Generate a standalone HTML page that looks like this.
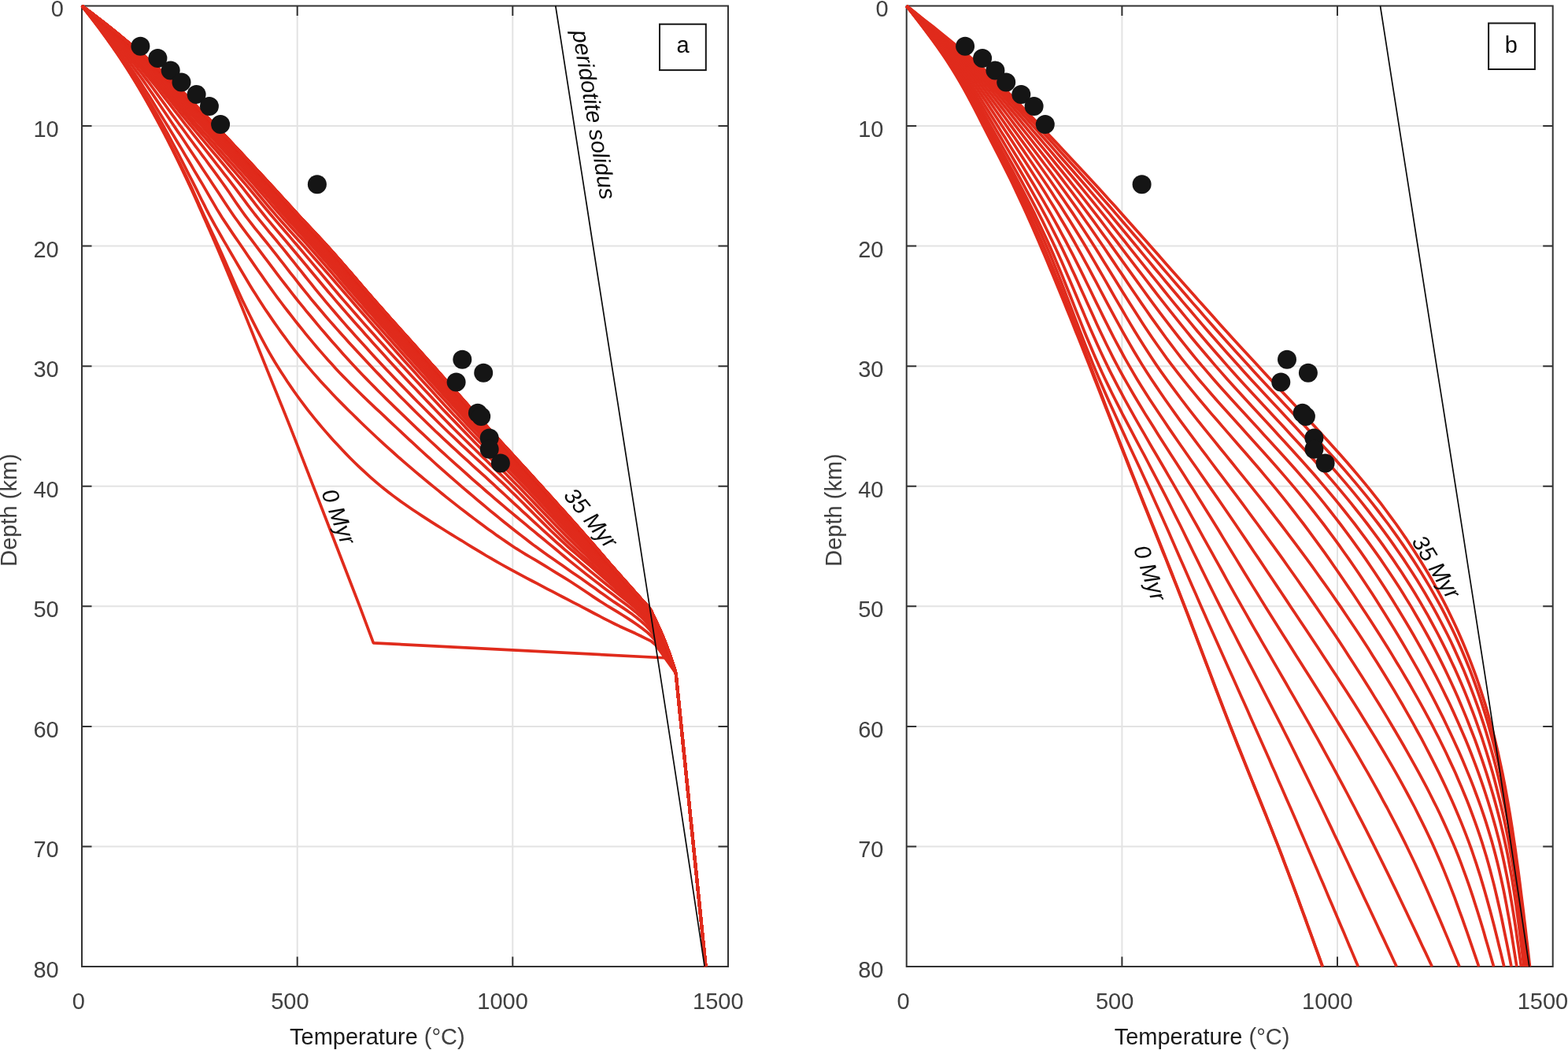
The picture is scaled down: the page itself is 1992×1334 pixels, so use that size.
<!DOCTYPE html>
<html lang="en">
<head>
<meta charset="utf-8">
<title>Geotherm evolution: delamination (a) versus progressive thinning (b)</title>
<style>
html,body{margin:0;padding:0;background:#fff;}
body{width:1992px;height:1334px;overflow:hidden;}
svg{display:block;}
svg text{font-family:'Liberation Sans', Arial, Helvetica, sans-serif;}
</style>
</head>
<body>
<svg xmlns="http://www.w3.org/2000/svg" width="1992" height="1334" viewBox="0 0 1992 1334">
<rect width="1992" height="1334" fill="#ffffff"/>
<g id="panel-a">
<path d="M377.7,7.5 V1228 M651.3,7.5 V1228 M104,160.1 H925 M104,312.6 H925 M104,465.2 H925 M104,617.8 H925 M104,770.3 H925 M104,922.9 H925 M104,1075.4 H925" stroke="#e3e3e3" stroke-width="2" fill="none"/>
<rect x="104" y="7.5" width="821" height="1220.5" fill="none" stroke="#333333" stroke-width="2"/>
<path d="M377.7,7.5 v12.5 M377.7,1228 v-12.5 M651.3,7.5 v12.5 M651.3,1228 v-12.5 M104,160.1 h12.5 M925,160.1 h-12.5 M104,312.6 h12.5 M925,312.6 h-12.5 M104,465.2 h12.5 M925,465.2 h-12.5 M104,617.8 h12.5 M925,617.8 h-12.5 M104,770.3 h12.5 M925,770.3 h-12.5 M104,922.9 h12.5 M925,922.9 h-12.5 M104,1075.4 h12.5 M925,1075.4 h-12.5" stroke="#333333" stroke-width="2" fill="none"/>
<clipPath id="clip-a"><rect x="102.5" y="6" width="824" height="1223"/></clipPath>
<g clip-path="url(#clip-a)" fill="none" stroke="#e02b1c" stroke-width="3.7" stroke-linejoin="round" stroke-linecap="butt">
<path d="M104,7.5 L104.5,8.2 L105.1,8.8 L105.6,9.5 L106.1,10.2 L106.6,10.8 L107.2,11.5 L107.7,12.2 L108.2,12.8 L108.7,13.5 L109.3,14.2 L109.8,14.8 L110.3,15.5 L110.8,16.2 L111.3,16.8 L111.9,17.5 L112.4,18.2 L112.9,18.8 L113.4,19.5 L113.9,20.2 L114.4,20.8 L115,21.5 L115.5,22.2 L116,22.8 L116.5,23.5 L117,24.2 L117.5,24.8 L118,25.5 L118.5,26.2 L119,26.8 L119.6,27.5 L120.1,28.2 L120.6,28.8 L121.1,29.5 L121.6,30.2 L122.1,30.8 L122.6,31.5 L123.1,32.2 L123.6,32.8 L124.1,33.5 L124.6,34.2 L125.1,34.8 L125.6,35.5 L126.1,36.2 L126.6,36.8 L127.1,37.5 L127.6,38.2 L128,38.8 L128.5,39.5 L129,40.2 L129.5,40.8 L130,41.5 L130.5,42.2 L131,42.8 L131.5,43.5 L132,44.2 L132.4,44.8 L132.9,45.5 L133.4,46.2 L133.9,46.8 L134.4,47.5 L134.9,48.2 L135.3,48.8 L135.8,49.5 L136.3,50.2 L136.8,50.8 L137.2,51.5 L137.7,52.2 L138.2,52.8 L138.7,53.5 L139.1,54.2 L139.6,54.8 L140.1,55.5 L140.6,56.2 L141,56.8 L141.5,57.5 L142,58.2 L142.4,58.8 L142.9,59.5 L143.4,60.2 L143.8,60.8 L144.3,61.5 L144.7,62.2 L145.2,62.8 L145.7,63.5 L146.1,64.2 L146.6,64.8 L147,65.5 L147.5,66.2 L147.9,66.8 L148.4,67.5 L148.9,68.2 L149.3,68.8 L149.8,69.5 L150.2,70.2 L150.7,70.8 L151.1,71.5 L151.6,72.2 L152,72.8 L152.4,73.5 L152.9,74.2 L153.3,74.8 L153.8,75.5 L154.2,76.2 L154.7,76.8 L155.1,77.5 L155.5,78.2 L156,78.8 L156.4,79.5 L156.8,80.2 L157.3,80.8 L157.7,81.5 L158.1,82.2 L158.6,82.8 L159,83.5 L159.4,84.2 L159.9,84.8 L160.3,85.5 L160.7,86.2 L161.1,86.8 L161.6,87.5 L162,88.2 L162.4,88.8 L162.8,89.5 L163.3,90.2 L163.7,90.8 L164.1,91.5 L164.5,92.1 L164.9,92.8 L165.4,93.5 L165.8,94.1 L166.2,94.8 L166.6,95.5 L167,96.1 L167.4,96.8 L167.8,97.5 L168.2,98.1 L168.7,98.8 L169.1,99.5 L169.5,100.1 L169.9,100.8 L170.3,101.5 L170.7,102.1 L171.1,102.8 L171.5,103.5 L171.9,104.1 L172.3,104.8 L172.7,105.5 L173.1,106.1 L173.5,106.8 L173.9,107.5 L174.3,108.1 L174.7,108.8 L175.1,109.5 L175.5,110.1 L175.9,110.8 L176.3,111.5 L176.7,112.1 L177.1,112.8 L177.5,113.5 L177.9,114.1 L178.3,114.8 L178.7,115.5 L179,116.1 L179.4,116.8 L179.8,117.5 L180.2,118.1 L180.6,118.8 L181,119.5 L181.4,120.1 L181.8,120.8 L182.1,121.5 L182.5,122.1 L182.9,122.8 L183.3,123.5 L183.7,124.1 L184.1,124.8 L184.4,125.5 L184.8,126.1 L185.2,126.8 L185.6,127.5 L186,128.1 L186.3,128.8 L186.7,129.5 L187.1,130.1 L187.5,130.8 L187.8,131.5 L188.2,132.1 L188.6,132.8 L189,133.5 L189.3,134.1 L189.7,134.8 L190.1,135.5 L190.5,136.1 L190.8,136.8 L191.2,137.5 L191.6,138.1 L191.9,138.8 L192.3,139.5 L192.7,140.1 L193.1,140.8 L193.4,141.5 L193.8,142.1 L194.2,142.8 L194.5,143.5 L194.9,144.1 L195.3,144.8 L195.6,145.5 L196,146.1 L196.3,146.8 L196.7,147.5 L197.1,148.1 L197.4,148.8 L197.8,149.5 L198.2,150.1 L198.5,150.8 L198.9,151.5 L199.2,152.1 L199.6,152.8 L200,153.5 L200.3,154.1 L200.7,154.8 L201,155.5 L201.4,156.1 L201.8,156.8 L202.1,157.5 L202.5,158.1 L202.8,158.8 L203.2,159.5 L203.5,160.1 L203.9,160.8 L204.3,161.5 L204.6,162.1 L205,162.8 L205.3,163.5 L205.7,164.1 L206,164.8 L206.4,165.5 L206.7,166.1 L207.1,166.8 L207.4,167.5 L207.8,168.1 L208.1,168.8 L208.5,169.5 L208.8,170.1 L209.2,170.8 L209.5,171.5 L209.8,172.1 L210.2,172.8 L210.5,173.5 L210.9,174.1 L211.2,174.8 L211.6,175.5 L211.9,176.1 L212.3,176.8 L212.6,177.5 L212.9,178.1 L213.3,178.8 L213.6,179.5 L214,180.1 L214.3,180.8 L214.6,181.5 L215,182.1 L215.3,182.8 L215.6,183.5 L216,184.1 L216.3,184.8 L216.7,185.5 L217,186.1 L217.3,186.8 L217.7,187.5 L218,188.1 L218.3,188.8 L218.7,189.5 L219,190.1 L219.3,190.8 L219.7,191.5 L220,192.1 L220.3,192.8 L220.6,193.5 L221,194.1 L221.3,194.8 L221.6,195.5 L222,196.1 L222.3,196.8 L222.6,197.5 L222.9,198.1 L223.3,198.8 L223.6,199.5 L223.9,200.1 L224.3,200.8 L224.6,201.5 L224.9,202.1 L225.2,202.8 L225.6,203.5 L225.9,204.1 L226.2,204.8 L226.5,205.5 L226.8,206.1 L227.2,206.8 L227.5,207.5 L227.8,208.1 L228.1,208.8 L228.5,209.5 L228.8,210.1 L229.1,210.8 L229.4,211.5 L229.7,212.1 L230.1,212.8 L230.4,213.5 L230.7,214.1 L231,214.8 L231.3,215.5 L231.7,216.1 L232,216.8 L232.3,217.5 L232.6,218.1 L232.9,218.8 L233.2,219.5 L233.6,220.1 L233.9,220.8 L234.2,221.5 L234.5,222.1 L234.8,222.8 L235.1,223.5 L235.5,224.1 L235.8,224.8 L236.1,225.5 L236.4,226.1 L236.7,226.8 L237,227.5 L237.3,228.1 L237.7,228.8 L238,229.5 L238.3,230.1 L238.6,230.8 L238.9,231.5 L239.2,232.1 L239.5,232.8 L239.8,233.5 L240.2,234.1 L240.5,234.8 L240.8,235.5 L241.1,236.1 L241.4,236.8 L241.7,237.5 L242,238.1 L242.3,238.8 L242.6,239.5 L243,240.1 L243.3,240.8 L243.6,241.5 L243.9,242.1 L244.2,242.8 L244.5,243.5 L244.8,244.1 L245.1,244.8 L245.4,245.5 L245.7,246.1 L246,246.8 L246.3,247.5 L246.6,248.1 L246.9,248.8 L247.2,249.5 L247.5,250.1 L247.8,250.8 L248.1,251.5 L248.4,252.1 L248.7,252.8 L249,253.5 L249.3,254.1 L249.6,254.8 L249.9,255.5 L250.2,256.1 L250.5,256.8 L250.8,257.5 L251.1,258.1 L251.4,258.8 L251.7,259.5 L252,260.1 L252.2,260.8 L252.5,261.4 L252.8,262.1 L253.1,262.8 L253.4,263.4 L253.7,264.1 L254,264.8 L254.3,265.4 L254.6,266.1 L254.9,266.8 L255.2,267.4 L255.5,268.1 L255.8,268.8 L256.1,269.4 L256.4,270.1 L256.7,270.8 L257,271.4 L257.3,272.1 L257.5,272.8 L257.8,273.4 L258.1,274.1 L258.4,274.8 L258.7,275.4 L259,276.1 L259.3,276.8 L259.6,277.4 L259.9,278.1 L260.2,278.8 L260.5,279.4 L260.8,280.1 L261.1,280.8 L261.4,281.4 L261.7,282.1 L262,282.8 L262.3,283.4 L262.6,284.1 L262.9,284.8 L263.2,285.4 L263.4,286.1 L263.7,286.8 L264,287.4 L264.3,288.1 L264.6,288.8 L264.9,289.4 L265.2,290.1 L265.5,290.8 L265.8,291.4 L266.1,292.1 L266.4,292.8 L266.7,293.4 L267,294.1 L267.3,294.8 L267.6,295.4 L267.8,296.1 L268.1,296.8 L268.4,297.4 L268.7,298.1 L269,298.8 L269.3,299.4 L269.6,300.1 L269.9,300.8 L270.2,301.4 L270.5,302.1 L270.7,302.8 L271,303.4 L271.3,304.1 L271.6,304.8 L271.9,305.4 L272.2,306.1 L272.5,306.8 L272.8,307.4 L273.1,308.1 L273.3,308.8 L273.6,309.4 L273.9,310.1 L274.2,310.8 L274.5,311.4 L274.8,312.1 L275.1,312.8 L275.3,313.4 L275.6,314.1 L275.9,314.8 L276.2,315.4 L276.5,316.1 L276.8,316.8 L277.1,317.4 L277.3,318.1 L277.6,318.8 L277.9,319.4 L278.2,320.1 L278.5,320.8 L278.8,321.4 L279,322.1 L279.3,322.8 L279.6,323.4 L279.9,324.1 L280.2,324.8 L280.5,325.4 L280.7,326.1 L281,326.8 L281.3,327.4 L281.6,328.1 L281.9,328.8 L282.1,329.4 L282.4,330.1 L282.7,330.8 L283,331.4 L283.3,332.1 L283.6,332.8 L283.8,333.4 L284.1,334.1 L284.4,334.8 L284.7,335.4 L285,336.1 L285.2,336.8 L285.5,337.4 L285.8,338.1 L286.1,338.8 L286.3,339.4 L286.6,340.1 L286.9,340.8 L287.2,341.4 L287.5,342.1 L287.7,342.8 L288,343.4 L288.3,344.1 L288.6,344.8 L288.9,345.4 L289.1,346.1 L289.4,346.8 L289.7,347.4 L290,348.1 L290.2,348.8 L290.5,349.4 L290.8,350.1 L291.1,350.8 L291.4,351.4 L291.6,352.1 L291.9,352.8 L292.2,353.4 L292.5,354.1 L292.7,354.8 L293,355.4 L293.3,356.1 L293.6,356.8 L293.8,357.4 L294.1,358.1 L294.4,358.8 L294.7,359.4 L294.9,360.1 L295.2,360.8 L295.5,361.4 L295.8,362.1 L296.1,362.8 L296.3,363.4 L296.6,364.1 L296.9,364.8 L297.2,365.4 L297.4,366.1 L297.7,366.8 L298,367.4 L298.3,368.1 L298.5,368.8 L298.8,369.4 L299.1,370.1 L299.4,370.8 L299.6,371.4 L299.9,372.1 L300.2,372.8 L300.4,373.4 L300.7,374.1 L301,374.8 L301.3,375.4 L301.5,376.1 L301.8,376.8 L302.1,377.4 L302.4,378.1 L302.6,378.8 L302.9,379.4 L303.2,380.1 L303.5,380.8 L303.7,381.4 L304,382.1 L304.3,382.8 L304.6,383.4 L304.8,384.1 L305.1,384.8 L305.4,385.4 L305.6,386.1 L305.9,386.8 L306.2,387.4 L306.5,388.1 L306.7,388.8 L307,389.4 L307.3,390.1 L307.6,390.8 L307.8,391.4 L308.1,392.1 L308.4,392.8 L308.6,393.4 L308.9,394.1 L309.2,394.8 L309.5,395.4 L309.7,396.1 L310,396.8 L310.3,397.4 L310.5,398.1 L310.8,398.8 L311.1,399.4 L311.4,400.1 L311.6,400.8 L311.9,401.4 L312.2,402.1 L312.4,402.8 L312.7,403.4 L313,404.1 L313.2,404.8 L313.5,405.4 L313.8,406.1 L314.1,406.8 L314.3,407.4 L314.6,408.1 L314.9,408.8 L315.1,409.4 L315.4,410.1 L315.7,410.8 L315.9,411.4 L316.2,412.1 L316.5,412.8 L316.7,413.4 L317,414.1 L317.3,414.8 L317.5,415.4 L317.8,416.1 L318.1,416.8 L318.4,417.4 L318.6,418.1 L318.9,418.8 L319.2,419.4 L319.4,420.1 L319.7,420.8 L320,421.4 L320.2,422.1 L320.5,422.8 L320.8,423.4 L321,424.1 L321.3,424.8 L321.6,425.4 L321.8,426.1 L322.1,426.8 L322.4,427.4 L322.6,428.1 L322.9,428.8 L323.2,429.4 L323.4,430.1 L323.7,430.7 L324,431.4 L324.2,432.1 L324.5,432.7 L324.8,433.4 L325,434.1 L325.3,434.7 L325.6,435.4 L325.8,436.1 L326.1,436.7 L326.4,437.4 L326.6,438.1 L326.9,438.7 L327.2,439.4 L327.4,440.1 L327.7,440.7 L328,441.4 L328.2,442.1 L328.5,442.7 L328.8,443.4 L329,444.1 L329.3,444.7 L329.6,445.4 L329.8,446.1 L330.1,446.7 L330.4,447.4 L330.6,448.1 L330.9,448.7 L331.2,449.4 L331.4,450.1 L331.7,450.7 L332,451.4 L332.2,452.1 L332.5,452.7 L332.8,453.4 L333,454.1 L333.3,454.7 L333.6,455.4 L333.8,456.1 L334.1,456.7 L334.4,457.4 L334.6,458.1 L334.9,458.7 L335.2,459.4 L335.4,460.1 L335.7,460.7 L336,461.4 L336.2,462.1 L336.5,462.7 L336.8,463.4 L337.1,464.1 L337.3,464.7 L337.6,465.4 L337.9,466.1 L338.1,466.7 L338.4,467.4 L338.7,468.1 L338.9,468.7 L339.2,469.4 L339.5,470.1 L339.7,470.7 L340,471.4 L340.3,472.1 L340.6,472.7 L340.8,473.4 L341.1,474.1 L341.4,474.7 L341.6,475.4 L341.9,476.1 L342.2,476.7 L342.4,477.4 L342.7,478.1 L343,478.7 L343.3,479.4 L343.5,480.1 L343.8,480.7 L344.1,481.4 L344.3,482.1 L344.6,482.7 L344.9,483.4 L345.1,484.1 L345.4,484.7 L345.7,485.4 L346,486.1 L346.2,486.7 L346.5,487.4 L346.8,488.1 L347,488.7 L347.3,489.4 L347.6,490.1 L347.9,490.7 L348.1,491.4 L348.4,492.1 L348.7,492.7 L348.9,493.4 L349.2,494.1 L349.5,494.7 L349.7,495.4 L350,496.1 L350.3,496.7 L350.6,497.4 L350.8,498.1 L351.1,498.7 L351.4,499.4 L351.6,500.1 L351.9,500.7 L352.2,501.4 L352.5,502.1 L352.7,502.7 L353,503.4 L353.3,504.1 L353.5,504.7 L353.8,505.4 L354.1,506.1 L354.3,506.7 L354.6,507.4 L354.9,508.1 L355.2,508.7 L355.4,509.4 L355.7,510.1 L356,510.7 L356.2,511.4 L356.5,512.1 L356.8,512.7 L357,513.4 L357.3,514.1 L357.6,514.7 L357.9,515.4 L358.1,516.1 L358.4,516.7 L358.7,517.4 L358.9,518.1 L359.2,518.7 L359.5,519.4 L359.7,520.1 L360,520.7 L360.3,521.4 L360.5,522.1 L360.8,522.7 L361.1,523.4 L361.3,524.1 L361.6,524.7 L361.9,525.4 L362.2,526.1 L362.4,526.7 L362.7,527.4 L363,528.1 L363.2,528.7 L363.5,529.4 L363.8,530.1 L364,530.7 L364.3,531.4 L364.6,532.1 L364.8,532.7 L365.1,533.4 L365.4,534.1 L365.6,534.7 L365.9,535.4 L366.2,536.1 L366.4,536.7 L366.7,537.4 L366.9,538.1 L367.2,538.7 L367.5,539.4 L367.7,540.1 L368,540.7 L368.3,541.4 L368.5,542.1 L368.8,542.7 L369.1,543.4 L369.3,544.1 L369.6,544.7 L369.9,545.4 L370.1,546.1 L370.4,546.7 L370.6,547.4 L370.9,548.1 L371.2,548.7 L371.4,549.4 L371.7,550.1 L372,550.7 L372.2,551.4 L372.5,552.1 L372.7,552.7 L373,553.4 L373.3,554.1 L373.5,554.7 L373.8,555.4 L374.1,556.1 L374.3,556.7 L374.6,557.4 L374.8,558.1 L375.1,558.7 L375.4,559.4 L375.6,560.1 L375.9,560.7 L376.1,561.4 L376.4,562.1 L376.7,562.7 L376.9,563.4 L377.2,564.1 L377.4,564.7 L377.7,565.4 L378,566.1 L378.2,566.7 L378.5,567.4 L378.7,568.1 L379,568.7 L379.3,569.4 L379.5,570.1 L379.8,570.7 L380,571.4 L380.3,572.1 L380.6,572.7 L380.8,573.4 L381.1,574.1 L381.3,574.7 L381.6,575.4 L381.9,576.1 L382.1,576.7 L382.4,577.4 L382.6,578.1 L382.9,578.7 L383.1,579.4 L383.4,580.1 L383.7,580.7 L383.9,581.4 L384.2,582.1 L384.4,582.7 L384.7,583.4 L385,584.1 L385.2,584.7 L385.5,585.4 L385.7,586.1 L386,586.7 L386.2,587.4 L386.5,588.1 L386.8,588.7 L387,589.4 L387.3,590.1 L387.5,590.7 L387.8,591.4 L388,592.1 L388.3,592.7 L388.6,593.4 L388.8,594.1 L389.1,594.7 L389.3,595.4 L389.6,596.1 L389.9,596.7 L390.1,597.4 L390.4,598.1 L390.6,598.7 L390.9,599.4 L391.1,600 L391.4,600.7 L391.7,601.4 L391.9,602 L392.2,602.7 L392.4,603.4 L392.7,604 L392.9,604.7 L393.2,605.4 L393.5,606 L393.7,606.7 L394,607.4 L394.2,608 L394.5,608.7 L394.8,609.4 L395,610 L395.3,610.7 L395.5,611.4 L395.8,612 L396,612.7 L396.3,613.4 L396.6,614 L396.8,614.7 L397.1,615.4 L397.3,616 L397.6,616.7 L397.9,617.4 L398.1,618 L398.4,618.7 L398.6,619.4 L398.9,620 L399.1,620.7 L399.4,621.4 L399.7,622 L399.9,622.7 L400.2,623.4 L400.4,624 L400.7,624.7 L401,625.4 L401.2,626 L401.5,626.7 L401.7,627.4 L402,628 L402.3,628.7 L402.5,629.4 L402.8,630 L403,630.7 L403.3,631.4 L403.5,632 L403.8,632.7 L404.1,633.4 L404.3,634 L404.6,634.7 L404.8,635.4 L405.1,636 L405.4,636.7 L405.6,637.4 L405.9,638 L406.1,638.7 L406.4,639.4 L406.6,640 L406.9,640.7 L407.2,641.4 L407.4,642 L407.7,642.7 L407.9,643.4 L408.2,644 L408.4,644.7 L408.7,645.4 L409,646 L409.2,646.7 L409.5,647.4 L409.7,648 L410,648.7 L410.3,649.4 L410.5,650 L410.8,650.7 L411,651.4 L411.3,652 L411.5,652.7 L411.8,653.4 L412.1,654 L412.3,654.7 L412.6,655.4 L412.8,656 L413.1,656.7 L413.3,657.4 L413.6,658 L413.9,658.7 L414.1,659.4 L414.4,660 L414.6,660.7 L414.9,661.4 L415.2,662 L415.4,662.7 L415.7,663.4 L415.9,664 L416.2,664.7 L416.4,665.4 L416.7,666 L417,666.7 L417.2,667.4 L417.5,668 L417.7,668.7 L418,669.4 L418.2,670 L418.5,670.7 L418.8,671.4 L419,672 L419.3,672.7 L419.5,673.4 L419.8,674 L420,674.7 L420.3,675.4 L420.6,676 L420.8,676.7 L421.1,677.4 L421.3,678 L421.6,678.7 L421.8,679.4 L422.1,680 L422.4,680.7 L422.6,681.4 L422.9,682 L423.1,682.7 L423.4,683.4 L423.6,684 L423.9,684.7 L424.2,685.4 L424.4,686 L424.7,686.7 L424.9,687.4 L425.2,688 L425.4,688.7 L425.7,689.4 L426,690 L426.2,690.7 L426.5,691.4 L426.7,692 L427,692.7 L427.2,693.4 L427.5,694 L457,770.3 L474.4,816.8 L848.2,836 L858.6,855.2 L896.6,1228"/>
<path d="M104,7.5 L108.6,13.3 L113.2,19.1 L117.7,24.9 L122.2,30.8 L126.7,36.7 L131,42.6 L135.4,48.6 L139.7,54.6 L143.9,60.6 L148.1,66.7 L152.2,72.8 L156.3,78.9 L160.3,85 L164.2,91.2 L168.1,97.5 L172,103.8 L175.8,110.1 L179.5,116.4 L183.3,122.8 L186.9,129.2 L190.6,135.7 L194.2,142.1 L197.7,148.6 L201.3,155 L204.8,161.5 L208.3,168 L211.7,174.5 L215.1,181 L218.5,187.6 L221.8,194.2 L225.1,200.8 L228.4,207.4 L231.7,214 L234.9,220.6 L238.1,227.3 L241.2,233.9 L244.4,240.6 L247.4,247.3 L250.5,254 L253.4,260.8 L256.4,267.5 L259.5,274.2 L262.6,280.9 L265.7,287.6 L268.8,294.3 L271.9,300.9 L275,307.6 L278.1,314.3 L281.1,321.1 L284.1,327.8 L287.1,334.5 L290,341.3 L293,348.1 L295.9,354.8 L298.9,361.6 L301.9,368.3 L305,375 L308.1,381.7 L311.3,388.3 L314.5,394.9 L317.8,401.5 L321.1,408.1 L324.4,414.7 L327.8,421.3 L331.2,427.9 L334.7,434.4 L338.2,440.9 L341.8,447.3 L345.5,453.7 L349.2,460 L353.1,466.3 L357,472.5 L361,478.6 L365,484.8 L369.2,490.9 L373.4,497 L377.7,503 L382.1,509 L386.5,514.9 L391,520.8 L395.6,526.6 L400.2,532.3 L404.9,538 L409.6,543.6 L414.4,549.1 L419.3,554.7 L424.2,560.2 L429.2,565.6 L434.3,571.1 L439.4,576.4 L444.6,581.7 L449.9,587 L455.2,592.1 L460.6,597.2 L466,602.2 L471.5,607.1 L477,611.9 L482.6,616.6 L488.3,621.2 L494,625.7 L499.8,630.1 L505.7,634.5 L511.6,638.8 L517.7,643 L523.8,647.2 L529.9,651.3 L536.1,655.4 L542.3,659.4 L548.5,663.4 L554.8,667.4 L561.1,671.3 L567.4,675.2 L573.7,679.1 L580,683 L586.4,686.8 L592.6,690.7 L598.9,694.6 L605.2,698.4 L611.5,702.2 L617.8,706 L624.2,709.7 L630.6,713.4 L637,717 L643.5,720.6 L649.9,724.2 L656.4,727.7 L662.9,731.1 L669.4,734.6 L675.9,738 L682.5,741.4 L689,744.9 L695.5,748.3 L702.1,751.7 L708.6,755.1 L715.1,758.5 L721.7,761.9 L728.2,765.3 L734.8,768.7 L741.3,772.1 L747.8,775.5 L754.3,779 L760.9,782.4 L767.4,785.8 L774,789.2 L780.6,792.5 L787.2,795.7 L793.9,798.7 L800.6,801.8 L807.4,804.8 L814,808 L820.7,811.3 L827.4,814.7 L832.9,819.2 L837.2,825.2 L841.5,831.2 L845.7,837.2 L850,843.2 L854.3,849.2 L858.6,855.2 L896.6,1228"/>
<path d="M104,7.5 L108.7,13.1 L113.3,18.8 L117.8,24.5 L122.3,30.2 L126.8,35.9 L131.2,41.7 L135.6,47.5 L139.9,53.3 L144.2,59.2 L148.4,65.1 L152.6,71 L156.7,77 L160.8,83 L164.8,89 L168.8,95.1 L172.7,101.2 L176.6,107.3 L180.4,113.5 L184.2,119.7 L187.9,126 L191.6,132.3 L195.3,138.5 L199,144.8 L202.6,151.1 L206.1,157.5 L209.7,163.8 L213.2,170.2 L216.6,176.6 L220,183 L223.4,189.4 L226.8,195.9 L230.1,202.3 L233.4,208.8 L236.7,215.3 L240,221.8 L243.3,228.2 L246.6,234.7 L249.9,241.2 L253.1,247.7 L256.3,254.2 L259.6,260.7 L262.8,267.2 L266.2,273.7 L269.7,280 L273.2,286.4 L276.8,292.7 L280.4,299 L284,305.3 L287.7,311.6 L291.3,317.9 L295,324.2 L298.6,330.4 L302.3,336.7 L306,343 L309.7,349.3 L313.4,355.5 L317.1,361.8 L320.9,368 L324.8,374.1 L328.7,380.3 L332.6,386.3 L336.6,392.4 L340.7,398.4 L344.8,404.4 L348.9,410.4 L353.1,416.3 L357.4,422.3 L361.7,428.2 L366,434 L370.4,439.8 L374.8,445.6 L379.3,451.3 L383.8,457 L388.4,462.6 L393.1,468.1 L397.8,473.6 L402.6,479 L407.4,484.4 L412.3,489.8 L417.3,495.1 L422.3,500.4 L427.3,505.7 L432.4,510.9 L437.6,516.1 L442.7,521.2 L447.9,526.3 L453.1,531.4 L458.3,536.5 L463.5,541.5 L468.8,546.5 L474.1,551.5 L479.4,556.5 L484.7,561.4 L490.1,566.3 L495.5,571.2 L500.9,576 L506.3,580.8 L511.8,585.6 L517.3,590.4 L522.9,595.1 L528.4,599.8 L534,604.5 L539.5,609.2 L545.1,613.8 L550.8,618.4 L556.4,622.9 L562,627.5 L567.7,632.1 L573.4,636.6 L579.1,641.1 L584.8,645.6 L590.6,650 L596.4,654.5 L602.2,658.9 L608,663.3 L613.8,667.6 L619.7,671.9 L625.6,676.1 L631.5,680.4 L637.5,684.5 L643.5,688.6 L649.5,692.7 L655.5,696.7 L661.7,700.5 L667.9,704.3 L674.1,708 L680.4,711.7 L686.6,715.4 L692.8,719.2 L699,723 L705.2,726.8 L711.4,730.6 L717.6,734.4 L723.8,738.3 L729.9,742.2 L736,746.2 L742,750.2 L748,754.3 L754,758.4 L760.1,762.4 L766.2,766.3 L772.4,770.2 L778.6,773.9 L784.8,777.7 L791,781.5 L797.1,785.4 L803.2,789.4 L809.2,793.5 L815.1,797.8 L820.9,802.2 L826.4,807 L831.2,812.3 L835.2,818.4 L839.2,824.5 L843.2,830.6 L847.1,836.7 L851,842.8 L854.8,849 L858.6,855.2 L896.6,1228"/>
<path d="M104,7.5 L108.7,13 L113.4,18.5 L118.1,24 L122.7,29.6 L127.3,35.2 L131.8,40.8 L136.3,46.5 L140.7,52.2 L145.1,57.9 L149.5,63.7 L153.7,69.5 L158,75.3 L162.2,81.1 L166.4,87 L170.4,92.9 L174.5,98.9 L178.5,104.9 L182.4,111 L186.3,117 L190.2,123.1 L194,129.3 L197.8,135.4 L201.6,141.6 L205.4,147.7 L209.2,153.9 L213,160 L216.8,166.2 L220.5,172.3 L224.2,178.5 L228,184.7 L231.7,190.9 L235.3,197.1 L239,203.3 L242.7,209.5 L246.3,215.8 L250,222 L253.7,228.2 L257.4,234.4 L261,240.6 L264.6,246.9 L268.2,253.1 L271.9,259.4 L275.5,265.6 L279.3,271.8 L283.1,277.9 L287.1,283.9 L291.1,289.9 L295.1,295.9 L299.2,301.9 L303.3,307.8 L307.4,313.7 L311.5,319.7 L315.5,325.7 L319.6,331.6 L323.7,337.6 L327.8,343.5 L332,349.4 L336.1,355.4 L340.3,361.3 L344.5,367.1 L348.7,373 L353,378.8 L357.3,384.5 L361.7,390.3 L366.1,396 L370.5,401.7 L374.9,407.4 L379.4,413 L384,418.7 L388.5,424.3 L393.1,429.9 L397.7,435.4 L402.4,441 L407.1,446.4 L411.9,451.9 L416.6,457.3 L421.5,462.6 L426.3,467.9 L431.2,473.2 L436.2,478.4 L441.3,483.5 L446.3,488.6 L451.5,493.7 L456.6,498.8 L461.8,503.8 L467,508.8 L472.3,513.8 L477.5,518.8 L482.8,523.7 L488.1,528.7 L493.3,533.6 L498.6,538.6 L503.9,543.5 L509.1,548.4 L514.4,553.4 L519.7,558.3 L525,563.2 L530.3,568.1 L535.6,573 L540.9,577.9 L546.3,582.7 L551.6,587.5 L557,592.4 L562.4,597.2 L567.8,601.9 L573.2,606.7 L578.7,611.4 L584.1,616.2 L589.6,620.9 L595.1,625.5 L600.6,630.2 L606.1,634.9 L611.7,639.5 L617.2,644.1 L622.8,648.8 L628.3,653.3 L633.9,657.9 L639.5,662.5 L645.2,667 L650.8,671.5 L656.5,676 L662.2,680.4 L667.9,684.8 L673.6,689.2 L679.4,693.6 L685.2,697.8 L691,702.1 L696.9,706.2 L702.8,710.3 L708.8,714.5 L714.7,718.6 L720.6,722.7 L726.5,726.9 L732.5,731 L738.4,735.1 L744.3,739.2 L750.2,743.4 L756,747.6 L761.9,751.9 L767.8,756.1 L773.6,760.2 L779.6,764.4 L785.6,768.4 L791.6,772.4 L797.6,776.4 L803.5,780.6 L809.2,785 L814.8,789.6 L820.2,794.4 L825.2,799.6 L829.6,805.3 L833.5,811.4 L837.2,817.5 L840.9,823.7 L844.6,830 L848.2,836.2 L851.7,842.5 L855.2,848.8 L858.6,855.2 L896.6,1228"/>
<path d="M104,7.5 L108.9,12.8 L113.7,18.1 L118.6,23.5 L123.3,28.9 L128.1,34.3 L132.8,39.8 L137.4,45.3 L142,50.8 L146.6,56.3 L151.1,61.9 L155.6,67.5 L160.1,73.2 L164.5,78.8 L168.8,84.5 L173.1,90.3 L177.4,96 L181.6,101.9 L185.7,107.8 L189.8,113.7 L193.9,119.6 L197.9,125.6 L201.9,131.5 L205.9,137.5 L210,143.5 L214,149.5 L218,155.5 L222,161.4 L226,167.4 L230.1,173.3 L234.1,179.3 L238,185.3 L242,191.3 L246,197.3 L250,203.3 L254,209.3 L257.9,215.2 L261.9,221.2 L265.9,227.2 L269.8,233.2 L273.8,239.2 L277.8,245.2 L281.7,251.3 L285.6,257.3 L289.6,263.3 L293.6,269.3 L297.7,275.2 L301.9,281 L306.1,286.8 L310.4,292.6 L314.7,298.3 L319.1,304.1 L323.4,309.8 L327.7,315.6 L332,321.3 L336.3,327.1 L340.7,332.8 L345,338.6 L349.3,344.3 L353.6,350.1 L358,355.8 L362.4,361.5 L366.8,367.2 L371.2,372.9 L375.6,378.5 L380.1,384.1 L384.7,389.7 L389.2,395.3 L393.8,400.8 L398.4,406.3 L403,411.9 L407.6,417.4 L412.3,422.8 L417,428.3 L421.7,433.7 L426.5,439.1 L431.3,444.5 L436.1,449.9 L440.9,455.2 L445.7,460.5 L450.6,465.8 L455.5,471 L460.5,476.2 L465.5,481.4 L470.5,486.5 L475.6,491.6 L480.6,496.7 L485.7,501.8 L490.8,506.9 L496,511.9 L501.1,516.9 L506.3,521.9 L511.5,526.9 L516.7,531.9 L521.9,536.9 L527.1,541.8 L532.3,546.8 L537.5,551.7 L542.8,556.6 L548,561.5 L553.3,566.4 L558.6,571.3 L563.9,576.2 L569.2,581 L574.6,585.8 L579.9,590.6 L585.3,595.4 L590.6,600.2 L596,605 L601.4,609.8 L606.8,614.5 L612.2,619.2 L617.6,624 L623.1,628.7 L628.5,633.3 L634,638 L639.5,642.6 L645,647.3 L650.5,651.9 L656,656.5 L661.6,661.1 L667.1,665.7 L672.6,670.3 L678.2,674.9 L683.7,679.5 L689.3,684 L694.8,688.6 L700.3,693.2 L705.9,697.8 L711.4,702.4 L716.9,707 L722.5,711.6 L728.1,716.1 L733.7,720.6 L739.3,725.1 L744.9,729.6 L750.6,734 L756.2,738.4 L762,742.8 L767.7,747.2 L773.4,751.5 L779.2,755.8 L784.9,760.2 L790.7,764.5 L796.5,768.8 L802.2,773.2 L807.7,777.7 L813.1,782.5 L818.3,787.5 L823.2,792.7 L827.5,798.5 L831.3,804.6 L835,810.8 L838.6,817 L842.1,823.3 L845.5,829.6 L848.9,835.9 L852.2,842.3 L855.4,848.7 L858.6,855.2 L896.6,1228"/>
<path d="M104,7.5 L109,12.6 L114,17.8 L119,23 L123.9,28.2 L128.8,33.5 L133.7,38.8 L138.5,44.1 L143.3,49.5 L148.1,54.9 L152.8,60.3 L157.4,65.7 L162.1,71.2 L166.7,76.7 L171.2,82.2 L175.7,87.8 L180.2,93.4 L184.5,99 L188.9,104.7 L193.2,110.5 L197.5,116.3 L201.7,122.1 L205.9,127.9 L210.1,133.7 L214.3,139.5 L218.5,145.4 L222.8,151.2 L227,157 L231.3,162.7 L235.6,168.5 L239.8,174.3 L244.1,180 L248.4,185.8 L252.7,191.5 L257,197.3 L261.3,203 L265.5,208.8 L269.8,214.6 L274,220.4 L278.2,226.2 L282.4,232 L286.6,237.9 L290.7,243.8 L294.7,249.7 L298.7,255.7 L302.8,261.6 L306.9,267.5 L311.1,273.3 L315.4,279 L319.8,284.7 L324.2,290.3 L328.8,295.9 L333.3,301.5 L337.8,307 L342.3,312.6 L346.8,318.3 L351.2,323.9 L355.6,329.6 L360,335.2 L364.4,340.9 L368.8,346.6 L373.3,352.2 L377.7,357.9 L382.1,363.5 L386.6,369.1 L391.1,374.7 L395.6,380.3 L400.2,385.8 L404.8,391.3 L409.5,396.8 L414.1,402.2 L418.8,407.6 L423.6,413 L428.3,418.4 L433.1,423.8 L437.9,429.1 L442.7,434.4 L447.6,439.7 L452.4,445 L457.3,450.3 L462.2,455.6 L467.1,460.8 L472,466 L476.9,471.2 L481.9,476.4 L486.8,481.6 L491.8,486.8 L496.8,491.9 L501.9,497 L506.9,502.2 L512,507.3 L517,512.3 L522.1,517.4 L527.2,522.5 L532.3,527.5 L537.5,532.5 L542.6,537.5 L547.8,542.5 L552.9,547.5 L558.2,552.4 L563.4,557.3 L568.6,562.2 L573.9,567.1 L579.2,571.9 L584.5,576.8 L589.8,581.6 L595.1,586.4 L600.4,591.3 L605.7,596.1 L611,600.9 L616.4,605.7 L621.7,610.6 L627,615.4 L632.2,620.3 L637.5,625.1 L642.8,630 L648,634.9 L653.3,639.8 L658.6,644.7 L663.8,649.6 L669.1,654.4 L674.4,659.3 L679.6,664.2 L684.9,669 L690.2,673.9 L695.5,678.7 L700.9,683.5 L706.2,688.3 L711.6,693 L717,697.8 L722.4,702.4 L727.9,707.1 L733.4,711.7 L738.8,716.4 L744.3,721 L749.8,725.6 L755.3,730.2 L760.9,734.8 L766.4,739.3 L772,743.8 L777.6,748.3 L783.2,752.8 L788.7,757.4 L794.3,761.9 L799.9,766.4 L805.4,771.1 L810.7,775.8 L815.9,780.9 L820.8,786.1 L825.3,791.7 L829.1,797.7 L832.7,804 L836.2,810.2 L839.6,816.5 L843,822.9 L846.3,829.3 L849.5,835.7 L852.6,842.2 L855.6,848.7 L858.6,855.2 L896.6,1228"/>
<path d="M104,7.5 L109.2,12.5 L114.3,17.5 L119.4,22.6 L124.5,27.7 L129.5,32.8 L134.5,37.9 L139.5,43.1 L144.4,48.3 L149.3,53.5 L154.2,58.8 L159,64.1 L163.8,69.4 L168.6,74.7 L173.3,80.1 L178,85.5 L182.6,91 L187.2,96.5 L191.8,102 L196.3,107.6 L200.7,113.2 L205.1,118.9 L209.5,124.5 L213.9,130.2 L218.3,135.9 L222.7,141.6 L227.1,147.2 L231.5,152.9 L235.9,158.6 L240.4,164.2 L244.8,169.8 L249.2,175.4 L253.7,181.1 L258.1,186.7 L262.6,192.3 L267,198 L271.4,203.6 L275.8,209.3 L280.2,214.9 L284.6,220.6 L289,226.2 L293.4,231.9 L297.8,237.6 L302.1,243.3 L306.4,249.1 L310.7,254.8 L314.9,260.6 L319.3,266.3 L323.6,272 L328.1,277.6 L332.6,283.2 L337.1,288.7 L341.7,294.3 L346.3,299.8 L350.9,305.3 L355.4,310.8 L360,316.4 L364.5,322 L368.9,327.6 L373.4,333.2 L377.9,338.8 L382.4,344.4 L386.8,350 L391.3,355.6 L395.8,361.2 L400.3,366.8 L404.8,372.3 L409.4,377.9 L413.9,383.4 L418.6,388.9 L423.2,394.3 L427.9,399.7 L432.6,405.2 L437.3,410.6 L442,415.9 L446.8,421.3 L451.6,426.7 L456.4,432 L461.2,437.3 L466,442.6 L470.9,447.9 L475.7,453.2 L480.6,458.4 L485.5,463.7 L490.4,468.9 L495.3,474.1 L500.2,479.3 L505.2,484.5 L510.2,489.6 L515.2,494.8 L520.2,499.9 L525.2,505.1 L530.2,510.2 L535.3,515.2 L540.3,520.3 L545.4,525.4 L550.5,530.4 L555.6,535.5 L560.7,540.5 L565.8,545.5 L571,550.5 L576.2,555.4 L581.4,560.4 L586.6,565.3 L591.8,570.2 L597.1,575.1 L602.3,580 L607.6,584.8 L612.9,589.7 L618.1,594.6 L623.4,599.5 L628.6,604.4 L633.8,609.3 L639,614.2 L644.2,619.2 L649.3,624.2 L654.5,629.2 L659.6,634.2 L664.7,639.3 L669.7,644.4 L674.8,649.4 L679.9,654.5 L685,659.6 L690.1,664.6 L695.2,669.7 L700.3,674.7 L705.5,679.6 L710.7,684.6 L715.9,689.4 L721.2,694.3 L726.5,699 L732,703.7 L737.4,708.4 L742.9,713 L748.3,717.7 L753.7,722.4 L759.1,727.2 L764.5,731.9 L769.9,736.6 L775.2,741.4 L780.6,746.1 L786,750.9 L791.3,755.7 L796.8,760.3 L802.2,765 L807.6,769.8 L812.7,774.7 L817.7,779.9 L822.5,785.3 L826.7,791 L830.4,797.2 L833.8,803.5 L837.2,809.8 L840.5,816.2 L843.8,822.6 L846.9,829 L850,835.5 L852.9,842 L855.8,848.6 L858.6,855.2 L896.6,1228"/>
<path d="M104,7.5 L109.3,12.4 L114.5,17.3 L119.7,22.3 L124.9,27.3 L130,32.3 L135.1,37.3 L140.2,42.4 L145.2,47.5 L150.2,52.6 L155.2,57.8 L160.1,62.9 L165.1,68.1 L169.9,73.4 L174.8,78.6 L179.6,83.9 L184.4,89.3 L189.1,94.6 L193.7,100.1 L198.3,105.6 L202.9,111.1 L207.5,116.6 L212,122.2 L216.5,127.7 L221,133.3 L225.5,138.9 L230,144.5 L234.6,150.1 L239.1,155.6 L243.7,161.1 L248.3,166.6 L252.9,172.1 L257.5,177.6 L262.1,183.1 L266.7,188.6 L271.3,194 L276,199.5 L280.6,205 L285.2,210.5 L289.7,216 L294.3,221.5 L298.9,227.1 L303.4,232.6 L307.9,238.2 L312.4,243.8 L316.8,249.5 L321.2,255.1 L325.6,260.8 L330,266.4 L334.5,272 L339,277.6 L343.6,283.1 L348.2,288.6 L352.8,294.1 L357.4,299.5 L362.1,305 L366.7,310.5 L371.3,316 L375.9,321.5 L380.5,327 L385.1,332.5 L389.7,338 L394.2,343.5 L398.8,349 L403.4,354.5 L408,360 L412.6,365.5 L417.2,371 L421.9,376.4 L426.5,381.9 L431.2,387.3 L435.9,392.7 L440.6,398.1 L445.3,403.5 L450.1,408.9 L454.8,414.3 L459.6,419.6 L464.3,425 L469.1,430.3 L473.9,435.7 L478.7,441 L483.5,446.3 L488.3,451.6 L493.2,456.9 L498,462.2 L502.9,467.4 L507.7,472.7 L512.6,477.9 L517.5,483.2 L522.4,488.4 L527.3,493.6 L532.2,498.8 L537.2,504 L542.1,509.2 L547.1,514.4 L552,519.6 L557,524.7 L562,529.9 L567,535 L572,540.1 L577.1,545.2 L582.1,550.3 L587.2,555.3 L592.3,560.3 L597.5,565.3 L602.6,570.3 L607.7,575.3 L612.9,580.3 L618,585.3 L623.2,590.3 L628.3,595.3 L633.5,600.3 L638.6,605.3 L643.7,610.3 L648.8,615.3 L653.9,620.4 L659,625.5 L664,630.6 L669,635.7 L674,640.9 L679,646 L683.9,651.2 L688.9,656.3 L693.9,661.5 L698.9,666.6 L703.9,671.7 L709,676.8 L714.1,681.9 L719.2,686.9 L724.4,691.8 L729.6,696.7 L734.9,701.5 L740.3,706.3 L745.6,711 L751,715.8 L756.3,720.6 L761.6,725.4 L766.9,730.2 L772.2,735 L777.5,739.9 L782.8,744.7 L788.1,749.5 L793.4,754.4 L798.8,759.1 L804.1,763.9 L809.4,768.8 L814.4,773.8 L819.4,779.1 L823.9,784.5 L828.1,790.4 L831.4,796.7 L834.8,803.1 L838.1,809.4 L841.3,815.8 L844.4,822.3 L847.4,828.8 L850.4,835.3 L853.2,841.9 L855.9,848.5 L858.6,855.2 L896.6,1228"/>
<path d="M104,7.5 L109.3,12.3 L114.6,17.2 L119.9,22 L125.2,26.9 L130.4,31.9 L135.6,36.8 L140.7,41.8 L145.8,46.8 L150.9,51.9 L156,56.9 L161,62 L166,67.2 L171,72.3 L175.9,77.5 L180.8,82.7 L185.7,87.9 L190.5,93.2 L195.3,98.5 L200,103.9 L204.7,109.4 L209.3,114.8 L214,120.3 L218.6,125.8 L223.2,131.3 L227.8,136.8 L232.4,142.3 L237,147.8 L241.7,153.2 L246.3,158.7 L251,164.1 L255.7,169.5 L260.4,174.9 L265.1,180.3 L269.8,185.7 L274.6,191.1 L279.3,196.5 L284,201.9 L288.7,207.3 L293.4,212.7 L298.1,218.1 L302.8,223.6 L307.4,229 L312.1,234.4 L316.7,239.9 L321.3,245.4 L325.9,250.9 L330.5,256.5 L335,262 L339.6,267.5 L344.2,273 L348.8,278.4 L353.5,283.9 L358.2,289.3 L362.9,294.7 L367.6,300.1 L372.2,305.6 L376.9,311 L381.6,316.5 L386.2,321.9 L390.8,327.4 L395.5,332.9 L400.1,338.4 L404.7,343.8 L409.3,349.3 L413.9,354.8 L418.5,360.3 L423.1,365.8 L427.8,371.2 L432.4,376.7 L437.1,382.1 L441.8,387.5 L446.5,392.9 L451.2,398.3 L456,403.7 L460.7,409.1 L465.5,414.4 L470.2,419.8 L475,425.1 L479.8,430.4 L484.6,435.8 L489.4,441.1 L494.2,446.4 L499.1,451.7 L503.9,457 L508.7,462.3 L513.6,467.5 L518.4,472.8 L523.3,478.1 L528.2,483.3 L533.1,488.6 L537.9,493.8 L542.9,499 L547.8,504.3 L552.7,509.5 L557.6,514.7 L562.5,519.9 L567.5,525.1 L572.4,530.2 L577.4,535.4 L582.4,540.6 L587.3,545.7 L592.3,550.9 L597.3,556 L602.3,561.2 L607.3,566.3 L612.4,571.4 L617.4,576.5 L622.4,581.6 L627.5,586.7 L632.5,591.8 L637.5,596.9 L642.6,602 L647.6,607.1 L652.6,612.2 L657.7,617.3 L662.7,622.4 L667.6,627.6 L672.6,632.7 L677.6,637.9 L682.6,643.1 L687.5,648.3 L692.5,653.4 L697.4,658.6 L702.4,663.7 L707.4,668.9 L712.4,674 L717.5,679.1 L722.5,684.2 L727.6,689.2 L732.7,694.2 L737.9,699.1 L743.2,704 L748.5,708.9 L753.7,713.8 L758.9,718.7 L764.2,723.6 L769.4,728.5 L774.6,733.4 L779.8,738.3 L785,743.2 L790.2,748.1 L795.5,753 L800.8,757.9 L806,762.8 L811.1,767.8 L816.1,772.9 L820.9,778.3 L825.4,783.8 L829.2,789.9 L832.5,796.3 L835.8,802.6 L839,809.1 L842,815.5 L845,822 L848,828.6 L850.8,835.2 L853.5,841.8 L856.1,848.5 L858.6,855.2 L896.6,1228"/>
<path d="M104,7.5 L109.4,12.2 L114.8,17 L120.1,21.8 L125.4,26.6 L130.7,31.5 L136,36.4 L141.2,41.3 L146.4,46.2 L151.5,51.2 L156.7,56.2 L161.8,61.2 L166.9,66.3 L171.9,71.4 L176.9,76.5 L181.9,81.6 L186.9,86.7 L191.8,91.9 L196.6,97.2 L201.4,102.5 L206.2,107.8 L211,113.2 L215.7,118.6 L220.4,124 L225.1,129.5 L229.8,134.9 L234.5,140.3 L239.2,145.7 L243.9,151.2 L248.6,156.6 L253.3,161.9 L258.1,167.3 L262.9,172.6 L267.7,178 L272.4,183.3 L277.2,188.7 L282,194 L286.8,199.4 L291.5,204.7 L296.3,210.1 L301,215.4 L305.8,220.8 L310.5,226.2 L315.2,231.6 L319.9,237 L324.5,242.5 L329.1,248 L333.7,253.5 L338.3,259 L342.9,264.5 L347.6,269.9 L352.3,275.4 L357,280.7 L361.8,286.1 L366.6,291.4 L371.4,296.7 L376.2,302 L381,307.3 L385.8,312.6 L390.6,318 L395.3,323.4 L400,328.8 L404.8,334.2 L409.5,339.6 L414.2,345 L418.9,350.4 L423.6,355.8 L428.3,361.2 L433,366.6 L437.7,372 L442.4,377.4 L447.1,382.8 L451.8,388.2 L456.5,393.6 L461.3,399 L466,404.4 L470.7,409.8 L475.4,415.2 L480.2,420.6 L484.9,426 L489.6,431.4 L494.4,436.7 L499.1,442.1 L503.9,447.5 L508.6,452.8 L513.4,458.2 L518.2,463.5 L523,468.8 L527.8,474.1 L532.6,479.4 L537.4,484.7 L542.3,490 L547.1,495.3 L551.9,500.6 L556.8,505.9 L561.7,511.2 L566.5,516.4 L571.4,521.7 L576.3,526.9 L581.2,532.1 L586.1,537.3 L591,542.6 L596,547.7 L600.9,552.9 L605.9,558.1 L610.9,563.2 L615.9,568.4 L620.9,573.5 L625.9,578.6 L630.9,583.8 L635.9,588.9 L640.9,594 L646,599.1 L651,604.2 L656,609.4 L661,614.5 L665.9,619.7 L670.9,624.8 L675.8,630 L680.8,635.2 L685.7,640.4 L690.6,645.7 L695.6,650.9 L700.5,656.1 L705.4,661.3 L710.4,666.5 L715.3,671.6 L720.3,676.8 L725.3,681.9 L730.3,687.1 L735.4,692.1 L740.4,697.2 L745.6,702.2 L750.8,707.1 L755.9,712.1 L761.1,717.1 L766.2,722.1 L771.4,727.1 L776.5,732.1 L781.6,737.1 L786.8,742 L791.9,747 L797.1,752 L802.3,757 L807.5,761.9 L812.5,767 L817.4,772.2 L822.1,777.6 L826.6,783.3 L830,789.5 L833.3,795.9 L836.5,802.3 L839.6,808.8 L842.6,815.3 L845.5,821.8 L848.3,828.4 L851,835.1 L853.7,841.7 L856.2,848.4 L858.6,855.2 L896.6,1228"/>
<path d="M104,7.5 L109.5,12.2 L114.9,16.9 L120.3,21.6 L125.7,26.4 L131,31.1 L136.4,35.9 L141.7,40.8 L146.9,45.7 L152.2,50.5 L157.4,55.5 L162.6,60.4 L167.7,65.4 L172.9,70.4 L178,75.4 L183,80.4 L188.1,85.5 L193.1,90.6 L198,95.8 L202.9,101 L207.8,106.3 L212.7,111.5 L217.5,116.9 L222.3,122.2 L227.1,127.5 L231.9,132.9 L236.6,138.2 L241.4,143.6 L246.2,149 L251,154.3 L255.8,159.6 L260.6,164.9 L265.4,170.2 L270.2,175.6 L275,180.9 L279.8,186.2 L284.6,191.5 L289.4,196.8 L294.2,202.2 L299,207.5 L303.8,212.9 L308.6,218.2 L313.3,223.6 L318.1,229 L322.8,234.3 L327.5,239.7 L332.2,245.2 L336.8,250.6 L341.5,256.1 L346.1,261.6 L350.8,267 L355.5,272.4 L360.2,277.8 L365,283.1 L369.8,288.4 L374.7,293.7 L379.5,299 L384.4,304.3 L389.2,309.6 L393.9,315 L398.7,320.4 L403.4,325.7 L408.1,331.2 L412.8,336.6 L417.5,342 L422.2,347.4 L426.8,352.9 L431.5,358.3 L436.2,363.7 L440.9,369.2 L445.5,374.6 L450.2,380 L454.9,385.4 L459.7,390.8 L464.4,396.2 L469.1,401.6 L473.9,407 L478.6,412.3 L483.4,417.7 L488.1,423.1 L492.9,428.5 L497.6,433.8 L502.4,439.2 L507.2,444.5 L511.9,449.9 L516.7,455.2 L521.5,460.5 L526.3,465.9 L531.1,471.2 L535.9,476.5 L540.7,481.8 L545.5,487.1 L550.4,492.4 L555.2,497.7 L560,503 L564.9,508.3 L569.7,513.6 L574.6,518.9 L579.4,524.1 L584.3,529.4 L589.2,534.6 L594.1,539.9 L599,545.1 L603.9,550.3 L608.9,555.5 L613.8,560.7 L618.8,565.8 L623.8,571 L628.8,576.2 L633.7,581.3 L638.7,586.5 L643.7,591.6 L648.7,596.8 L653.7,601.9 L658.7,607.1 L663.6,612.3 L668.6,617.4 L673.5,622.6 L678.4,627.9 L683.4,633.1 L688.3,638.3 L693.2,643.5 L698,648.8 L702.9,654 L707.8,659.3 L712.8,664.5 L717.7,669.7 L722.6,674.9 L727.5,680.1 L732.5,685.3 L737.5,690.4 L742.5,695.6 L747.6,700.6 L752.6,705.7 L757.7,710.7 L762.8,715.8 L767.9,720.9 L772.9,725.9 L778,731 L783.1,736.1 L788.2,741.1 L793.3,746.2 L798.4,751.2 L803.5,756.2 L808.6,761.3 L813.5,766.4 L818.4,771.7 L823.1,777.1 L827.4,782.8 L830.6,789.2 L833.9,795.7 L837,802.1 L840.1,808.6 L843,815.1 L845.9,821.7 L848.6,828.3 L851.3,835 L853.8,841.7 L856.2,848.4 L858.6,855.2 L896.6,1228"/>
<path d="M104,7.5 L109.5,12.1 L115,16.8 L120.5,21.4 L125.9,26.1 L131.3,30.8 L136.7,35.6 L142,40.4 L147.4,45.2 L152.7,50 L157.9,54.9 L163.2,59.8 L168.4,64.7 L173.6,69.6 L178.7,74.6 L183.9,79.6 L189,84.6 L194.1,89.6 L199.1,94.7 L204.1,99.9 L209,105 L214,110.2 L218.9,115.5 L223.8,120.7 L228.6,126 L233.5,131.3 L238.3,136.6 L243.2,141.9 L248,147.2 L252.8,152.5 L257.7,157.8 L262.5,163.1 L267.4,168.4 L272.2,173.6 L277.1,178.9 L281.9,184.2 L286.7,189.5 L291.5,194.8 L296.4,200.2 L301.2,205.5 L306,210.8 L310.8,216.1 L315.5,221.5 L320.3,226.8 L325.1,232.2 L329.8,237.6 L334.5,243 L339.2,248.4 L343.9,253.8 L348.6,259.3 L353.3,264.7 L358,270.1 L362.8,275.4 L367.6,280.8 L372.4,286.1 L377.3,291.3 L382.1,296.6 L387,301.9 L391.8,307.2 L396.6,312.5 L401.4,317.9 L406.1,323.3 L410.8,328.7 L415.5,334.1 L420.2,339.5 L424.9,344.9 L429.6,350.4 L434.2,355.8 L438.9,361.3 L443.6,366.7 L448.3,372.1 L453,377.5 L457.7,382.9 L462.4,388.3 L467.1,393.7 L471.9,399.1 L476.6,404.5 L481.4,409.9 L486.1,415.2 L490.9,420.6 L495.6,426 L500.4,431.3 L505.2,436.7 L509.9,442 L514.7,447.4 L519.5,452.7 L524.3,458.1 L529.1,463.4 L533.9,468.7 L538.7,474.1 L543.5,479.4 L548.3,484.7 L553.1,490 L557.9,495.3 L562.7,500.7 L567.5,506 L572.4,511.3 L577.2,516.6 L582.1,521.8 L586.9,527.1 L591.8,532.4 L596.6,537.7 L601.5,542.9 L606.4,548.1 L611.3,553.4 L616.3,558.6 L621.2,563.8 L626.1,569 L631.1,574.2 L636.1,579.3 L641,584.5 L646,589.7 L650.9,594.9 L655.9,600.1 L660.8,605.2 L665.8,610.4 L670.7,615.7 L675.6,620.9 L680.5,626.1 L685.4,631.3 L690.3,636.6 L695.2,641.9 L700.1,647.1 L704.9,652.4 L709.8,657.6 L714.7,662.9 L719.6,668.1 L724.5,673.4 L729.4,678.6 L734.3,683.8 L739.2,689 L744.2,694.2 L749.2,699.4 L754.2,704.5 L759.2,709.6 L764.2,714.8 L769.2,719.9 L774.2,725 L779.2,730.1 L784.3,735.3 L789.3,740.4 L794.3,745.5 L799.4,750.6 L804.5,755.6 L809.5,760.8 L814.4,766 L819.2,771.3 L823.9,776.7 L828,782.6 L831.1,789 L834.3,795.4 L837.4,801.9 L840.4,808.4 L843.3,815 L846.1,821.6 L848.8,828.2 L851.4,834.9 L853.9,841.6 L856.3,848.4 L858.6,855.2 L896.6,1228"/>
<path d="M104,7.5 L109.6,12.1 L115.1,16.7 L120.6,21.3 L126.1,25.9 L131.5,30.6 L136.9,35.3 L142.3,40.1 L147.7,44.8 L153,49.6 L158.4,54.4 L163.6,59.3 L168.9,64.1 L174.2,69 L179.4,73.9 L184.6,78.9 L189.7,83.8 L194.8,88.8 L199.9,93.9 L205,98.9 L210,104.1 L215,109.2 L219.9,114.4 L224.9,119.6 L229.8,124.8 L234.7,130.1 L239.6,135.3 L244.5,140.6 L249.4,145.8 L254.3,151.1 L259.2,156.3 L264.1,161.6 L268.9,166.8 L273.8,172.1 L278.7,177.4 L283.5,182.7 L288.4,187.9 L293.2,193.2 L298,198.5 L302.9,203.9 L307.7,209.2 L312.5,214.5 L317.3,219.8 L322.1,225.2 L326.9,230.5 L331.6,235.9 L336.4,241.2 L341.1,246.6 L345.9,252 L350.6,257.4 L355.3,262.8 L360,268.2 L364.8,273.6 L369.6,278.9 L374.4,284.2 L379.3,289.5 L384.2,294.7 L389,300 L393.9,305.3 L398.7,310.6 L403.5,315.9 L408.2,321.3 L413,326.7 L417.7,332.1 L422.4,337.5 L427.1,342.9 L431.8,348.4 L436.4,353.8 L441.1,359.3 L445.8,364.7 L450.5,370.1 L455.2,375.6 L459.9,381 L464.6,386.4 L469.3,391.8 L474.1,397.1 L478.8,402.5 L483.6,407.9 L488.3,413.3 L493.1,418.6 L497.9,424 L502.6,429.3 L507.4,434.7 L512.2,440 L517,445.4 L521.7,450.7 L526.5,456.1 L531.3,461.4 L536.1,466.8 L540.9,472.1 L545.7,477.4 L550.5,482.8 L555.3,488.1 L560.1,493.4 L564.9,498.7 L569.7,504.1 L574.5,509.4 L579.3,514.7 L584.2,520 L589,525.3 L593.8,530.6 L598.7,535.9 L603.5,541.1 L608.4,546.4 L613.3,551.7 L618.2,556.9 L623.1,562.1 L628.1,567.3 L633,572.5 L637.9,577.7 L642.9,582.9 L647.8,588.1 L652.7,593.3 L657.7,598.6 L662.6,603.8 L667.5,609 L672.4,614.2 L677.3,619.4 L682.2,624.7 L687.1,630 L692,635.2 L696.8,640.5 L701.7,645.8 L706.6,651.1 L711.4,656.3 L716.3,661.6 L721.1,666.9 L726,672.1 L730.9,677.4 L735.8,682.7 L740.6,687.9 L745.6,693.1 L750.5,698.3 L755.4,703.5 L760.4,708.7 L765.3,713.9 L770.3,719.1 L775.3,724.3 L780.2,729.5 L785.2,734.6 L790.2,739.8 L795.2,744.9 L800.2,750.1 L805.2,755.2 L810.2,760.4 L815.1,765.6 L819.8,771 L824.6,776.4 L828.4,782.4 L831.5,788.8 L834.7,795.3 L837.8,801.8 L840.7,808.3 L843.6,814.9 L846.3,821.5 L849,828.2 L851.5,834.9 L854,841.6 L856.3,848.4 L858.6,855.2 L896.6,1228"/>
<path d="M104,7.5 L109.6,12 L115.1,16.6 L120.7,21.2 L126.2,25.8 L131.7,30.4 L137.1,35.1 L142.5,39.8 L148,44.5 L153.3,49.3 L158.7,54.1 L164,58.9 L169.3,63.7 L174.6,68.5 L179.8,73.4 L185.1,78.3 L190.3,83.2 L195.4,88.2 L200.6,93.2 L205.7,98.2 L210.7,103.3 L215.8,108.4 L220.8,113.5 L225.8,118.7 L230.7,123.9 L235.7,129.1 L240.6,134.3 L245.6,139.5 L250.5,144.7 L255.4,150 L260.3,155.2 L265.3,160.4 L270.2,165.6 L275.1,170.9 L279.9,176.1 L284.8,181.4 L289.7,186.7 L294.5,192 L299.4,197.2 L304.2,202.5 L309,207.9 L313.9,213.2 L318.7,218.5 L323.5,223.8 L328.3,229.1 L333.1,234.5 L337.9,239.8 L342.6,245.2 L347.4,250.6 L352.1,256 L356.9,261.3 L361.6,266.7 L366.4,272.1 L371.2,277.4 L376.1,282.7 L380.9,287.9 L385.8,293.2 L390.7,298.5 L395.6,303.7 L400.4,309 L405.2,314.4 L410,319.7 L414.7,325.1 L419.4,330.5 L424.1,335.9 L428.8,341.3 L433.5,346.8 L438.2,352.2 L442.9,357.7 L447.5,363.1 L452.2,368.5 L456.9,374 L461.6,379.4 L466.3,384.8 L471.1,390.2 L475.8,395.6 L480.6,400.9 L485.3,406.3 L490.1,411.7 L494.8,417 L499.6,422.4 L504.4,427.7 L509.2,433.1 L514,438.5 L518.7,443.8 L523.5,449.1 L528.3,454.5 L533.1,459.8 L537.9,465.2 L542.7,470.5 L547.5,475.9 L552.3,481.2 L557,486.5 L561.8,491.9 L566.6,497.2 L571.4,502.6 L576.2,507.9 L581,513.2 L585.8,518.5 L590.7,523.8 L595.5,529.1 L600.3,534.4 L605.2,539.7 L610,545 L614.9,550.3 L619.8,555.5 L624.7,560.8 L629.6,566 L634.5,571.2 L639.4,576.5 L644.4,581.7 L649.3,586.9 L654.2,592.1 L659.1,597.3 L664,602.6 L668.9,607.8 L673.8,613 L678.7,618.3 L683.6,623.6 L688.5,628.8 L693.3,634.1 L698.2,639.4 L703,644.7 L707.9,650 L712.7,655.3 L717.5,660.6 L722.4,665.9 L727.2,671.2 L732.1,676.4 L736.9,681.7 L741.8,687 L746.7,692.3 L751.6,697.5 L756.5,702.8 L761.4,708 L766.3,713.2 L771.2,718.5 L776.1,723.7 L781,728.9 L786,734.1 L790.9,739.3 L795.8,744.5 L800.8,749.7 L805.8,754.8 L810.7,760.1 L815.6,765.3 L820.4,770.7 L825.1,776.1 L828.7,782.2 L831.8,788.7 L835,795.2 L838,801.7 L840.9,808.2 L843.8,814.8 L846.5,821.4 L849.1,828.1 L851.6,834.8 L854.1,841.6 L856.4,848.4 L858.6,855.2 L896.6,1228"/>
<path d="M104,7.5 L109.6,12 L115.2,16.5 L120.7,21.1 L126.3,25.7 L131.8,30.3 L137.3,34.9 L142.7,39.6 L148.2,44.3 L153.6,49 L158.9,53.8 L164.3,58.5 L169.6,63.3 L174.9,68.2 L180.2,73 L185.5,77.9 L190.7,82.8 L195.9,87.7 L201.1,92.6 L206.2,97.6 L211.3,102.7 L216.4,107.7 L221.4,112.8 L226.5,118 L231.5,123.1 L236.5,128.3 L241.4,133.5 L246.4,138.7 L251.4,143.9 L256.3,149.1 L261.3,154.3 L266.2,159.5 L271.1,164.7 L276.1,169.9 L281,175.1 L285.8,180.4 L290.7,185.7 L295.6,190.9 L300.4,196.2 L305.3,201.5 L310.1,206.8 L315,212.1 L319.8,217.4 L324.6,222.7 L329.4,228.1 L334.2,233.4 L339,238.7 L343.8,244.1 L348.6,249.4 L353.4,254.8 L358.1,260.2 L362.9,265.5 L367.7,270.9 L372.5,276.2 L377.3,281.5 L382.2,286.7 L387.1,292 L392,297.2 L396.9,302.5 L401.7,307.8 L406.5,313.1 L411.3,318.5 L416.1,323.8 L420.8,329.2 L425.5,334.6 L430.2,340.1 L434.9,345.5 L439.6,350.9 L444.3,356.4 L448.9,361.8 L453.6,367.3 L458.3,372.7 L463,378.1 L467.7,383.5 L472.5,388.9 L477.2,394.3 L482,399.7 L486.7,405 L491.5,410.4 L496.3,415.8 L501,421.1 L505.8,426.5 L510.6,431.8 L515.4,437.2 L520.2,442.5 L524.9,447.9 L529.7,453.2 L534.5,458.6 L539.3,463.9 L544.1,469.3 L548.9,474.6 L553.7,479.9 L558.5,485.3 L563.2,490.6 L568,496 L572.8,501.3 L577.6,506.7 L582.4,512 L587.2,517.3 L592,522.7 L596.8,528 L601.7,533.3 L606.5,538.6 L611.3,543.9 L616.2,549.2 L621.1,554.4 L626,559.7 L630.8,564.9 L635.7,570.2 L640.6,575.4 L645.6,580.7 L650.5,585.9 L655.4,591.1 L660.3,596.4 L665.2,601.6 L670.1,606.9 L675,612.1 L679.8,617.4 L684.7,622.7 L689.5,627.9 L694.4,633.2 L699.2,638.5 L704.1,643.8 L708.9,649.1 L713.7,654.4 L718.6,659.7 L723.4,665 L728.2,670.4 L733.1,675.7 L737.9,681 L742.7,686.3 L747.6,691.6 L752.4,696.8 L757.3,702.1 L762.1,707.4 L767,712.7 L771.9,718 L776.8,723.2 L781.6,728.5 L786.6,733.7 L791.5,738.9 L796.4,744.2 L801.3,749.4 L806.3,754.6 L811.2,759.8 L816,765.1 L820.8,770.5 L825.6,775.9 L828.9,782.1 L832.1,788.6 L835.2,795.1 L838.2,801.6 L841.1,808.1 L843.9,814.7 L846.6,821.4 L849.2,828.1 L851.7,834.8 L854.1,841.6 L856.4,848.4 L858.6,855.2 L896.6,1228"/>
<path d="M104,7.5 L109.6,12 L115.3,16.5 L120.9,21 L126.4,25.5 L132,30.1 L137.5,34.7 L143,39.3 L148.4,44 L153.9,48.7 L159.3,53.4 L164.7,58.1 L170,62.9 L175.4,67.7 L180.7,72.5 L185.9,77.4 L191.2,82.2 L196.4,87.1 L201.6,92.1 L206.8,97 L211.9,102 L217,107.1 L222.1,112.2 L227.1,117.3 L232.1,122.4 L237.1,127.6 L242.1,132.8 L247.1,137.9 L252.1,143.1 L257,148.3 L262,153.5 L266.9,158.7 L271.9,163.9 L276.8,169.1 L281.7,174.3 L286.6,179.6 L291.5,184.8 L296.4,190.1 L301.3,195.4 L306.1,200.7 L311,206 L315.8,211.3 L320.7,216.6 L325.5,221.9 L330.3,227.2 L335.1,232.5 L340,237.8 L344.8,243.1 L349.6,248.5 L354.3,253.9 L359.1,259.2 L363.9,264.6 L368.7,269.9 L373.5,275.2 L378.4,280.5 L383.2,285.8 L388.1,291 L393,296.3 L397.9,301.5 L402.8,306.8 L407.6,312.1 L412.4,317.4 L417.2,322.8 L421.9,328.2 L426.6,333.6 L431.3,339 L436,344.5 L440.7,349.9 L445.4,355.3 L450.1,360.8 L454.7,366.2 L459.4,371.7 L464.1,377.1 L468.8,382.5 L473.6,387.9 L478.3,393.3 L483.1,398.7 L487.8,404 L492.6,409.4 L497.4,414.7 L502.2,420.1 L506.9,425.5 L511.7,430.8 L516.5,436.2 L521.3,441.5 L526.1,446.8 L530.9,452.2 L535.7,457.5 L540.4,462.9 L545.2,468.2 L550,473.6 L554.8,478.9 L559.6,484.3 L564.4,489.6 L569.1,495 L573.9,500.3 L578.7,505.7 L583.5,511 L588.3,516.4 L593.1,521.7 L597.9,527 L602.7,532.4 L607.5,537.7 L612.4,543 L617.2,548.3 L622.1,553.6 L627,558.8 L631.8,564.1 L636.7,569.3 L641.6,574.6 L646.5,579.8 L651.4,585.1 L656.3,590.3 L661.2,595.6 L666.1,600.8 L671,606.1 L675.8,611.4 L680.7,616.6 L685.6,621.9 L690.4,627.2 L695.2,632.5 L700.1,637.8 L704.9,643.1 L709.7,648.4 L714.6,653.8 L719.4,659.1 L724.2,664.4 L729,669.7 L733.9,675 L738.7,680.3 L743.5,685.7 L748.3,691 L753.1,696.3 L758,701.6 L762.8,706.9 L767.6,712.2 L772.4,717.5 L777.3,722.8 L782.2,728.1 L787,733.4 L791.9,738.6 L796.8,743.9 L801.7,749.1 L806.6,754.4 L811.5,759.6 L816.3,764.9 L821.1,770.3 L825.9,775.7 L829.1,782 L832.3,788.5 L835.4,795 L838.4,801.5 L841.3,808.1 L844,814.7 L846.7,821.3 L849.3,828 L851.8,834.8 L854.2,841.5 L856.4,848.4 L858.6,855.2 L896.6,1228"/>
<path d="M104,7.5 L109.7,11.9 L115.3,16.4 L120.9,20.9 L126.5,25.4 L132.1,29.9 L137.7,34.5 L143.2,39.1 L148.7,43.7 L154.1,48.4 L159.6,53.1 L165,57.8 L170.4,62.5 L175.7,67.3 L181,72.1 L186.3,76.9 L191.6,81.8 L196.9,86.6 L202.1,91.6 L207.2,96.5 L212.4,101.5 L217.5,106.6 L222.6,111.6 L227.6,116.7 L232.7,121.9 L237.7,127 L242.7,132.2 L247.7,137.4 L252.6,142.5 L257.6,147.7 L262.6,152.9 L267.5,158.1 L272.5,163.3 L277.4,168.5 L282.4,173.7 L287.3,178.9 L292.2,184.2 L297.1,189.5 L301.9,194.7 L306.8,200 L311.7,205.3 L316.5,210.6 L321.3,215.9 L326.2,221.2 L331,226.5 L335.9,231.8 L340.7,237.1 L345.5,242.4 L350.3,247.8 L355.1,253.1 L359.9,258.5 L364.7,263.8 L369.5,269.1 L374.3,274.4 L379.2,279.7 L384.1,285 L389,290.2 L393.9,295.5 L398.8,300.7 L403.6,306 L408.5,311.3 L413.3,316.6 L418,322 L422.8,327.4 L427.5,332.8 L432.2,338.2 L436.9,343.6 L441.6,349.1 L446.3,354.5 L451,360 L455.6,365.4 L460.3,370.8 L465,376.3 L469.7,381.7 L474.5,387.1 L479.2,392.5 L484,397.8 L488.7,403.2 L493.5,408.6 L498.3,413.9 L503.1,419.3 L507.8,424.6 L512.6,430 L517.4,435.3 L522.2,440.7 L527,446 L531.8,451.4 L536.6,456.7 L541.4,462.1 L546.1,467.4 L550.9,472.8 L555.7,478.1 L560.5,483.5 L565.3,488.8 L570,494.2 L574.8,499.6 L579.6,504.9 L584.4,510.3 L589.2,515.6 L594,521 L598.8,526.3 L603.6,531.6 L608.4,536.9 L613.2,542.3 L618.1,547.6 L622.9,552.8 L627.8,558.1 L632.6,563.4 L637.5,568.7 L642.4,573.9 L647.3,579.2 L652.2,584.4 L657.1,589.7 L662,594.9 L666.8,600.2 L671.7,605.5 L676.6,610.8 L681.4,616 L686.3,621.3 L691.1,626.6 L695.9,632 L700.8,637.3 L705.6,642.6 L710.4,647.9 L715.2,653.2 L720.1,658.5 L724.9,663.9 L729.7,669.2 L734.5,674.5 L739.3,679.8 L744.1,685.2 L748.9,690.5 L753.7,695.9 L758.5,701.2 L763.3,706.5 L768.1,711.9 L772.9,717.2 L777.7,722.5 L782.6,727.8 L787.4,733.1 L792.3,738.4 L797.1,743.7 L802,748.9 L806.9,754.2 L811.8,759.5 L816.6,764.8 L821.4,770.2 L826.1,775.6 L829.3,782 L832.4,788.4 L835.5,794.9 L838.5,801.4 L841.4,808 L844.1,814.6 L846.8,821.3 L849.4,828 L851.8,834.7 L854.2,841.5 L856.4,848.3 L858.6,855.2 L896.6,1228"/>
<path d="M104,7.5 L109.7,11.9 L115.4,16.3 L121,20.8 L126.6,25.3 L132.2,29.8 L137.8,34.3 L143.3,38.9 L148.9,43.5 L154.3,48.2 L159.8,52.8 L165.2,57.5 L170.6,62.2 L176,67 L181.3,71.8 L186.7,76.6 L192,81.4 L197.2,86.3 L202.4,91.2 L207.6,96.1 L212.8,101.1 L217.9,106.1 L223,111.2 L228,116.3 L233.1,121.4 L238.1,126.5 L243.1,131.7 L248.1,136.9 L253.1,142.1 L258.1,147.2 L263,152.4 L268,157.6 L273,162.8 L277.9,168 L282.9,173.2 L287.8,178.4 L292.7,183.7 L297.6,188.9 L302.4,194.2 L307.3,199.5 L312.2,204.8 L317,210 L321.9,215.3 L326.7,220.6 L331.6,225.9 L336.4,231.2 L341.3,236.5 L346.1,241.8 L350.9,247.2 L355.7,252.5 L360.5,257.8 L365.3,263.2 L370.1,268.5 L375,273.8 L379.8,279.1 L384.7,284.4 L389.6,289.6 L394.5,294.8 L399.4,300.1 L404.3,305.4 L409.1,310.6 L413.9,316 L418.7,321.3 L423.5,326.7 L428.2,332.1 L432.9,337.5 L437.6,343 L442.3,348.4 L447,353.8 L451.7,359.3 L456.3,364.7 L461,370.2 L465.7,375.6 L470.4,381 L475.2,386.4 L479.9,391.8 L484.7,397.2 L489.4,402.6 L494.2,407.9 L499,413.3 L503.8,418.6 L508.6,424 L513.3,429.3 L518.1,434.7 L522.9,440 L527.7,445.4 L532.5,450.7 L537.3,456.1 L542.1,461.4 L546.9,466.8 L551.6,472.1 L556.4,477.5 L561.2,482.8 L566,488.2 L570.7,493.6 L575.5,498.9 L580.3,504.3 L585.1,509.6 L589.9,515 L594.7,520.3 L599.4,525.7 L604.2,531 L609.1,536.4 L613.9,541.7 L618.7,547 L623.6,552.3 L628.4,557.6 L633.3,562.8 L638.2,568.1 L643,573.4 L647.9,578.6 L652.8,583.9 L657.7,589.2 L662.5,594.4 L667.4,599.7 L672.3,605 L677.1,610.3 L682,615.6 L686.8,620.9 L691.7,626.2 L696.5,631.5 L701.3,636.8 L706.1,642.1 L711,647.4 L715.8,652.8 L720.6,658.1 L725.4,663.4 L730.2,668.8 L735,674.1 L739.8,679.5 L744.6,684.8 L749.4,690.1 L754.2,695.5 L758.9,700.9 L763.7,706.2 L768.5,711.6 L773.3,716.9 L778.1,722.3 L782.9,727.6 L787.7,732.9 L792.6,738.2 L797.4,743.5 L802.3,748.8 L807.1,754 L812,759.3 L816.8,764.7 L821.6,770 L826.3,775.5 L829.4,781.9 L832.6,788.4 L835.6,794.9 L838.6,801.4 L841.5,808 L844.2,814.6 L846.9,821.3 L849.4,828 L851.9,834.7 L854.2,841.5 L856.5,848.3 L858.6,855.2 L896.6,1228"/>
<path d="M104,7.5 L109.7,11.9 L115.4,16.3 L121.1,20.7 L126.7,25.2 L132.3,29.7 L137.9,34.2 L143.5,38.8 L149,43.4 L154.5,48 L160,52.6 L165.4,57.3 L170.8,62 L176.2,66.7 L181.6,71.5 L186.9,76.3 L192.2,81.1 L197.5,85.9 L202.7,90.8 L207.9,95.8 L213.1,100.8 L218.2,105.8 L223.3,110.8 L228.4,115.9 L233.4,121 L238.4,126.2 L243.5,131.3 L248.5,136.5 L253.4,141.7 L258.4,146.9 L263.4,152.1 L268.4,157.2 L273.3,162.4 L278.3,167.6 L283.2,172.8 L288.2,178 L293.1,183.3 L298,188.5 L302.9,193.8 L307.7,199 L312.6,204.3 L317.5,209.6 L322.3,214.9 L327.2,220.2 L332,225.5 L336.9,230.8 L341.7,236.1 L346.6,241.4 L351.4,246.7 L356.2,252 L361,257.4 L365.8,262.7 L370.6,268 L375.5,273.3 L380.3,278.6 L385.2,283.9 L390.1,289.1 L395.1,294.3 L400,299.6 L404.8,304.8 L409.7,310.1 L414.5,315.5 L419.3,320.8 L424,326.2 L428.8,331.6 L433.5,337 L438.2,342.4 L442.9,347.9 L447.6,353.3 L452.2,358.8 L456.9,364.2 L461.6,369.6 L466.3,375.1 L471,380.5 L475.7,385.9 L480.5,391.3 L485.2,396.7 L490,402 L494.8,407.4 L499.6,412.8 L504.3,418.1 L509.1,423.5 L513.9,428.8 L518.7,434.2 L523.5,439.5 L528.3,444.8 L533.1,450.2 L537.9,455.5 L542.7,460.9 L547.4,466.2 L552.2,471.6 L557,477 L561.8,482.3 L566.5,487.7 L571.3,493.1 L576.1,498.4 L580.9,503.8 L585.6,509.1 L590.4,514.5 L595.2,519.9 L600,525.2 L604.8,530.5 L609.6,535.9 L614.4,541.2 L619.2,546.5 L624.1,551.8 L628.9,557.1 L633.8,562.4 L638.7,567.7 L643.5,573 L648.4,578.2 L653.3,583.5 L658.2,588.8 L663,594 L667.9,599.3 L672.8,604.6 L677.6,609.9 L682.5,615.2 L687.3,620.5 L692.1,625.8 L696.9,631.1 L701.8,636.4 L706.6,641.8 L711.4,647.1 L716.2,652.4 L721,657.8 L725.8,663.1 L730.6,668.4 L735.4,673.8 L740.2,679.1 L745,684.5 L749.8,689.8 L754.5,695.2 L759.3,700.6 L764,706 L768.8,711.4 L773.6,716.7 L778.3,722.1 L783.1,727.4 L788,732.7 L792.8,738 L797.6,743.3 L802.5,748.6 L807.3,753.9 L812.2,759.2 L817,764.6 L821.7,769.9 L826.4,775.4 L829.5,781.9 L832.6,788.3 L835.7,794.8 L838.7,801.4 L841.5,807.9 L844.3,814.6 L846.9,821.3 L849.5,828 L851.9,834.7 L854.2,841.5 L856.5,848.3 L858.6,855.2 L896.6,1228"/>
<path d="M104,7.5 L109.7,11.9 L115.4,16.2 L121.1,20.7 L126.8,25.1 L132.4,29.6 L138,34.1 L143.6,38.7 L149.1,43.2 L154.6,47.8 L160.1,52.5 L165.6,57.1 L171,61.8 L176.4,66.6 L181.8,71.3 L187.1,76.1 L192.4,80.9 L197.7,85.7 L202.9,90.6 L208.2,95.5 L213.3,100.5 L218.5,105.5 L223.6,110.6 L228.6,115.6 L233.7,120.7 L238.7,125.9 L243.7,131 L248.7,136.2 L253.7,141.4 L258.7,146.6 L263.7,151.7 L268.7,156.9 L273.6,162.1 L278.6,167.3 L283.6,172.5 L288.5,177.7 L293.4,182.9 L298.3,188.2 L303.2,193.4 L308.1,198.7 L313,204 L317.8,209.3 L322.7,214.5 L327.5,219.8 L332.4,225.1 L337.2,230.4 L342.1,235.7 L346.9,241 L351.8,246.3 L356.6,251.6 L361.4,257 L366.2,262.3 L371,267.6 L375.9,272.9 L380.8,278.2 L385.6,283.5 L390.6,288.7 L395.5,293.9 L400.4,299.2 L405.3,304.4 L410.1,309.7 L414.9,315 L419.7,320.4 L424.5,325.8 L429.2,331.2 L433.9,336.6 L438.6,342 L443.3,347.4 L448,352.9 L452.7,358.3 L457.4,363.8 L462.1,369.2 L466.8,374.7 L471.5,380.1 L476.2,385.5 L480.9,390.9 L485.7,396.2 L490.5,401.6 L495.2,407 L500,412.3 L504.8,417.7 L509.6,423 L514.4,428.4 L519.2,433.7 L524,439.1 L528.8,444.4 L533.6,449.8 L538.3,455.1 L543.1,460.5 L547.9,465.8 L552.7,471.2 L557.5,476.5 L562.2,481.9 L567,487.3 L571.8,492.6 L576.5,498 L581.3,503.4 L586.1,508.7 L590.9,514.1 L595.7,519.5 L600.4,524.8 L605.2,530.2 L610,535.5 L614.8,540.8 L619.7,546.1 L624.5,551.5 L629.4,556.8 L634.2,562 L639.1,567.3 L643.9,572.6 L648.8,577.9 L653.7,583.2 L658.5,588.4 L663.4,593.7 L668.3,599 L673.1,604.3 L678,609.6 L682.8,614.9 L687.7,620.2 L692.5,625.5 L697.3,630.8 L702.1,636.2 L706.9,641.5 L711.7,646.8 L716.6,652.1 L721.4,657.5 L726.2,662.8 L731,668.2 L735.7,673.5 L740.5,678.9 L745.3,684.2 L750.1,689.6 L754.8,695 L759.6,700.4 L764.3,705.8 L769,711.2 L773.8,716.6 L778.6,721.9 L783.3,727.3 L788.2,732.6 L793,737.9 L797.8,743.2 L802.6,748.5 L807.5,753.9 L812.3,759.2 L817.1,764.5 L821.9,769.9 L826.5,775.3 L829.6,781.8 L832.7,788.3 L835.8,794.8 L838.7,801.3 L841.6,807.9 L844.3,814.6 L847,821.2 L849.5,828 L851.9,834.7 L854.2,841.5 L856.5,848.3 L858.6,855.2 L896.6,1228"/>
<path d="M104,7.5 L109.8,11.8 L115.5,16.2 L121.2,20.6 L126.8,25.1 L132.5,29.5 L138.1,34 L143.7,38.6 L149.2,43.1 L154.7,47.7 L160.2,52.3 L165.7,57 L171.1,61.7 L176.5,66.4 L181.9,71.1 L187.3,75.9 L192.6,80.7 L197.9,85.5 L203.1,90.4 L208.3,95.3 L213.5,100.3 L218.7,105.3 L223.8,110.3 L228.8,115.4 L233.9,120.5 L238.9,125.6 L244,130.8 L249,136 L254,141.1 L258.9,146.3 L263.9,151.5 L268.9,156.7 L273.9,161.8 L278.9,167 L283.8,172.2 L288.7,177.4 L293.7,182.7 L298.6,187.9 L303.5,193.2 L308.3,198.4 L313.2,203.7 L318.1,209 L323,214.3 L327.8,219.5 L332.7,224.8 L337.5,230.1 L342.4,235.4 L347.2,240.7 L352.1,246 L356.9,251.3 L361.7,256.7 L366.5,262 L371.4,267.3 L376.2,272.6 L381.1,277.9 L386,283.1 L390.9,288.4 L395.8,293.6 L400.7,298.8 L405.6,304.1 L410.5,309.4 L415.3,314.7 L420.1,320.1 L424.8,325.4 L429.6,330.8 L434.3,336.2 L439,341.7 L443.7,347.1 L448.4,352.6 L453.1,358 L457.7,363.4 L462.4,368.9 L467.1,374.3 L471.8,379.7 L476.6,385.1 L481.3,390.5 L486.1,395.9 L490.8,401.3 L495.6,406.6 L500.4,412 L505.2,417.4 L510,422.7 L514.7,428.1 L519.5,433.4 L524.3,438.7 L529.1,444.1 L533.9,449.4 L538.7,454.8 L543.5,460.1 L548.3,465.5 L553.1,470.9 L557.8,476.2 L562.6,481.6 L567.4,487 L572.1,492.3 L576.9,497.7 L581.7,503.1 L586.5,508.4 L591.2,513.8 L596,519.2 L600.8,524.5 L605.6,529.9 L610.4,535.2 L615.2,540.5 L620,545.9 L624.8,551.2 L629.7,556.5 L634.5,561.8 L639.4,567 L644.3,572.3 L649.1,577.6 L654,582.9 L658.9,588.2 L663.7,593.5 L668.6,598.7 L673.4,604 L678.3,609.3 L683.1,614.6 L687.9,620 L692.8,625.3 L697.6,630.6 L702.4,635.9 L707.2,641.3 L712,646.6 L716.8,651.9 L721.6,657.3 L726.4,662.6 L731.2,668 L736,673.3 L740.8,678.7 L745.5,684 L750.3,689.4 L755.1,694.8 L759.8,700.2 L764.5,705.6 L769.2,711 L774,716.4 L778.7,721.8 L783.5,727.2 L788.3,732.5 L793.1,737.8 L797.9,743.2 L802.8,748.5 L807.6,753.8 L812.4,759.1 L817.2,764.5 L822,769.8 L826.6,775.3 L829.7,781.8 L832.8,788.3 L835.9,794.8 L838.8,801.3 L841.6,807.9 L844.4,814.5 L847,821.2 L849.5,827.9 L851.9,834.7 L854.3,841.5 L856.5,848.3 L858.6,855.2 L896.6,1228"/>
<path d="M104,7.5 L109.8,11.8 L115.5,16.2 L121.2,20.6 L126.9,25 L132.5,29.5 L138.1,34 L143.7,38.5 L149.3,43 L154.8,47.6 L160.3,52.2 L165.8,56.9 L171.2,61.6 L176.7,66.3 L182,71 L187.4,75.8 L192.7,80.5 L198,85.4 L203.3,90.2 L208.5,95.1 L213.7,100.1 L218.8,105.1 L223.9,110.1 L229,115.2 L234.1,120.3 L239.1,125.5 L244.1,130.6 L249.1,135.8 L254.1,140.9 L259.1,146.1 L264.1,151.3 L269.1,156.5 L274.1,161.6 L279.1,166.8 L284,172 L288.9,177.2 L293.9,182.5 L298.8,187.7 L303.7,192.9 L308.6,198.2 L313.4,203.5 L318.3,208.8 L323.2,214 L328,219.3 L332.9,224.6 L337.8,229.9 L342.6,235.2 L347.5,240.5 L352.3,245.8 L357.2,251.1 L362,256.4 L366.8,261.7 L371.6,267.1 L376.5,272.4 L381.3,277.6 L386.2,282.9 L391.2,288.1 L396.1,293.4 L401,298.6 L405.9,303.8 L410.7,309.1 L415.6,314.4 L420.4,319.8 L425.1,325.2 L429.9,330.6 L434.6,336 L439.3,341.4 L444,346.8 L448.7,352.3 L453.3,357.7 L458,363.2 L462.7,368.6 L467.4,374 L472.1,379.5 L476.8,384.9 L481.6,390.3 L486.4,395.6 L491.1,401 L495.9,406.4 L500.7,411.7 L505.5,417.1 L510.2,422.4 L515,427.8 L519.8,433.1 L524.6,438.5 L529.4,443.8 L534.2,449.2 L539,454.5 L543.8,459.9 L548.6,465.2 L553.4,470.6 L558.1,476 L562.9,481.3 L567.7,486.7 L572.4,492.1 L577.2,497.4 L582,502.8 L586.7,508.2 L591.5,513.5 L596.3,518.9 L601.1,524.3 L605.9,529.6 L610.7,535 L615.5,540.3 L620.3,545.6 L625.1,550.9 L630,556.2 L634.8,561.5 L639.7,566.8 L644.5,572.1 L649.4,577.4 L654.2,582.7 L659.1,588 L664,593.2 L668.8,598.5 L673.7,603.8 L678.5,609.1 L683.4,614.4 L688.2,619.8 L693,625.1 L697.8,630.4 L702.6,635.7 L707.4,641.1 L712.3,646.4 L717.1,651.7 L721.9,657.1 L726.6,662.4 L731.4,667.8 L736.2,673.1 L741,678.5 L745.8,683.9 L750.5,689.3 L755.3,694.6 L760,700.1 L764.7,705.5 L769.4,710.9 L774.1,716.3 L778.9,721.7 L783.6,727.1 L788.4,732.4 L793.2,737.7 L798,743.1 L802.9,748.4 L807.7,753.7 L812.5,759.1 L817.3,764.4 L822.1,769.8 L826.7,775.2 L829.7,781.8 L832.8,788.2 L835.9,794.7 L838.8,801.3 L841.7,807.9 L844.4,814.5 L847,821.2 L849.5,827.9 L852,834.7 L854.3,841.5 L856.5,848.3 L858.6,855.2 L896.6,1228"/>
<path d="M104,7.5 L109.8,11.8 L115.5,16.2 L121.2,20.6 L126.9,25 L132.6,29.4 L138.2,33.9 L143.8,38.4 L149.3,43 L154.9,47.6 L160.4,52.2 L165.9,56.8 L171.3,61.5 L176.7,66.2 L182.1,70.9 L187.5,75.6 L192.8,80.4 L198.1,85.2 L203.4,90.1 L208.6,95 L213.8,100 L218.9,105 L224.1,110 L229.1,115.1 L234.2,120.2 L239.3,125.3 L244.3,130.5 L249.3,135.6 L254.3,140.8 L259.3,146 L264.3,151.1 L269.2,156.3 L274.2,161.5 L279.2,166.7 L284.2,171.9 L289.1,177.1 L294,182.3 L298.9,187.5 L303.8,192.8 L308.7,198 L313.6,203.3 L318.5,208.6 L323.4,213.9 L328.2,219.1 L333.1,224.4 L338,229.7 L342.8,235 L347.7,240.3 L352.5,245.6 L357.4,250.9 L362.2,256.2 L367,261.5 L371.8,266.9 L376.7,272.1 L381.6,277.4 L386.5,282.7 L391.4,287.9 L396.3,293.1 L401.2,298.4 L406.1,303.6 L411,308.9 L415.8,314.2 L420.6,319.6 L425.3,325 L430.1,330.3 L434.8,335.8 L439.5,341.2 L444.2,346.6 L448.9,352.1 L453.6,357.5 L458.3,363 L462.9,368.4 L467.6,373.8 L472.4,379.3 L477.1,384.7 L481.8,390 L486.6,395.4 L491.4,400.8 L496.1,406.2 L500.9,411.5 L505.7,416.9 L510.5,422.2 L515.3,427.6 L520.1,432.9 L524.9,438.3 L529.7,443.6 L534.5,449 L539.3,454.3 L544,459.7 L548.8,465 L553.6,470.4 L558.4,475.7 L563.1,481.1 L567.9,486.5 L572.7,491.9 L577.4,497.2 L582.2,502.6 L587,508 L591.7,513.3 L596.5,518.7 L601.3,524.1 L606.1,529.4 L610.9,534.8 L615.7,540.1 L620.5,545.4 L625.3,550.7 L630.2,556 L635,561.3 L639.9,566.6 L644.7,571.9 L649.6,577.2 L654.4,582.5 L659.3,587.8 L664.2,593.1 L669,598.4 L673.9,603.7 L678.7,609 L683.5,614.3 L688.4,619.6 L693.2,624.9 L698,630.3 L702.8,635.6 L707.6,640.9 L712.4,646.3 L717.2,651.6 L722,656.9 L726.8,662.3 L731.6,667.6 L736.4,673 L741.2,678.4 L745.9,683.8 L750.7,689.1 L755.4,694.5 L760.1,700 L764.8,705.4 L769.5,710.8 L774.2,716.2 L779,721.6 L783.8,727 L788.5,732.3 L793.3,737.7 L798.1,743 L802.9,748.4 L807.8,753.7 L812.6,759 L817.4,764.4 L822.2,769.7 L826.7,775.2 L829.8,781.7 L832.9,788.2 L835.9,794.7 L838.9,801.3 L841.7,807.9 L844.4,814.5 L847,821.2 L849.6,827.9 L852,834.7 L854.3,841.5 L856.5,848.3 L858.6,855.2 L896.6,1228"/>
<path d="M104,7.5 L109.8,11.8 L115.5,16.2 L121.2,20.5 L126.9,24.9 L132.6,29.4 L138.2,33.9 L143.8,38.4 L149.4,42.9 L154.9,47.5 L160.4,52.1 L165.9,56.7 L171.4,61.4 L176.8,66.1 L182.2,70.8 L187.6,75.6 L192.9,80.3 L198.2,85.1 L203.5,90 L208.7,94.9 L213.9,99.9 L219,104.9 L224.2,109.9 L229.2,115 L234.3,120.1 L239.4,125.2 L244.4,130.3 L249.4,135.5 L254.4,140.7 L259.4,145.8 L264.4,151 L269.4,156.2 L274.4,161.3 L279.3,166.5 L284.3,171.7 L289.2,176.9 L294.2,182.2 L299.1,187.4 L304,192.6 L308.9,197.9 L313.8,203.2 L318.6,208.4 L323.5,213.7 L328.4,219 L333.2,224.3 L338.1,229.6 L343,234.8 L347.8,240.1 L352.7,245.4 L357.5,250.7 L362.3,256.1 L367.2,261.4 L372,266.7 L376.9,272 L381.7,277.3 L386.6,282.5 L391.5,287.7 L396.5,293 L401.4,298.2 L406.3,303.5 L411.1,308.7 L416,314.1 L420.8,319.4 L425.5,324.8 L430.3,330.2 L435,335.6 L439.7,341 L444.4,346.4 L449.1,351.9 L453.8,357.3 L458.4,362.8 L463.1,368.2 L467.8,373.7 L472.5,379.1 L477.3,384.5 L482,389.9 L486.8,395.3 L491.5,400.6 L496.3,406 L501.1,411.3 L505.9,416.7 L510.7,422.1 L515.5,427.4 L520.3,432.7 L525.1,438.1 L529.9,443.4 L534.7,448.8 L539.4,454.1 L544.2,459.5 L549,464.8 L553.8,470.2 L558.6,475.6 L563.3,480.9 L568.1,486.3 L572.9,491.7 L577.6,497.1 L582.4,502.4 L587.2,507.8 L591.9,513.2 L596.7,518.5 L601.5,523.9 L606.3,529.3 L611.1,534.6 L615.9,539.9 L620.7,545.3 L625.5,550.6 L630.3,555.9 L635.2,561.2 L640,566.5 L644.9,571.8 L649.7,577.1 L654.6,582.4 L659.5,587.7 L664.3,592.9 L669.2,598.2 L674,603.5 L678.9,608.8 L683.7,614.2 L688.5,619.5 L693.3,624.8 L698.1,630.1 L703,635.5 L707.8,640.8 L712.6,646.1 L717.4,651.5 L722.2,656.8 L727,662.2 L731.7,667.5 L736.5,672.9 L741.3,678.3 L746,683.7 L750.8,689 L755.5,694.4 L760.2,699.9 L764.9,705.3 L769.6,710.7 L774.3,716.1 L779.1,721.5 L783.8,726.9 L788.6,732.3 L793.4,737.6 L798.2,743 L803,748.3 L807.8,753.6 L812.6,759 L817.4,764.3 L822.2,769.7 L826.8,775.2 L829.8,781.7 L832.9,788.2 L836,794.7 L838.9,801.3 L841.7,807.9 L844.4,814.5 L847.1,821.2 L849.6,827.9 L852,834.7 L854.3,841.5 L856.5,848.3 L858.6,855.2 L896.6,1228"/>
<path d="M104,7.5 L109.8,11.8 L115.5,16.1 L121.3,20.5 L126.9,24.9 L132.6,29.4 L138.2,33.8 L143.9,38.3 L149.4,42.9 L155,47.4 L160.5,52 L166,56.7 L171.4,61.3 L176.9,66 L182.3,70.7 L187.6,75.5 L193,80.3 L198.3,85.1 L203.6,89.9 L208.8,94.8 L214,99.8 L219.1,104.8 L224.2,109.8 L229.3,114.9 L234.4,120 L239.5,125.1 L244.5,130.2 L249.5,135.4 L254.5,140.6 L259.5,145.7 L264.5,150.9 L269.5,156.1 L274.5,161.2 L279.4,166.4 L284.4,171.6 L289.3,176.8 L294.3,182 L299.2,187.3 L304.1,192.5 L309,197.8 L313.9,203.1 L318.7,208.3 L323.6,213.6 L328.5,218.9 L333.4,224.2 L338.2,229.4 L343.1,234.7 L348,240 L352.8,245.3 L357.6,250.6 L362.5,255.9 L367.3,261.3 L372.1,266.6 L377,271.9 L381.9,277.1 L386.8,282.4 L391.7,287.6 L396.6,292.8 L401.5,298.1 L406.4,303.3 L411.3,308.6 L416.1,313.9 L420.9,319.3 L425.7,324.6 L430.4,330 L435.1,335.4 L439.8,340.9 L444.5,346.3 L449.2,351.7 L453.9,357.2 L458.6,362.6 L463.3,368.1 L468,373.5 L472.7,378.9 L477.4,384.3 L482.2,389.7 L486.9,395.1 L491.7,400.5 L496.5,405.9 L501.2,411.2 L506,416.6 L510.8,421.9 L515.6,427.3 L520.4,432.6 L525.2,438 L530,443.3 L534.8,448.6 L539.6,454 L544.4,459.3 L549.2,464.7 L553.9,470.1 L558.7,475.4 L563.5,480.8 L568.3,486.2 L573,491.6 L577.8,496.9 L582.5,502.3 L587.3,507.7 L592.1,513 L596.9,518.4 L601.6,523.8 L606.4,529.1 L611.2,534.5 L616,539.8 L620.8,545.2 L625.6,550.5 L630.5,555.8 L635.3,561.1 L640.2,566.4 L645,571.7 L649.9,577 L654.7,582.3 L659.6,587.5 L664.5,592.8 L669.3,598.1 L674.2,603.4 L679,608.7 L683.8,614.1 L688.6,619.4 L693.4,624.7 L698.3,630 L703.1,635.4 L707.9,640.7 L712.7,646 L717.5,651.4 L722.3,656.7 L727.1,662.1 L731.9,667.4 L736.6,672.8 L741.4,678.2 L746.2,683.6 L750.9,689 L755.6,694.4 L760.3,699.8 L765,705.2 L769.7,710.7 L774.4,716.1 L779.2,721.5 L783.9,726.9 L788.7,732.2 L793.5,737.6 L798.3,742.9 L803.1,748.3 L807.9,753.6 L812.7,759 L817.5,764.3 L822.3,769.7 L826.8,775.2 L829.8,781.7 L832.9,788.2 L836,794.7 L838.9,801.3 L841.7,807.9 L844.5,814.5 L847.1,821.2 L849.6,827.9 L852,834.7 L854.3,841.5 L856.5,848.3 L858.6,855.2 L896.6,1228"/>
<path d="M104,7.5 L109.8,11.8 L115.5,16.1 L121.3,20.5 L127,24.9 L132.6,29.3 L138.3,33.8 L143.9,38.3 L149.5,42.8 L155,47.4 L160.5,52 L166,56.6 L171.5,61.3 L176.9,66 L182.3,70.7 L187.7,75.4 L193,80.2 L198.3,85 L203.6,89.8 L208.8,94.7 L214,99.7 L219.2,104.7 L224.3,109.7 L229.4,114.8 L234.5,119.9 L239.5,125 L244.6,130.2 L249.6,135.3 L254.6,140.5 L259.6,145.7 L264.6,150.8 L269.5,156 L274.5,161.2 L279.5,166.3 L284.5,171.5 L289.4,176.7 L294.3,182 L299.3,187.2 L304.2,192.4 L309.1,197.7 L314,203 L318.8,208.2 L323.7,213.5 L328.6,218.8 L333.4,224.1 L338.3,229.4 L343.2,234.6 L348,239.9 L352.9,245.2 L357.7,250.5 L362.6,255.8 L367.4,261.1 L372.2,266.5 L377.1,271.8 L382,277 L386.9,282.3 L391.8,287.5 L396.7,292.7 L401.6,298 L406.5,303.2 L411.4,308.5 L416.2,313.8 L421,319.2 L425.8,324.5 L430.5,329.9 L435.3,335.3 L440,340.8 L444.7,346.2 L449.3,351.6 L454,357.1 L458.7,362.5 L463.4,368 L468.1,373.4 L472.8,378.8 L477.5,384.2 L482.3,389.6 L487,395 L491.8,400.4 L496.6,405.7 L501.4,411.1 L506.1,416.5 L510.9,421.8 L515.7,427.2 L520.5,432.5 L525.3,437.8 L530.1,443.2 L534.9,448.5 L539.7,453.9 L544.5,459.2 L549.3,464.6 L554.1,470 L558.8,475.3 L563.6,480.7 L568.4,486.1 L573.1,491.4 L577.9,496.8 L582.7,502.2 L587.4,507.6 L592.2,512.9 L597,518.3 L601.7,523.7 L606.5,529 L611.3,534.4 L616.1,539.7 L620.9,545.1 L625.8,550.4 L630.6,555.7 L635.4,561 L640.3,566.3 L645.1,571.6 L650,576.9 L654.8,582.2 L659.7,587.5 L664.6,592.8 L669.4,598 L674.3,603.4 L679.1,608.7 L683.9,614 L688.7,619.3 L693.5,624.6 L698.4,630 L703.2,635.3 L708,640.6 L712.8,646 L717.6,651.3 L722.4,656.7 L727.2,662 L731.9,667.4 L736.7,672.7 L741.5,678.1 L746.2,683.5 L751,688.9 L755.7,694.3 L760.4,699.7 L765.1,705.2 L769.8,710.6 L774.5,716 L779.2,721.4 L784,726.8 L788.7,732.2 L793.5,737.6 L798.3,742.9 L803.1,748.3 L807.9,753.6 L812.7,758.9 L817.5,764.3 L822.3,769.6 L826.8,775.2 L829.8,781.7 L832.9,788.2 L836,794.7 L838.9,801.2 L841.7,807.9 L844.5,814.5 L847.1,821.2 L849.6,827.9 L852,834.7 L854.3,841.5 L856.5,848.3 L858.6,855.2 L896.6,1228"/>
<path d="M104,7.5 L109.8,11.8 L115.5,16.1 L121.3,20.5 L127,24.9 L132.6,29.3 L138.3,33.8 L143.9,38.3 L149.5,42.8 L155,47.4 L160.6,52 L166.1,56.6 L171.5,61.2 L176.9,65.9 L182.4,70.6 L187.7,75.4 L193.1,80.1 L198.4,84.9 L203.7,89.8 L208.9,94.7 L214.1,99.6 L219.2,104.6 L224.4,109.7 L229.5,114.7 L234.5,119.8 L239.6,124.9 L244.6,130.1 L249.6,135.2 L254.6,140.4 L259.6,145.6 L264.6,150.8 L269.6,155.9 L274.6,161.1 L279.6,166.3 L284.5,171.5 L289.5,176.7 L294.4,181.9 L299.3,187.1 L304.2,192.4 L309.1,197.6 L314,202.9 L318.9,208.2 L323.8,213.4 L328.7,218.7 L333.5,224 L338.4,229.3 L343.3,234.6 L348.1,239.8 L353,245.1 L357.8,250.4 L362.6,255.8 L367.5,261.1 L372.3,266.4 L377.2,271.7 L382.1,276.9 L387,282.2 L391.9,287.4 L396.8,292.7 L401.7,297.9 L406.6,303.1 L411.5,308.4 L416.3,313.7 L421.1,319.1 L425.9,324.4 L430.6,329.8 L435.3,335.2 L440.1,340.7 L444.8,346.1 L449.4,351.5 L454.1,357 L458.8,362.4 L463.5,367.9 L468.2,373.3 L472.9,378.7 L477.6,384.2 L482.4,389.5 L487.1,394.9 L491.9,400.3 L496.7,405.7 L501.5,411 L506.2,416.4 L511,421.7 L515.8,427.1 L520.6,432.4 L525.4,437.8 L530.2,443.1 L535,448.4 L539.8,453.8 L544.6,459.1 L549.4,464.5 L554.2,469.9 L558.9,475.2 L563.7,480.6 L568.5,486 L573.2,491.4 L578,496.7 L582.8,502.1 L587.5,507.5 L592.3,512.9 L597.1,518.2 L601.8,523.6 L606.6,528.9 L611.4,534.3 L616.2,539.6 L621,545 L625.8,550.3 L630.7,555.6 L635.5,560.9 L640.4,566.2 L645.2,571.5 L650.1,576.8 L654.9,582.1 L659.8,587.4 L664.6,592.7 L669.5,598 L674.3,603.3 L679.2,608.6 L684,613.9 L688.8,619.2 L693.6,624.6 L698.4,629.9 L703.2,635.2 L708.1,640.6 L712.9,645.9 L717.7,651.3 L722.4,656.6 L727.2,662 L732,667.3 L736.8,672.7 L741.6,678.1 L746.3,683.5 L751,688.8 L755.8,694.3 L760.5,699.7 L765.1,705.1 L769.8,710.6 L774.5,716 L779.3,721.4 L784,726.8 L788.8,732.2 L793.6,737.5 L798.3,742.9 L803.1,748.2 L807.9,753.6 L812.7,758.9 L817.5,764.3 L822.3,769.6 L826.8,775.2 L829.9,781.7 L833,788.2 L836,794.7 L838.9,801.2 L841.7,807.8 L844.5,814.5 L847.1,821.2 L849.6,827.9 L852,834.7 L854.3,841.5 L856.5,848.3 L858.6,855.2 L896.6,1228"/>
<path d="M104,7.5 L109.8,11.8 L115.6,16.1 L121.3,20.5 L127,24.9 L132.7,29.3 L138.3,33.8 L143.9,38.3 L149.5,42.8 L155.1,47.4 L160.6,51.9 L166.1,56.6 L171.5,61.2 L177,65.9 L182.4,70.6 L187.8,75.3 L193.1,80.1 L198.4,84.9 L203.7,89.7 L208.9,94.6 L214.1,99.6 L219.3,104.6 L224.4,109.6 L229.5,114.7 L234.6,119.8 L239.6,124.9 L244.7,130 L249.7,135.2 L254.7,140.4 L259.7,145.5 L264.7,150.7 L269.7,155.9 L274.6,161 L279.6,166.2 L284.6,171.4 L289.5,176.6 L294.5,181.8 L299.4,187.1 L304.3,192.3 L309.2,197.6 L314.1,202.8 L319,208.1 L323.8,213.4 L328.7,218.7 L333.6,223.9 L338.5,229.2 L343.3,234.5 L348.2,239.8 L353,245.1 L357.9,250.4 L362.7,255.7 L367.6,261 L372.4,266.3 L377.2,271.6 L382.1,276.9 L387,282.1 L391.9,287.4 L396.9,292.6 L401.8,297.8 L406.7,303.1 L411.6,308.3 L416.4,313.7 L421.2,319 L426,324.4 L430.7,329.8 L435.4,335.2 L440.1,340.6 L444.8,346 L449.5,351.5 L454.2,356.9 L458.9,362.4 L463.6,367.8 L468.3,373.2 L473,378.7 L477.7,384.1 L482.4,389.5 L487.2,394.9 L492,400.2 L496.8,405.6 L501.5,410.9 L506.3,416.3 L511.1,421.6 L515.9,427 L520.7,432.3 L525.5,437.7 L530.3,443 L535.1,448.4 L539.9,453.7 L544.7,459.1 L549.5,464.4 L554.2,469.8 L559,475.2 L563.8,480.5 L568.5,485.9 L573.3,491.3 L578.1,496.7 L582.8,502 L587.6,507.4 L592.4,512.8 L597.1,518.2 L601.9,523.5 L606.7,528.9 L611.5,534.2 L616.3,539.6 L621.1,544.9 L625.9,550.2 L630.7,555.6 L635.6,560.9 L640.4,566.2 L645.3,571.5 L650.1,576.7 L655,582 L659.8,587.3 L664.7,592.6 L669.6,597.9 L674.4,603.2 L679.2,608.5 L684.1,613.9 L688.9,619.2 L693.7,624.5 L698.5,629.9 L703.3,635.2 L708.1,640.5 L712.9,645.9 L717.7,651.2 L722.5,656.6 L727.3,661.9 L732.1,667.3 L736.8,672.6 L741.6,678 L746.4,683.4 L751.1,688.8 L755.8,694.2 L760.5,699.7 L765.2,705.1 L769.9,710.6 L774.6,716 L779.3,721.4 L784,726.8 L788.8,732.2 L793.6,737.5 L798.4,742.9 L803.2,748.2 L808,753.6 L812.8,758.9 L817.5,764.3 L822.4,769.6 L826.8,775.1 L829.9,781.7 L833,788.2 L836,794.7 L838.9,801.2 L841.8,807.8 L844.5,814.5 L847.1,821.2 L849.6,827.9 L852,834.7 L854.3,841.5 L856.5,848.3 L858.6,855.2 L896.6,1228"/>
<path d="M104,7.5 L109.8,11.8 L115.6,16.1 L121.3,20.5 L127,24.9 L132.7,29.3 L138.3,33.8 L143.9,38.3 L149.5,42.8 L155.1,47.3 L160.6,51.9 L166.1,56.5 L171.6,61.2 L177,65.9 L182.4,70.6 L187.8,75.3 L193.1,80.1 L198.4,84.9 L203.7,89.7 L209,94.6 L214.2,99.6 L219.3,104.5 L224.4,109.6 L229.5,114.6 L234.6,119.7 L239.7,124.9 L244.7,130 L249.7,135.2 L254.7,140.3 L259.7,145.5 L264.7,150.7 L269.7,155.8 L274.7,161 L279.7,166.2 L284.6,171.4 L289.6,176.6 L294.5,181.8 L299.4,187 L304.3,192.3 L309.2,197.5 L314.1,202.8 L319,208.1 L323.9,213.3 L328.8,218.6 L333.6,223.9 L338.5,229.2 L343.4,234.4 L348.2,239.7 L353.1,245 L357.9,250.3 L362.8,255.6 L367.6,261 L372.4,266.3 L377.3,271.5 L382.2,276.8 L387.1,282.1 L392,287.3 L396.9,292.5 L401.8,297.8 L406.7,303 L411.6,308.3 L416.5,313.6 L421.2,318.9 L426,324.3 L430.8,329.7 L435.5,335.1 L440.2,340.5 L444.9,346 L449.6,351.4 L454.3,356.9 L458.9,362.3 L463.6,367.8 L468.3,373.2 L473,378.6 L477.8,384 L482.5,389.4 L487.3,394.8 L492,400.2 L496.8,405.5 L501.6,410.9 L506.4,416.2 L511.2,421.6 L516,426.9 L520.8,432.3 L525.6,437.6 L530.4,443 L535.2,448.3 L540,453.7 L544.7,459 L549.5,464.4 L554.3,469.7 L559.1,475.1 L563.8,480.5 L568.6,485.9 L573.4,491.2 L578.1,496.6 L582.9,502 L587.7,507.4 L592.4,512.7 L597.2,518.1 L602,523.5 L606.8,528.8 L611.5,534.2 L616.3,539.5 L621.1,544.9 L626,550.2 L630.8,555.5 L635.6,560.8 L640.5,566.1 L645.3,571.4 L650.2,576.7 L655,582 L659.9,587.3 L664.8,592.6 L669.6,597.9 L674.4,603.2 L679.3,608.5 L684.1,613.8 L688.9,619.2 L693.7,624.5 L698.5,629.8 L703.4,635.2 L708.2,640.5 L713,645.8 L717.8,651.2 L722.6,656.5 L727.3,661.9 L732.1,667.2 L736.9,672.6 L741.7,678 L746.4,683.4 L751.1,688.8 L755.9,694.2 L760.6,699.6 L765.2,705.1 L769.9,710.5 L774.6,716 L779.3,721.4 L784.1,726.8 L788.8,732.1 L793.6,737.5 L798.4,742.9 L803.2,748.2 L808,753.6 L812.8,758.9 L817.6,764.3 L822.4,769.6 L826.9,775.1 L829.9,781.7 L833,788.2 L836,794.7 L839,801.2 L841.8,807.8 L844.5,814.5 L847.1,821.2 L849.6,827.9 L852,834.7 L854.3,841.5 L856.5,848.3 L858.6,855.2 L896.6,1228"/>
<path d="M104,7.5 L109.8,11.8 L115.6,16.1 L121.3,20.5 L127,24.9 L132.7,29.3 L138.3,33.7 L143.9,38.2 L149.5,42.8 L155.1,47.3 L160.6,51.9 L166.1,56.5 L171.6,61.2 L177,65.8 L182.4,70.6 L187.8,75.3 L193.2,80.1 L198.5,84.8 L203.7,89.7 L209,94.6 L214.2,99.5 L219.3,104.5 L224.5,109.5 L229.6,114.6 L234.6,119.7 L239.7,124.8 L244.7,130 L249.7,135.1 L254.7,140.3 L259.7,145.5 L264.7,150.6 L269.7,155.8 L274.7,161 L279.7,166.1 L284.7,171.3 L289.6,176.5 L294.5,181.8 L299.5,187 L304.4,192.2 L309.3,197.5 L314.2,202.7 L319,208 L323.9,213.3 L328.8,218.6 L333.7,223.9 L338.5,229.1 L343.4,234.4 L348.3,239.7 L353.1,245 L358,250.3 L362.8,255.6 L367.6,260.9 L372.5,266.2 L377.3,271.5 L382.2,276.8 L387.1,282 L392,287.3 L397,292.5 L401.9,297.7 L406.8,303 L411.7,308.3 L416.5,313.6 L421.3,318.9 L426.1,324.3 L430.8,329.7 L435.5,335.1 L440.2,340.5 L444.9,345.9 L449.6,351.4 L454.3,356.8 L459,362.3 L463.7,367.7 L468.4,373.1 L473.1,378.6 L477.8,384 L482.6,389.4 L487.3,394.8 L492.1,400.1 L496.9,405.5 L501.6,410.8 L506.4,416.2 L511.2,421.5 L516,426.9 L520.8,432.2 L525.6,437.6 L530.4,442.9 L535.2,448.3 L540,453.6 L544.8,459 L549.6,464.3 L554.4,469.7 L559.1,475.1 L563.9,480.4 L568.7,485.8 L573.4,491.2 L578.2,496.6 L582.9,501.9 L587.7,507.3 L592.5,512.7 L597.2,518.1 L602,523.4 L606.8,528.8 L611.6,534.1 L616.4,539.5 L621.2,544.8 L626,550.1 L630.8,555.5 L635.7,560.8 L640.5,566.1 L645.4,571.4 L650.2,576.7 L655.1,582 L659.9,587.3 L664.8,592.6 L669.6,597.9 L674.5,603.2 L679.3,608.5 L684.1,613.8 L689,619.1 L693.8,624.5 L698.6,629.8 L703.4,635.1 L708.2,640.5 L713,645.8 L717.8,651.1 L722.6,656.5 L727.4,661.8 L732.2,667.2 L736.9,672.6 L741.7,678 L746.4,683.3 L751.2,688.7 L755.9,694.2 L760.6,699.6 L765.2,705.1 L769.9,710.5 L774.6,715.9 L779.4,721.4 L784.1,726.7 L788.9,732.1 L793.6,737.5 L798.4,742.8 L803.2,748.2 L808,753.5 L812.8,758.9 L817.6,764.3 L822.4,769.6 L826.9,775.1 L829.9,781.7 L833,788.2 L836,794.7 L839,801.2 L841.8,807.8 L844.5,814.5 L847.1,821.2 L849.6,827.9 L852,834.7 L854.3,841.5 L856.5,848.3 L858.6,855.2 L896.6,1228"/>
<path d="M104,7.5 L109.8,11.8 L115.6,16.1 L121.3,20.5 L127,24.9 L132.7,29.3 L138.3,33.7 L144,38.2 L149.5,42.8 L155.1,47.3 L160.6,51.9 L166.1,56.5 L171.6,61.2 L177,65.8 L182.4,70.5 L187.8,75.3 L193.2,80 L198.5,84.8 L203.8,89.7 L209,94.6 L214.2,99.5 L219.4,104.5 L224.5,109.5 L229.6,114.6 L234.7,119.7 L239.7,124.8 L244.7,129.9 L249.8,135.1 L254.8,140.3 L259.8,145.4 L264.8,150.6 L269.8,155.8 L274.7,160.9 L279.7,166.1 L284.7,171.3 L289.6,176.5 L294.6,181.7 L299.5,187 L304.4,192.2 L309.3,197.5 L314.2,202.7 L319.1,208 L324,213.3 L328.8,218.5 L333.7,223.8 L338.6,229.1 L343.4,234.4 L348.3,239.7 L353.2,245 L358,250.3 L362.8,255.6 L367.7,260.9 L372.5,266.2 L377.4,271.5 L382.3,276.7 L387.2,282 L392.1,287.2 L397,292.5 L401.9,297.7 L406.8,302.9 L411.7,308.2 L416.5,313.5 L421.3,318.9 L426.1,324.2 L430.8,329.6 L435.6,335 L440.3,340.5 L445,345.9 L449.7,351.3 L454.3,356.8 L459,362.2 L463.7,367.7 L468.4,373.1 L473.1,378.5 L477.9,383.9 L482.6,389.3 L487.4,394.7 L492.1,400.1 L496.9,405.5 L501.7,410.8 L506.5,416.2 L511.3,421.5 L516.1,426.9 L520.9,432.2 L525.7,437.5 L530.5,442.9 L535.3,448.2 L540,453.6 L544.8,458.9 L549.6,464.3 L554.4,469.7 L559.2,475 L563.9,480.4 L568.7,485.8 L573.5,491.2 L578.2,496.5 L583,501.9 L587.7,507.3 L592.5,512.7 L597.3,518 L602.1,523.4 L606.8,528.8 L611.6,534.1 L616.4,539.5 L621.2,544.8 L626.1,550.1 L630.9,555.4 L635.7,560.7 L640.6,566 L645.4,571.3 L650.3,576.6 L655.1,581.9 L660,587.2 L664.8,592.5 L669.7,597.8 L674.5,603.1 L679.4,608.4 L684.2,613.8 L689,619.1 L693.8,624.4 L698.6,629.8 L703.4,635.1 L708.2,640.4 L713,645.8 L717.8,651.1 L722.6,656.5 L727.4,661.8 L732.2,667.2 L737,672.6 L741.7,677.9 L746.5,683.3 L751.2,688.7 L755.9,694.1 L760.6,699.6 L765.3,705 L769.9,710.5 L774.6,715.9 L779.4,721.3 L784.1,726.7 L788.9,732.1 L793.6,737.5 L798.4,742.8 L803.2,748.2 L808,753.5 L812.8,758.9 L817.6,764.2 L822.4,769.6 L826.9,775.1 L829.9,781.7 L833,788.2 L836,794.7 L839,801.2 L841.8,807.8 L844.5,814.5 L847.1,821.2 L849.6,827.9 L852,834.7 L854.3,841.5 L856.5,848.3 L858.6,855.2 L896.6,1228"/>
<path d="M104,7.5 L109.8,11.8 L115.6,16.1 L121.3,20.5 L127,24.9 L132.7,29.3 L138.3,33.7 L144,38.2 L149.5,42.7 L155.1,47.3 L160.6,51.9 L166.1,56.5 L171.6,61.1 L177,65.8 L182.5,70.5 L187.8,75.3 L193.2,80 L198.5,84.8 L203.8,89.6 L209,94.5 L214.2,99.5 L219.4,104.5 L224.5,109.5 L229.6,114.6 L234.7,119.7 L239.7,124.8 L244.8,129.9 L249.8,135.1 L254.8,140.2 L259.8,145.4 L264.8,150.6 L269.8,155.8 L274.8,160.9 L279.7,166.1 L284.7,171.3 L289.7,176.5 L294.6,181.7 L299.5,186.9 L304.4,192.2 L309.3,197.4 L314.2,202.7 L319.1,208 L324,213.2 L328.9,218.5 L333.7,223.8 L338.6,229.1 L343.5,234.4 L348.3,239.6 L353.2,244.9 L358,250.2 L362.9,255.5 L367.7,260.8 L372.6,266.2 L377.4,271.4 L382.3,276.7 L387.2,282 L392.1,287.2 L397,292.4 L402,297.7 L406.9,302.9 L411.7,308.2 L416.6,313.5 L421.4,318.8 L426.1,324.2 L430.9,329.6 L435.6,335 L440.3,340.4 L445,345.9 L449.7,351.3 L454.4,356.8 L459.1,362.2 L463.8,367.6 L468.5,373.1 L473.2,378.5 L477.9,383.9 L482.6,389.3 L487.4,394.7 L492.2,400.1 L496.9,405.4 L501.7,410.8 L506.5,416.1 L511.3,421.5 L516.1,426.8 L520.9,432.2 L525.7,437.5 L530.5,442.9 L535.3,448.2 L540.1,453.6 L544.9,458.9 L549.7,464.3 L554.4,469.6 L559.2,475 L564,480.4 L568.7,485.8 L573.5,491.1 L578.3,496.5 L583,501.9 L587.8,507.3 L592.5,512.6 L597.3,518 L602.1,523.4 L606.9,528.7 L611.7,534.1 L616.5,539.4 L621.3,544.8 L626.1,550.1 L630.9,555.4 L635.7,560.7 L640.6,566 L645.4,571.3 L650.3,576.6 L655.2,581.9 L660,587.2 L664.9,592.5 L669.7,597.8 L674.5,603.1 L679.4,608.4 L684.2,613.7 L689,619.1 L693.8,624.4 L698.6,629.7 L703.4,635.1 L708.3,640.4 L713.1,645.8 L717.9,651.1 L722.6,656.5 L727.4,661.8 L732.2,667.2 L737,672.5 L741.7,677.9 L746.5,683.3 L751.2,688.7 L755.9,694.1 L760.6,699.6 L765.3,705 L770,710.5 L774.7,715.9 L779.4,721.3 L784.1,726.7 L788.9,732.1 L793.7,737.5 L798.4,742.8 L803.2,748.2 L808,753.5 L812.8,758.9 L817.6,764.2 L822.4,769.6 L826.9,775.1 L829.9,781.7 L833,788.2 L836.1,794.7 L839,801.2 L841.8,807.8 L844.5,814.5 L847.1,821.2 L849.6,827.9 L852,834.7 L854.3,841.5 L856.5,848.3 L858.6,855.2 L896.6,1228"/>
<path d="M104,7.5 L109.8,11.8 L115.6,16.1 L121.3,20.5 L127,24.8 L132.7,29.3 L138.3,33.7 L144,38.2 L149.6,42.7 L155.1,47.3 L160.6,51.9 L166.1,56.5 L171.6,61.1 L177.1,65.8 L182.5,70.5 L187.8,75.2 L193.2,80 L198.5,84.8 L203.8,89.6 L209,94.5 L214.2,99.5 L219.4,104.5 L224.5,109.5 L229.6,114.6 L234.7,119.6 L239.7,124.8 L244.8,129.9 L249.8,135.1 L254.8,140.2 L259.8,145.4 L264.8,150.6 L269.8,155.7 L274.8,160.9 L279.8,166.1 L284.7,171.3 L289.7,176.5 L294.6,181.7 L299.5,186.9 L304.4,192.2 L309.3,197.4 L314.2,202.7 L319.1,207.9 L324,213.2 L328.9,218.5 L333.7,223.8 L338.6,229.1 L343.5,234.3 L348.4,239.6 L353.2,244.9 L358.1,250.2 L362.9,255.5 L367.7,260.8 L372.6,266.1 L377.4,271.4 L382.3,276.7 L387.2,281.9 L392.1,287.2 L397.1,292.4 L402,297.6 L406.9,302.9 L411.8,308.2 L416.6,313.5 L421.4,318.8 L426.2,324.2 L430.9,329.6 L435.6,335 L440.3,340.4 L445,345.8 L449.7,351.3 L454.4,356.7 L459.1,362.2 L463.8,367.6 L468.5,373.1 L473.2,378.5 L477.9,383.9 L482.7,389.3 L487.4,394.7 L492.2,400 L497,405.4 L501.7,410.8 L506.5,416.1 L511.3,421.5 L516.1,426.8 L520.9,432.2 L525.7,437.5 L530.5,442.8 L535.3,448.2 L540.1,453.5 L544.9,458.9 L549.7,464.2 L554.5,469.6 L559.2,475 L564,480.4 L568.8,485.7 L573.5,491.1 L578.3,496.5 L583,501.9 L587.8,507.2 L592.6,512.6 L597.3,518 L602.1,523.3 L606.9,528.7 L611.7,534.1 L616.5,539.4 L621.3,544.7 L626.1,550.1 L630.9,555.4 L635.8,560.7 L640.6,566 L645.5,571.3 L650.3,576.6 L655.2,581.9 L660,587.2 L664.9,592.5 L669.7,597.8 L674.6,603.1 L679.4,608.4 L684.2,613.7 L689,619.1 L693.8,624.4 L698.7,629.7 L703.5,635.1 L708.3,640.4 L713.1,645.7 L717.9,651.1 L722.7,656.4 L727.4,661.8 L732.2,667.2 L737,672.5 L741.8,677.9 L746.5,683.3 L751.2,688.7 L756,694.1 L760.6,699.6 L765.3,705 L770,710.5 L774.7,715.9 L779.4,721.3 L784.1,726.7 L788.9,732.1 L793.7,737.5 L798.5,742.8 L803.2,748.2 L808,753.5 L812.8,758.9 L817.6,764.2 L822.4,769.6 L826.9,775.1 L829.9,781.7 L833,788.2 L836.1,794.7 L839,801.2 L841.8,807.8 L844.5,814.5 L847.1,821.2 L849.6,827.9 L852,834.7 L854.3,841.5 L856.5,848.3 L858.6,855.2 L896.6,1228"/>
<path d="M104,7.5 L109.8,11.8 L115.6,16.1 L121.3,20.5 L127,24.8 L132.7,29.3 L138.3,33.7 L144,38.2 L149.6,42.7 L155.1,47.3 L160.7,51.9 L166.2,56.5 L171.6,61.1 L177.1,65.8 L182.5,70.5 L187.9,75.2 L193.2,80 L198.5,84.8 L203.8,89.6 L209,94.5 L214.2,99.5 L219.4,104.4 L224.5,109.5 L229.6,114.5 L234.7,119.6 L239.8,124.8 L244.8,129.9 L249.8,135 L254.8,140.2 L259.8,145.4 L264.8,150.6 L269.8,155.7 L274.8,160.9 L279.8,166.1 L284.7,171.2 L289.7,176.4 L294.6,181.7 L299.5,186.9 L304.5,192.1 L309.4,197.4 L314.2,202.7 L319.1,207.9 L324,213.2 L328.9,218.5 L333.8,223.8 L338.6,229 L343.5,234.3 L348.4,239.6 L353.2,244.9 L358.1,250.2 L362.9,255.5 L367.7,260.8 L372.6,266.1 L377.4,271.4 L382.3,276.7 L387.2,281.9 L392.1,287.2 L397.1,292.4 L402,297.6 L406.9,302.9 L411.8,308.1 L416.6,313.5 L421.4,318.8 L426.2,324.2 L430.9,329.6 L435.6,335 L440.4,340.4 L445.1,345.8 L449.7,351.3 L454.4,356.7 L459.1,362.2 L463.8,367.6 L468.5,373 L473.2,378.5 L477.9,383.9 L482.7,389.3 L487.4,394.6 L492.2,400 L497,405.4 L501.8,410.7 L506.5,416.1 L511.3,421.4 L516.1,426.8 L520.9,432.1 L525.7,437.5 L530.5,442.8 L535.3,448.2 L540.1,453.5 L544.9,458.9 L549.7,464.2 L554.5,469.6 L559.2,475 L564,480.3 L568.8,485.7 L573.5,491.1 L578.3,496.5 L583.1,501.8 L587.8,507.2 L592.6,512.6 L597.4,518 L602.1,523.3 L606.9,528.7 L611.7,534 L616.5,539.4 L621.3,544.7 L626.1,550.1 L631,555.4 L635.8,560.7 L640.6,566 L645.5,571.3 L650.3,576.6 L655.2,581.9 L660,587.2 L664.9,592.5 L669.7,597.8 L674.6,603.1 L679.4,608.4 L684.2,613.7 L689.1,619 L693.9,624.4 L698.7,629.7 L703.5,635 L708.3,640.4 L713.1,645.7 L717.9,651.1 L722.7,656.4 L727.5,661.8 L732.2,667.1 L737,672.5 L741.8,677.9 L746.5,683.3 L751.2,688.7 L756,694.1 L760.7,699.5 L765.3,705 L770,710.5 L774.7,715.9 L779.4,721.3 L784.1,726.7 L788.9,732.1 L793.7,737.5 L798.5,742.8 L803.2,748.2 L808,753.5 L812.8,758.9 L817.6,764.2 L822.4,769.6 L826.9,775.1 L829.9,781.7 L833,788.2 L836.1,794.7 L839,801.2 L841.8,807.8 L844.5,814.5 L847.1,821.2 L849.6,827.9 L852,834.7 L854.3,841.5 L856.5,848.3 L858.6,855.2 L896.6,1228"/>
<path d="M104,7.5 L109.8,11.8 L115.6,16.1 L121.3,20.5 L127,24.8 L132.7,29.3 L138.4,33.7 L144,38.2 L149.6,42.7 L155.1,47.3 L160.7,51.9 L166.2,56.5 L171.6,61.1 L177.1,65.8 L182.5,70.5 L187.9,75.2 L193.2,80 L198.5,84.8 L203.8,89.6 L209,94.5 L214.2,99.4 L219.4,104.4 L224.5,109.5 L229.6,114.5 L234.7,119.6 L239.8,124.7 L244.8,129.9 L249.8,135 L254.8,140.2 L259.8,145.4 L264.8,150.6 L269.8,155.7 L274.8,160.9 L279.8,166 L284.8,171.2 L289.7,176.4 L294.6,181.7 L299.6,186.9 L304.5,192.1 L309.4,197.4 L314.3,202.6 L319.1,207.9 L324,213.2 L328.9,218.5 L333.8,223.7 L338.6,229 L343.5,234.3 L348.4,239.6 L353.2,244.9 L358.1,250.2 L362.9,255.5 L367.8,260.8 L372.6,266.1 L377.5,271.4 L382.3,276.7 L387.2,281.9 L392.2,287.1 L397.1,292.4 L402,297.6 L406.9,302.9 L411.8,308.1 L416.6,313.4 L421.4,318.8 L426.2,324.2 L430.9,329.5 L435.7,335 L440.4,340.4 L445.1,345.8 L449.8,351.3 L454.4,356.7 L459.1,362.1 L463.8,367.6 L468.5,373 L473.2,378.4 L477.9,383.9 L482.7,389.3 L487.4,394.6 L492.2,400 L497,405.4 L501.8,410.7 L506.6,416.1 L511.4,421.4 L516.2,426.8 L521,432.1 L525.8,437.5 L530.6,442.8 L535.3,448.2 L540.1,453.5 L544.9,458.9 L549.7,464.2 L554.5,469.6 L559.3,474.9 L564,480.3 L568.8,485.7 L573.6,491.1 L578.3,496.5 L583.1,501.8 L587.8,507.2 L592.6,512.6 L597.4,518 L602.1,523.3 L606.9,528.7 L611.7,534 L616.5,539.4 L621.3,544.7 L626.1,550 L631,555.4 L635.8,560.7 L640.6,566 L645.5,571.3 L650.3,576.6 L655.2,581.9 L660.1,587.2 L664.9,592.5 L669.8,597.8 L674.6,603.1 L679.4,608.4 L684.3,613.7 L689.1,619 L693.9,624.4 L698.7,629.7 L703.5,635 L708.3,640.4 L713.1,645.7 L717.9,651.1 L722.7,656.4 L727.5,661.8 L732.3,667.1 L737,672.5 L741.8,677.9 L746.5,683.3 L751.3,688.7 L756,694.1 L760.7,699.5 L765.3,705 L770,710.5 L774.7,715.9 L779.4,721.3 L784.2,726.7 L788.9,732.1 L793.7,737.5 L798.5,742.8 L803.2,748.2 L808,753.5 L812.8,758.9 L817.6,764.2 L822.4,769.6 L826.9,775.1 L829.9,781.7 L833,788.2 L836.1,794.7 L839,801.2 L841.8,807.8 L844.5,814.5 L847.1,821.2 L849.6,827.9 L852,834.7 L854.3,841.5 L856.5,848.3 L858.6,855.2 L896.6,1228"/>
<path d="M104,7.5 L109.8,11.8 L115.6,16.1 L121.3,20.5 L127,24.8 L132.7,29.3 L138.4,33.7 L144,38.2 L149.6,42.7 L155.1,47.3 L160.7,51.9 L166.2,56.5 L171.6,61.1 L177.1,65.8 L182.5,70.5 L187.9,75.2 L193.2,80 L198.5,84.8 L203.8,89.6 L209.1,94.5 L214.3,99.4 L219.4,104.4 L224.5,109.5 L229.6,114.5 L234.7,119.6 L239.8,124.7 L244.8,129.9 L249.8,135 L254.8,140.2 L259.8,145.4 L264.8,150.5 L269.8,155.7 L274.8,160.9 L279.8,166 L284.8,171.2 L289.7,176.4 L294.6,181.6 L299.6,186.9 L304.5,192.1 L309.4,197.4 L314.3,202.6 L319.2,207.9 L324,213.2 L328.9,218.5 L333.8,223.7 L338.7,229 L343.5,234.3 L348.4,239.6 L353.3,244.9 L358.1,250.2 L362.9,255.5 L367.8,260.8 L372.6,266.1 L377.5,271.4 L382.3,276.7 L387.3,281.9 L392.2,287.1 L397.1,292.4 L402,297.6 L406.9,302.8 L411.8,308.1 L416.6,313.4 L421.4,318.8 L426.2,324.1 L430.9,329.5 L435.7,334.9 L440.4,340.4 L445.1,345.8 L449.8,351.2 L454.5,356.7 L459.1,362.1 L463.8,367.6 L468.5,373 L473.2,378.4 L478,383.8 L482.7,389.2 L487.5,394.6 L492.2,400 L497,405.4 L501.8,410.7 L506.6,416.1 L511.4,421.4 L516.2,426.8 L521,432.1 L525.8,437.5 L530.6,442.8 L535.4,448.1 L540.2,453.5 L544.9,458.8 L549.7,464.2 L554.5,469.6 L559.3,474.9 L564,480.3 L568.8,485.7 L573.6,491.1 L578.3,496.4 L583.1,501.8 L587.9,507.2 L592.6,512.6 L597.4,517.9 L602.2,523.3 L606.9,528.7 L611.7,534 L616.5,539.4 L621.3,544.7 L626.2,550 L631,555.4 L635.8,560.7 L640.7,566 L645.5,571.3 L650.4,576.6 L655.2,581.9 L660.1,587.1 L664.9,592.4 L669.8,597.7 L674.6,603.1 L679.4,608.4 L684.3,613.7 L689.1,619 L693.9,624.4 L698.7,629.7 L703.5,635 L708.3,640.4 L713.1,645.7 L717.9,651.1 L722.7,656.4 L727.5,661.8 L732.3,667.1 L737,672.5 L741.8,677.9 L746.5,683.3 L751.3,688.7 L756,694.1 L760.7,699.5 L765.3,705 L770,710.5 L774.7,715.9 L779.4,721.3 L784.2,726.7 L788.9,732.1 L793.7,737.4 L798.5,742.8 L803.3,748.2 L808,753.5 L812.8,758.9 L817.6,764.2 L822.5,769.6 L826.9,775.1 L829.9,781.7 L833,788.2 L836.1,794.7 L839,801.2 L841.8,807.8 L844.5,814.5 L847.1,821.2 L849.6,827.9 L852,834.7 L854.3,841.5 L856.5,848.3 L858.6,855.2 L896.6,1228"/>
</g>
<path d="M705.8,7.5 L712.4,49.6 L718.9,91.7 L725.5,133.7 L732.1,175.8 L738.7,217.9 L745.3,260 L751.8,302 L758.4,344.1 L765,386.2 L771.6,428.3 L778.2,470.4 L784.9,512.4 L791.5,554.5 L798.1,596.6 L804.7,638.6 L811.3,680.7 L817.8,722.8 L824.4,764.9 L830.9,807 L837.5,849.1 L844,891.1 L850.5,933.2 L857,975.3 L863.4,1017.4 L869.8,1059.5 L876.2,1101.6 L882.5,1143.8 L888.8,1185.9 L895.1,1228" stroke="#0a0a0a" stroke-width="1.7" fill="none"/>
<g fill="#151515">
<circle cx="178.4" cy="58.7" r="12"/>
<circle cx="200.4" cy="74" r="12"/>
<circle cx="216.7" cy="89.4" r="12"/>
<circle cx="230.5" cy="104.4" r="12"/>
<circle cx="249.6" cy="119.9" r="12"/>
<circle cx="265.9" cy="134.9" r="12"/>
<circle cx="280.1" cy="157.9" r="12"/>
<circle cx="402.9" cy="234.2" r="12"/>
<circle cx="587.3" cy="456.7" r="12"/>
<circle cx="614.2" cy="473.8" r="12"/>
<circle cx="579.6" cy="485.6" r="12"/>
<circle cx="606.9" cy="524.8" r="12"/>
<circle cx="611.2" cy="529" r="12"/>
<circle cx="621.7" cy="556.5" r="12"/>
<circle cx="621.7" cy="570.7" r="12"/>
<circle cx="635.9" cy="588.6" r="12"/>
</g>
<g font-family="'Liberation Sans', Arial, Helvetica, sans-serif">
<text x="81" y="21.4" font-size="29" text-anchor="end" fill="#404040">0</text>
<text x="74.7" y="174" font-size="29" text-anchor="end" fill="#404040">10</text>
<text x="74.7" y="326.5" font-size="29" text-anchor="end" fill="#404040">20</text>
<text x="74.7" y="479.1" font-size="29" text-anchor="end" fill="#404040">30</text>
<text x="74.7" y="631.6" font-size="29" text-anchor="end" fill="#404040">40</text>
<text x="74.7" y="784.2" font-size="29" text-anchor="end" fill="#404040">50</text>
<text x="74.7" y="936.8" font-size="29" text-anchor="end" fill="#404040">60</text>
<text x="74.7" y="1089.3" font-size="29" text-anchor="end" fill="#404040">70</text>
<text x="74.7" y="1241.9" font-size="29" text-anchor="end" fill="#404040">80</text>
<text x="91.8" y="1282" font-size="29" text-anchor="start" fill="#404040">0</text>
<text x="344.2" y="1282" font-size="29" text-anchor="start" fill="#404040">500</text>
<text x="606.3" y="1282" font-size="29" text-anchor="start" fill="#404040">1000</text>
<text x="880" y="1282" font-size="29" text-anchor="start" fill="#404040">1500</text>
<text x="21.3" y="648" font-size="29" text-anchor="middle" fill="#404040" transform="rotate(-90 21.3 648)">Depth (km)</text>
<text x="368" y="1327.3" font-size="29"><tspan fill="#1a1a1a">Temperature </tspan><tspan fill="#404040">(°C)</tspan></text>
<text x="727" y="40" font-size="29" text-anchor="start" fill="#0a0a0a" font-style="italic" transform="rotate(80.5 727 40)">peridotite solidus</text>
<text x="408" y="626" font-size="29" text-anchor="start" fill="#0a0a0a" font-style="italic" transform="rotate(69 408 626)">0 Myr</text>
<text x="715" y="630" font-size="29" text-anchor="start" fill="#0a0a0a" font-style="italic" transform="rotate(51 715 630)">35 Myr</text>
<rect x="838" y="30.7" width="58.8" height="58.4" fill="#fff" stroke="#141414" stroke-width="2"/>
<text x="867.6" y="66.8" font-size="29" text-anchor="middle" fill="#0a0a0a">a</text>
</g>
</g>
<g id="panel-b">
<path d="M1425.4,7.5 V1228 M1699,7.5 V1228 M1151.7,160.1 H1972.7 M1151.7,312.6 H1972.7 M1151.7,465.2 H1972.7 M1151.7,617.8 H1972.7 M1151.7,770.3 H1972.7 M1151.7,922.9 H1972.7 M1151.7,1075.4 H1972.7" stroke="#e3e3e3" stroke-width="2" fill="none"/>
<rect x="1151.7" y="7.5" width="821" height="1220.5" fill="none" stroke="#333333" stroke-width="2"/>
<path d="M1425.4,7.5 v12.5 M1425.4,1228 v-12.5 M1699,7.5 v12.5 M1699,1228 v-12.5 M1151.7,160.1 h12.5 M1972.7,160.1 h-12.5 M1151.7,312.6 h12.5 M1972.7,312.6 h-12.5 M1151.7,465.2 h12.5 M1972.7,465.2 h-12.5 M1151.7,617.8 h12.5 M1972.7,617.8 h-12.5 M1151.7,770.3 h12.5 M1972.7,770.3 h-12.5 M1151.7,922.9 h12.5 M1972.7,922.9 h-12.5 M1151.7,1075.4 h12.5 M1972.7,1075.4 h-12.5" stroke="#333333" stroke-width="2" fill="none"/>
<clipPath id="clip-b"><rect x="1150.2" y="6" width="824" height="1223"/></clipPath>
<g clip-path="url(#clip-b)" fill="none" stroke="#e02b1c" stroke-width="3.7" stroke-linejoin="round" stroke-linecap="butt">
<path d="M1151.7,7.5 L1158.5,16.3 L1165.2,25.1 L1171.9,33.8 L1178.4,42.6 L1184.9,51.4 L1191.2,60.2 L1197.3,69 L1203.2,77.7 L1208.8,86.5 L1214.2,95.3 L1219.4,104.1 L1224.4,112.9 L1229.2,121.6 L1233.9,130.4 L1238.5,139.2 L1243,148 L1247.5,156.8 L1252,165.6 L1256.5,174.3 L1261,183.1 L1265.5,191.9 L1270,200.7 L1274.4,209.5 L1278.8,218.2 L1283.2,227 L1287.4,235.8 L1291.6,244.6 L1295.7,253.4 L1299.8,262.1 L1303.8,270.9 L1307.7,279.7 L1311.6,288.5 L1315.4,297.3 L1319.2,306 L1322.9,314.8 L1326.7,323.6 L1330.4,332.4 L1334.1,341.2 L1337.7,349.9 L1341.4,358.7 L1345,367.5 L1348.6,376.3 L1352.2,385.1 L1355.7,393.8 L1359.3,402.6 L1362.8,411.4 L1366.3,420.2 L1369.9,429 L1373.3,437.7 L1376.8,446.5 L1380.3,455.3 L1383.8,464.1 L1387.2,472.9 L1390.7,481.7 L1394.1,490.4 L1397.6,499.2 L1401,508 L1404.4,516.8 L1407.9,525.6 L1411.3,534.3 L1414.7,543.1 L1418.2,551.9 L1421.6,560.7 L1425.1,569.5 L1428.5,578.2 L1432,587 L1435.4,595.8 L1438.9,604.6 L1442.4,613.4 L1445.8,622.1 L1449.3,630.9 L1452.8,639.7 L1456.4,648.5 L1459.9,657.3 L1463.4,666 L1466.9,674.8 L1470.4,683.6 L1473.9,692.4 L1477.4,701.2 L1481,709.9 L1484.4,718.7 L1487.9,727.5 L1491.4,736.3 L1494.9,745.1 L1498.3,753.8 L1501.7,762.6 L1505.1,771.4 L1508.5,780.2 L1511.9,789 L1515.2,797.8 L1518.6,806.5 L1521.9,815.3 L1525.2,824.1 L1528.5,832.9 L1531.8,841.7 L1535.2,850.4 L1538.5,859.2 L1541.8,868 L1545.1,876.8 L1548.5,885.6 L1551.8,894.3 L1555.2,903.1 L1558.6,911.9 L1562,920.7 L1565.5,929.5 L1569,938.2 L1572.4,947 L1576,955.8 L1579.5,964.6 L1583,973.4 L1586.5,982.1 L1590.1,990.9 L1593.6,999.7 L1597.2,1008.5 L1600.7,1017.3 L1604.2,1026 L1607.8,1034.8 L1611.3,1043.6 L1614.8,1052.4 L1618.2,1061.2 L1621.7,1069.9 L1625.1,1078.7 L1628.5,1087.5 L1631.8,1096.3 L1635.2,1105.1 L1638.5,1113.9 L1641.8,1122.6 L1645,1131.4 L1648.3,1140.2 L1651.5,1149 L1654.7,1157.8 L1657.9,1166.5 L1661.1,1175.3 L1664.3,1184.1 L1667.5,1192.9 L1670.6,1201.7 L1673.8,1210.4 L1676.9,1219.2 L1680.1,1228"/>
<path d="M1151.7,7.5 L1158.6,16.3 L1165.4,25.1 L1172.2,33.8 L1178.9,42.6 L1185.5,51.4 L1191.9,60.2 L1198.1,69 L1204.1,77.7 L1209.9,86.5 L1215.4,95.3 L1220.6,104.1 L1225.7,112.9 L1230.6,121.6 L1235.4,130.4 L1240.1,139.2 L1244.8,148 L1249.4,156.8 L1253.9,165.6 L1258.6,174.3 L1263.2,183.1 L1267.7,191.9 L1272.3,200.7 L1276.8,209.5 L1281.3,218.2 L1285.8,227 L1290.2,235.8 L1294.5,244.6 L1298.7,253.4 L1302.9,262.1 L1307,270.9 L1311,279.7 L1315,288.5 L1318.9,297.3 L1322.8,306 L1326.5,314.8 L1330.3,323.6 L1333.9,332.4 L1337.6,341.2 L1341.1,349.9 L1344.7,358.7 L1348.1,367.5 L1351.6,376.3 L1355,385.1 L1358.4,393.8 L1361.8,402.6 L1365.1,411.4 L1368.5,420.2 L1371.8,429 L1375.1,437.7 L1378.4,446.5 L1381.8,455.3 L1385.1,464.1 L1388.4,472.9 L1391.8,481.7 L1395.1,490.4 L1398.5,499.2 L1401.8,508 L1405.2,516.8 L1408.6,525.6 L1412,534.3 L1415.4,543.1 L1418.8,551.9 L1422.2,560.7 L1425.7,569.5 L1429.1,578.2 L1432.6,587 L1436,595.8 L1439.5,604.6 L1443,613.4 L1446.4,622.1 L1449.9,630.9 L1453.4,639.7 L1456.9,648.5 L1460.4,657.3 L1463.9,666 L1467.5,674.8 L1471,683.6 L1474.5,692.4 L1478,701.2 L1481.4,709.9 L1484.9,718.7 L1488.4,727.5 L1491.8,736.3 L1495.3,745.1 L1498.7,753.8 L1502.1,762.6 L1505.5,771.4 L1508.9,780.2 L1512.3,789 L1515.6,797.8 L1518.9,806.5 L1522.2,815.3 L1525.6,824.1 L1528.9,832.9 L1532.2,841.7 L1535.5,850.4 L1538.8,859.2 L1542.1,868 L1545.5,876.8 L1548.8,885.6 L1552.2,894.3 L1555.5,903.1 L1558.9,911.9 L1562.3,920.7 L1565.8,929.5 L1569.2,938.2 L1572.7,947 L1576.2,955.8 L1579.8,964.6 L1583.3,973.4 L1586.8,982.1 L1590.3,990.9 L1593.9,999.7 L1597.4,1008.5 L1601,1017.3 L1604.5,1026 L1608,1034.8 L1611.5,1043.6 L1615,1052.4 L1618.4,1061.2 L1621.9,1069.9 L1625.3,1078.7 L1628.7,1087.5 L1632,1096.3 L1635.3,1105.1 L1638.6,1113.9 L1641.9,1122.6 L1645.2,1131.4 L1648.4,1140.2 L1651.6,1149 L1654.9,1157.8 L1658.1,1166.5 L1661.2,1175.3 L1664.4,1184.1 L1667.6,1192.9 L1670.7,1201.7 L1673.9,1210.4 L1677.1,1219.2 L1680.2,1228"/>
<path d="M1151.7,7.5 L1158.7,16.3 L1165.7,25.1 L1172.6,33.8 L1179.4,42.6 L1186.1,51.4 L1192.6,60.2 L1199,69 L1205.1,77.7 L1211,86.5 L1216.6,95.3 L1222,104.1 L1227.2,112.9 L1232.2,121.6 L1237.1,130.4 L1241.9,139.2 L1246.6,148 L1251.3,156.8 L1256,165.6 L1260.7,174.3 L1265.4,183.1 L1270.1,191.9 L1274.8,200.7 L1279.4,209.5 L1284,218.2 L1288.6,227 L1293.1,235.8 L1297.5,244.6 L1301.9,253.4 L1306.2,262.1 L1310.5,270.9 L1314.6,279.7 L1318.7,288.5 L1322.7,297.3 L1326.6,306 L1330.4,314.8 L1334.2,323.6 L1337.8,332.4 L1341.4,341.2 L1344.9,349.9 L1348.3,358.7 L1351.7,367.5 L1355.1,376.3 L1358.5,385.1 L1361.8,393.8 L1365.1,402.6 L1368.5,411.4 L1371.8,420.2 L1375.2,429 L1378.6,437.7 L1382.1,446.5 L1385.6,455.3 L1389.1,464.1 L1392.8,472.9 L1396.5,481.7 L1400.3,490.4 L1404.1,499.2 L1408,508 L1412,516.8 L1416,525.6 L1420,534.3 L1424,543.1 L1428.1,551.9 L1432.1,560.7 L1436.2,569.5 L1440.3,578.2 L1444.4,587 L1448.5,595.8 L1452.5,604.6 L1456.6,613.4 L1460.6,622.1 L1464.6,630.9 L1468.5,639.7 L1472.5,648.5 L1476.4,657.3 L1480.3,666 L1484.2,674.8 L1488,683.6 L1491.9,692.4 L1495.7,701.2 L1499.5,709.9 L1503.4,718.7 L1507.2,727.5 L1511,736.3 L1514.8,745.1 L1518.7,753.8 L1522.5,762.6 L1526.4,771.4 L1530.3,780.2 L1534.1,789 L1538,797.8 L1541.9,806.5 L1545.8,815.3 L1549.7,824.1 L1553.7,832.9 L1557.6,841.7 L1561.5,850.4 L1565.5,859.2 L1569.4,868 L1573.3,876.8 L1577.2,885.6 L1581.2,894.3 L1585.1,903.1 L1589,911.9 L1592.9,920.7 L1596.8,929.5 L1600.7,938.2 L1604.6,947 L1608.5,955.8 L1612.4,964.6 L1616.2,973.4 L1620.1,982.1 L1623.9,990.9 L1627.8,999.7 L1631.6,1008.5 L1635.4,1017.3 L1639.3,1026 L1643.1,1034.8 L1646.9,1043.6 L1650.7,1052.4 L1654.5,1061.2 L1658.2,1069.9 L1662,1078.7 L1665.8,1087.5 L1669.5,1096.3 L1673.3,1105.1 L1677,1113.9 L1680.8,1122.6 L1684.5,1131.4 L1688.2,1140.2 L1692,1149 L1695.7,1157.8 L1699.4,1166.5 L1703.1,1175.3 L1706.9,1184.1 L1710.6,1192.9 L1714.3,1201.7 L1718,1210.4 L1721.7,1219.2 L1725.4,1228"/>
<path d="M1151.7,7.5 L1158.8,16.3 L1165.9,25.1 L1173,33.8 L1179.9,42.6 L1186.7,51.4 L1193.4,60.2 L1199.8,69 L1206.1,77.7 L1212.1,86.5 L1217.8,95.3 L1223.3,104.1 L1228.7,112.9 L1233.8,121.6 L1238.8,130.4 L1243.7,139.2 L1248.6,148 L1253.4,156.8 L1258.2,165.6 L1263,174.3 L1267.8,183.1 L1272.6,191.9 L1277.4,200.7 L1282.1,209.5 L1286.8,218.2 L1291.5,227 L1296.1,235.8 L1300.7,244.6 L1305.2,253.4 L1309.6,262.1 L1314,270.9 L1318.2,279.7 L1322.4,288.5 L1326.5,297.3 L1330.6,306 L1334.5,314.8 L1338.3,323.6 L1342,332.4 L1345.7,341.2 L1349.3,349.9 L1352.8,358.7 L1356.3,367.5 L1359.8,376.3 L1363.3,385.1 L1366.7,393.8 L1370.2,402.6 L1373.7,411.4 L1377.2,420.2 L1380.8,429 L1384.5,437.7 L1388.2,446.5 L1392,455.3 L1395.9,464.1 L1399.9,472.9 L1404,481.7 L1408.2,490.4 L1412.5,499.2 L1416.9,508 L1421.4,516.8 L1425.8,525.6 L1430.4,534.3 L1435,543.1 L1439.6,551.9 L1444.2,560.7 L1448.9,569.5 L1453.6,578.2 L1458.2,587 L1462.8,595.8 L1467.4,604.6 L1472,613.4 L1476.6,622.1 L1481.1,630.9 L1485.5,639.7 L1489.9,648.5 L1494.3,657.3 L1498.7,666 L1503,674.8 L1507.3,683.6 L1511.6,692.4 L1515.9,701.2 L1520.2,709.9 L1524.5,718.7 L1528.8,727.5 L1533.1,736.3 L1537.5,745.1 L1541.8,753.8 L1546.2,762.6 L1550.6,771.4 L1555,780.2 L1559.4,789 L1563.9,797.8 L1568.4,806.5 L1572.9,815.3 L1577.4,824.1 L1582,832.9 L1586.5,841.7 L1591.1,850.4 L1595.6,859.2 L1600.2,868 L1604.7,876.8 L1609.2,885.6 L1613.7,894.3 L1618.2,903.1 L1622.7,911.9 L1627.2,920.7 L1631.6,929.5 L1636,938.2 L1640.4,947 L1644.8,955.8 L1649.1,964.6 L1653.4,973.4 L1657.7,982.1 L1662,990.9 L1666.3,999.7 L1670.5,1008.5 L1674.8,1017.3 L1679,1026 L1683.2,1034.8 L1687.4,1043.6 L1691.6,1052.4 L1695.7,1061.2 L1699.9,1069.9 L1704.1,1078.7 L1708.2,1087.5 L1712.4,1096.3 L1716.5,1105.1 L1720.6,1113.9 L1724.8,1122.6 L1728.9,1131.4 L1733,1140.2 L1737.2,1149 L1741.3,1157.8 L1745.4,1166.5 L1749.5,1175.3 L1753.6,1184.1 L1757.8,1192.9 L1761.9,1201.7 L1766,1210.4 L1770.1,1219.2 L1774.2,1228"/>
<path d="M1151.7,7.5 L1159,16.3 L1166.3,25.1 L1173.6,33.8 L1180.7,42.6 L1187.7,51.4 L1194.6,60.2 L1201.2,69 L1207.7,77.7 L1213.9,86.5 L1219.8,95.3 L1225.5,104.1 L1231,112.9 L1236.3,121.6 L1241.5,130.4 L1246.6,139.2 L1251.6,148 L1256.6,156.8 L1261.6,165.6 L1266.6,174.3 L1271.5,183.1 L1276.5,191.9 L1281.4,200.7 L1286.4,209.5 L1291.2,218.2 L1296.1,227 L1300.9,235.8 L1305.6,244.6 L1310.3,253.4 L1314.9,262.1 L1319.4,270.9 L1323.9,279.7 L1328.2,288.5 L1332.5,297.3 L1336.7,306 L1340.8,314.8 L1344.8,323.6 L1348.8,332.4 L1352.6,341.2 L1356.4,349.9 L1360.2,358.7 L1363.9,367.5 L1367.6,376.3 L1371.3,385.1 L1375,393.8 L1378.7,402.6 L1382.5,411.4 L1386.3,420.2 L1390.2,429 L1394.1,437.7 L1398.1,446.5 L1402.2,455.3 L1406.5,464.1 L1410.8,472.9 L1415.3,481.7 L1419.8,490.4 L1424.5,499.2 L1429.2,508 L1434.1,516.8 L1439,525.6 L1443.9,534.3 L1448.9,543.1 L1454,551.9 L1459,560.7 L1464.1,569.5 L1469.3,578.2 L1474.4,587 L1479.5,595.8 L1484.6,604.6 L1489.7,613.4 L1494.7,622.1 L1499.7,630.9 L1504.7,639.7 L1509.7,648.5 L1514.6,657.3 L1519.5,666 L1524.4,674.8 L1529.2,683.6 L1534.1,692.4 L1539,701.2 L1543.8,709.9 L1548.7,718.7 L1553.6,727.5 L1558.4,736.3 L1563.3,745.1 L1568.2,753.8 L1573.2,762.6 L1578.1,771.4 L1583.1,780.2 L1588.1,789 L1593.1,797.8 L1598.2,806.5 L1603.2,815.3 L1608.3,824.1 L1613.4,832.9 L1618.4,841.7 L1623.5,850.4 L1628.6,859.2 L1633.7,868 L1638.7,876.8 L1643.8,885.6 L1648.8,894.3 L1653.8,903.1 L1658.8,911.9 L1663.8,920.7 L1668.7,929.5 L1673.6,938.2 L1678.5,947 L1683.3,955.8 L1688.1,964.6 L1692.9,973.4 L1697.6,982.1 L1702.3,990.9 L1707,999.7 L1711.7,1008.5 L1716.3,1017.3 L1720.9,1026 L1725.4,1034.8 L1730,1043.6 L1734.5,1052.4 L1738.9,1061.2 L1743.3,1069.9 L1747.7,1078.7 L1752.1,1087.5 L1756.5,1096.3 L1760.8,1105.1 L1765.1,1113.9 L1769.3,1122.6 L1773.6,1131.4 L1777.8,1140.2 L1782,1149 L1786.2,1157.8 L1790.3,1166.5 L1794.5,1175.3 L1798.7,1184.1 L1802.8,1192.9 L1806.9,1201.7 L1811.1,1210.4 L1815.2,1219.2 L1819.3,1228"/>
<path d="M1151.7,7.5 L1159.3,16.3 L1166.8,25.1 L1174.3,33.8 L1181.7,42.6 L1189,51.4 L1196.1,60.2 L1203,69 L1209.7,77.7 L1216.2,86.5 L1222.3,95.3 L1228.3,104.1 L1234,112.9 L1239.5,121.6 L1245,130.4 L1250.3,139.2 L1255.5,148 L1260.7,156.8 L1265.9,165.6 L1271.1,174.3 L1276.3,183.1 L1281.5,191.9 L1286.7,200.7 L1291.8,209.5 L1296.9,218.2 L1302,227 L1307,235.8 L1311.9,244.6 L1316.8,253.4 L1321.7,262.1 L1326.4,270.9 L1331.1,279.7 L1335.7,288.5 L1340.2,297.3 L1344.6,306 L1349,314.8 L1353.2,323.6 L1357.4,332.4 L1361.4,341.2 L1365.5,349.9 L1369.5,358.7 L1373.4,367.5 L1377.4,376.3 L1381.3,385.1 L1385.3,393.8 L1389.3,402.6 L1393.3,411.4 L1397.4,420.2 L1401.6,429 L1405.8,437.7 L1410.2,446.5 L1414.6,455.3 L1419.2,464.1 L1423.9,472.9 L1428.8,481.7 L1433.8,490.4 L1438.9,499.2 L1444.1,508 L1449.4,516.8 L1454.7,525.6 L1460.2,534.3 L1465.7,543.1 L1471.2,551.9 L1476.8,560.7 L1482.4,569.5 L1488,578.2 L1493.7,587 L1499.3,595.8 L1504.9,604.6 L1510.5,613.4 L1516.1,622.1 L1521.6,630.9 L1527.1,639.7 L1532.5,648.5 L1538,657.3 L1543.4,666 L1548.8,674.8 L1554.1,683.6 L1559.5,692.4 L1564.9,701.2 L1570.2,709.9 L1575.6,718.7 L1580.9,727.5 L1586.3,736.3 L1591.7,745.1 L1597.1,753.8 L1602.5,762.6 L1608,771.4 L1613.5,780.2 L1619,789 L1624.5,797.8 L1630,806.5 L1635.6,815.3 L1641.1,824.1 L1646.7,832.9 L1652.3,841.7 L1657.8,850.4 L1663.4,859.2 L1668.9,868 L1674.4,876.8 L1679.9,885.6 L1685.4,894.3 L1690.8,903.1 L1696.2,911.9 L1701.6,920.7 L1706.9,929.5 L1712.2,938.2 L1717.4,947 L1722.6,955.8 L1727.7,964.6 L1732.7,973.4 L1737.8,982.1 L1742.7,990.9 L1747.6,999.7 L1752.5,1008.5 L1757.2,1017.3 L1762,1026 L1766.6,1034.8 L1771.2,1043.6 L1775.7,1052.4 L1780.1,1061.2 L1784.5,1069.9 L1788.8,1078.7 L1793,1087.5 L1797.2,1096.3 L1801.3,1105.1 L1805.3,1113.9 L1809.2,1122.6 L1813.2,1131.4 L1817,1140.2 L1820.8,1149 L1824.6,1157.8 L1828.4,1166.5 L1832.1,1175.3 L1835.8,1184.1 L1839.5,1192.9 L1843.1,1201.7 L1846.7,1210.4 L1850.4,1219.2 L1854,1228"/>
<path d="M1151.7,7.5 L1159.6,16.3 L1167.4,25.1 L1175.2,33.8 L1182.9,42.6 L1190.5,51.4 L1197.9,60.2 L1205.1,69 L1212.1,77.7 L1218.8,86.5 L1225.2,95.3 L1231.4,104.1 L1237.4,112.9 L1243.3,121.6 L1248.9,130.4 L1254.5,139.2 L1260,148 L1265.5,156.8 L1270.9,165.6 L1276.4,174.3 L1281.8,183.1 L1287.3,191.9 L1292.7,200.7 L1298.1,209.5 L1303.4,218.2 L1308.7,227 L1314,235.8 L1319.2,244.6 L1324.4,253.4 L1329.4,262.1 L1334.5,270.9 L1339.4,279.7 L1344.3,288.5 L1349,297.3 L1353.7,306 L1358.3,314.8 L1362.9,323.6 L1367.3,332.4 L1371.7,341.2 L1376,349.9 L1380.3,358.7 L1384.6,367.5 L1388.8,376.3 L1393.1,385.1 L1397.4,393.8 L1401.7,402.6 L1406.1,411.4 L1410.5,420.2 L1415,429 L1419.6,437.7 L1424.4,446.5 L1429.2,455.3 L1434.2,464.1 L1439.3,472.9 L1444.5,481.7 L1449.9,490.4 L1455.4,499.2 L1461,508 L1466.8,516.8 L1472.6,525.6 L1478.5,534.3 L1484.4,543.1 L1490.4,551.9 L1496.5,560.7 L1502.6,569.5 L1508.7,578.2 L1514.8,587 L1521,595.8 L1527.1,604.6 L1533.2,613.4 L1539.3,622.1 L1545.4,630.9 L1551.5,639.7 L1557.5,648.5 L1563.5,657.3 L1569.5,666 L1575.4,674.8 L1581.4,683.6 L1587.3,692.4 L1593.2,701.2 L1599.1,709.9 L1605,718.7 L1610.8,727.5 L1616.7,736.3 L1622.6,745.1 L1628.4,753.8 L1634.3,762.6 L1640.1,771.4 L1646,780.2 L1651.8,789 L1657.7,797.8 L1663.5,806.5 L1669.3,815.3 L1675.1,824.1 L1680.9,832.9 L1686.7,841.7 L1692.4,850.4 L1698.2,859.2 L1703.8,868 L1709.5,876.8 L1715.1,885.6 L1720.7,894.3 L1726.2,903.1 L1731.7,911.9 L1737.1,920.7 L1742.5,929.5 L1747.9,938.2 L1753.1,947 L1758.3,955.8 L1763.5,964.6 L1768.6,973.4 L1773.6,982.1 L1778.5,990.9 L1783.3,999.7 L1788.1,1008.5 L1792.8,1017.3 L1797.4,1026 L1801.8,1034.8 L1806.2,1043.6 L1810.5,1052.4 L1814.7,1061.2 L1818.8,1069.9 L1822.8,1078.7 L1826.6,1087.5 L1830.4,1096.3 L1834.1,1105.1 L1837.6,1113.9 L1841.1,1122.6 L1844.5,1131.4 L1847.9,1140.2 L1851.1,1149 L1854.3,1157.8 L1857.5,1166.5 L1860.6,1175.3 L1863.7,1184.1 L1866.7,1192.9 L1869.7,1201.7 L1872.7,1210.4 L1875.7,1219.2 L1878.7,1228"/>
<path d="M1151.7,7.5 L1159.9,16.3 L1168.1,25.1 L1176.3,33.8 L1184.3,42.6 L1192.2,51.4 L1199.9,60.2 L1207.4,69 L1214.7,77.7 L1221.8,86.5 L1228.5,95.3 L1235,104.1 L1241.4,112.9 L1247.5,121.6 L1253.5,130.4 L1259.3,139.2 L1265.1,148 L1270.9,156.8 L1276.6,165.6 L1282.4,174.3 L1288.1,183.1 L1293.8,191.9 L1299.5,200.7 L1305.2,209.5 L1310.8,218.2 L1316.4,227 L1322,235.8 L1327.5,244.6 L1332.9,253.4 L1338.3,262.1 L1343.6,270.9 L1348.8,279.7 L1354,288.5 L1359.1,297.3 L1364.1,306 L1369,314.8 L1373.9,323.6 L1378.6,332.4 L1383.4,341.2 L1388,349.9 L1392.7,358.7 L1397.3,367.5 L1402,376.3 L1406.6,385.1 L1411.3,393.8 L1416,402.6 L1420.8,411.4 L1425.6,420.2 L1430.6,429 L1435.6,437.7 L1440.7,446.5 L1446,455.3 L1451.4,464.1 L1457,472.9 L1462.7,481.7 L1468.5,490.4 L1474.5,499.2 L1480.5,508 L1486.7,516.8 L1493,525.6 L1499.3,534.3 L1505.8,543.1 L1512.3,551.9 L1518.8,560.7 L1525.4,569.5 L1532,578.2 L1538.6,587 L1545.2,595.8 L1551.9,604.6 L1558.5,613.4 L1565.1,622.1 L1571.7,630.9 L1578.2,639.7 L1584.7,648.5 L1591.2,657.3 L1597.6,666 L1604,674.8 L1610.4,683.6 L1616.8,692.4 L1623.1,701.2 L1629.4,709.9 L1635.6,718.7 L1641.8,727.5 L1648,736.3 L1654.1,745.1 L1660.2,753.8 L1666.2,762.6 L1672.2,771.4 L1678.2,780.2 L1684.1,789 L1690,797.8 L1695.9,806.5 L1701.7,815.3 L1707.4,824.1 L1713.1,832.9 L1718.8,841.7 L1724.4,850.4 L1730,859.2 L1735.5,868 L1741,876.8 L1746.4,885.6 L1751.8,894.3 L1757.2,903.1 L1762.5,911.9 L1767.7,920.7 L1772.9,929.5 L1778,938.2 L1783.1,947 L1788.1,955.8 L1793,964.6 L1797.9,973.4 L1802.7,982.1 L1807.4,990.9 L1812.1,999.7 L1816.6,1008.5 L1821,1017.3 L1825.4,1026 L1829.6,1034.8 L1833.7,1043.6 L1837.7,1052.4 L1841.6,1061.2 L1845.4,1069.9 L1849.1,1078.7 L1852.6,1087.5 L1856,1096.3 L1859.2,1105.1 L1862.4,1113.9 L1865.5,1122.6 L1868.5,1131.4 L1871.4,1140.2 L1874.2,1149 L1877,1157.8 L1879.7,1166.5 L1882.4,1175.3 L1885,1184.1 L1887.5,1192.9 L1890.1,1201.7 L1892.6,1210.4 L1895.1,1219.2 L1897.6,1228"/>
<path d="M1151.7,7.5 L1160.3,16.3 L1168.8,25.1 L1177.3,33.8 L1185.7,42.6 L1193.9,51.4 L1202,60.2 L1209.9,69 L1217.5,77.7 L1224.9,86.5 L1232,95.3 L1238.8,104.1 L1245.4,112.9 L1251.9,121.6 L1258.2,130.4 L1264.3,139.2 L1270.4,148 L1276.5,156.8 L1282.5,165.6 L1288.6,174.3 L1294.6,183.1 L1300.6,191.9 L1306.6,200.7 L1312.6,209.5 L1318.5,218.2 L1324.4,227 L1330.3,235.8 L1336.1,244.6 L1341.8,253.4 L1347.5,262.1 L1353.1,270.9 L1358.7,279.7 L1364.1,288.5 L1369.5,297.3 L1374.9,306 L1380.1,314.8 L1385.3,323.6 L1390.4,332.4 L1395.5,341.2 L1400.5,349.9 L1405.5,358.7 L1410.5,367.5 L1415.5,376.3 L1420.6,385.1 L1425.7,393.8 L1430.8,402.6 L1436,411.4 L1441.3,420.2 L1446.7,429 L1452.2,437.7 L1457.8,446.5 L1463.5,455.3 L1469.4,464.1 L1475.5,472.9 L1481.8,481.7 L1488.2,490.4 L1494.7,499.2 L1501.3,508 L1508.1,516.8 L1514.9,525.6 L1521.8,534.3 L1528.8,543.1 L1535.9,551.9 L1543,560.7 L1550.1,569.5 L1557.2,578.2 L1564.4,587 L1571.5,595.8 L1578.6,604.6 L1585.7,613.4 L1592.7,622.1 L1599.7,630.9 L1606.6,639.7 L1613.5,648.5 L1620.3,657.3 L1627,666 L1633.7,674.8 L1640.3,683.6 L1646.9,692.4 L1653.4,701.2 L1659.9,709.9 L1666.3,718.7 L1672.6,727.5 L1678.9,736.3 L1685.2,745.1 L1691.3,753.8 L1697.4,762.6 L1703.5,771.4 L1709.4,780.2 L1715.3,789 L1721.2,797.8 L1727,806.5 L1732.7,815.3 L1738.4,824.1 L1743.9,832.9 L1749.5,841.7 L1754.9,850.4 L1760.3,859.2 L1765.6,868 L1770.9,876.8 L1776.1,885.6 L1781.2,894.3 L1786.2,903.1 L1791.2,911.9 L1796.1,920.7 L1800.9,929.5 L1805.7,938.2 L1810.3,947 L1814.9,955.8 L1819.4,964.6 L1823.8,973.4 L1828.2,982.1 L1832.4,990.9 L1836.6,999.7 L1840.6,1008.5 L1844.6,1017.3 L1848.4,1026 L1852.1,1034.8 L1855.8,1043.6 L1859.3,1052.4 L1862.7,1061.2 L1866,1069.9 L1869.2,1078.7 L1872.2,1087.5 L1875.2,1096.3 L1878,1105.1 L1880.8,1113.9 L1883.4,1122.6 L1886,1131.4 L1888.5,1140.2 L1890.9,1149 L1893.3,1157.8 L1895.6,1166.5 L1897.9,1175.3 L1900.1,1184.1 L1902.3,1192.9 L1904.4,1201.7 L1906.6,1210.4 L1908.7,1219.2 L1910.8,1228"/>
<path d="M1151.7,7.5 L1160.6,16.3 L1169.6,25.1 L1178.4,33.8 L1187.1,42.6 L1195.7,51.4 L1204.2,60.2 L1212.4,69 L1220.3,77.7 L1228,86.5 L1235.5,95.3 L1242.6,104.1 L1249.6,112.9 L1256.3,121.6 L1262.9,130.4 L1269.4,139.2 L1275.8,148 L1282.2,156.8 L1288.6,165.6 L1294.9,174.3 L1301.3,183.1 L1307.6,191.9 L1313.9,200.7 L1320.2,209.5 L1326.4,218.2 L1332.6,227 L1338.7,235.8 L1344.8,244.6 L1350.9,253.4 L1356.8,262.1 L1362.8,270.9 L1368.6,279.7 L1374.4,288.5 L1380.1,297.3 L1385.8,306 L1391.4,314.8 L1396.9,323.6 L1402.4,332.4 L1407.9,341.2 L1413.3,349.9 L1418.7,358.7 L1424.1,367.5 L1429.6,376.3 L1435.1,385.1 L1440.7,393.8 L1446.3,402.6 L1452,411.4 L1457.8,420.2 L1463.7,429 L1469.8,437.7 L1476,446.5 L1482.3,455.3 L1488.9,464.1 L1495.6,472.9 L1502.5,481.7 L1509.5,490.4 L1516.7,499.2 L1524,508 L1531.4,516.8 L1538.9,525.6 L1546.5,534.3 L1554.1,543.1 L1561.7,551.9 L1569.4,560.7 L1577,569.5 L1584.7,578.2 L1592.2,587 L1599.8,595.8 L1607.2,604.6 L1614.6,613.4 L1621.8,622.1 L1628.9,630.9 L1635.9,639.7 L1642.8,648.5 L1649.6,657.3 L1656.3,666 L1662.9,674.8 L1669.3,683.6 L1675.7,692.4 L1682.1,701.2 L1688.3,709.9 L1694.4,718.7 L1700.5,727.5 L1706.5,736.3 L1712.5,745.1 L1718.4,753.8 L1724.2,762.6 L1730,771.4 L1735.8,780.2 L1741.5,789 L1747.1,797.8 L1752.7,806.5 L1758.2,815.3 L1763.7,824.1 L1769.1,832.9 L1774.4,841.7 L1779.7,850.4 L1784.9,859.2 L1790.1,868 L1795.1,876.8 L1800.1,885.6 L1805,894.3 L1809.8,903.1 L1814.5,911.9 L1819.2,920.7 L1823.7,929.5 L1828.2,938.2 L1832.5,947 L1836.8,955.8 L1840.9,964.6 L1845,973.4 L1849,982.1 L1852.8,990.9 L1856.6,999.7 L1860.2,1008.5 L1863.8,1017.3 L1867.2,1026 L1870.5,1034.8 L1873.7,1043.6 L1876.8,1052.4 L1879.8,1061.2 L1882.7,1069.9 L1885.4,1078.7 L1888.1,1087.5 L1890.6,1096.3 L1893,1105.1 L1895.3,1113.9 L1897.6,1122.6 L1899.7,1131.4 L1901.8,1140.2 L1903.8,1149 L1905.8,1157.8 L1907.7,1166.5 L1909.5,1175.3 L1911.3,1184.1 L1913.1,1192.9 L1914.9,1201.7 L1916.6,1210.4 L1918.3,1219.2 L1920,1228"/>
<path d="M1151.7,7.5 L1161,16.3 L1170.3,25.1 L1179.5,33.8 L1188.6,42.6 L1197.5,51.4 L1206.3,60.2 L1214.9,69 L1223.2,77.7 L1231.2,86.5 L1239,95.3 L1246.4,104.1 L1253.7,112.9 L1260.8,121.6 L1267.7,130.4 L1274.5,139.2 L1281.2,148 L1287.9,156.8 L1294.6,165.6 L1301.2,174.3 L1307.9,183.1 L1314.5,191.9 L1321.1,200.7 L1327.7,209.5 L1334.3,218.2 L1340.8,227 L1347.2,235.8 L1353.6,244.6 L1359.9,253.4 L1366.2,262.1 L1372.4,270.9 L1378.5,279.7 L1384.7,288.5 L1390.7,297.3 L1396.7,306 L1402.7,314.8 L1408.6,323.6 L1414.5,332.4 L1420.4,341.2 L1426.3,349.9 L1432.1,358.7 L1438,367.5 L1444,376.3 L1450,385.1 L1456,393.8 L1462.1,402.6 L1468.4,411.4 L1474.7,420.2 L1481.1,429 L1487.6,437.7 L1494.3,446.5 L1501.1,455.3 L1508.1,464.1 L1515.3,472.9 L1522.6,481.7 L1530.1,490.4 L1537.7,499.2 L1545.3,508 L1553.1,516.8 L1561,525.6 L1568.9,534.3 L1576.8,543.1 L1584.8,551.9 L1592.7,560.7 L1600.6,569.5 L1608.5,578.2 L1616.3,587 L1624,595.8 L1631.7,604.6 L1639.2,613.4 L1646.6,622.1 L1653.8,630.9 L1660.9,639.7 L1667.9,648.5 L1674.8,657.3 L1681.5,666 L1688.1,674.8 L1694.6,683.6 L1701,692.4 L1707.2,701.2 L1713.4,709.9 L1719.5,718.7 L1725.5,727.5 L1731.3,736.3 L1737.1,745.1 L1742.9,753.8 L1748.5,762.6 L1754.1,771.4 L1759.6,780.2 L1765,789 L1770.4,797.8 L1775.7,806.5 L1780.9,815.3 L1786.1,824.1 L1791.1,832.9 L1796.1,841.7 L1801.1,850.4 L1805.9,859.2 L1810.7,868 L1815.4,876.8 L1820,885.6 L1824.5,894.3 L1828.9,903.1 L1833.3,911.9 L1837.5,920.7 L1841.7,929.5 L1845.8,938.2 L1849.8,947 L1853.8,955.8 L1857.6,964.6 L1861.3,973.4 L1864.9,982.1 L1868.5,990.9 L1871.9,999.7 L1875.2,1008.5 L1878.5,1017.3 L1881.6,1026 L1884.6,1034.8 L1887.5,1043.6 L1890.2,1052.4 L1892.9,1061.2 L1895.5,1069.9 L1897.9,1078.7 L1900.2,1087.5 L1902.4,1096.3 L1904.5,1105.1 L1906.5,1113.9 L1908.4,1122.6 L1910.3,1131.4 L1912,1140.2 L1913.7,1149 L1915.3,1157.8 L1916.9,1166.5 L1918.4,1175.3 L1919.9,1184.1 L1921.3,1192.9 L1922.7,1201.7 L1924.1,1210.4 L1925.5,1219.2 L1926.9,1228"/>
<path d="M1151.7,7.5 L1161.4,16.3 L1171,25.1 L1180.5,33.8 L1190,42.6 L1199.3,51.4 L1208.4,60.2 L1217.3,69 L1225.9,77.7 L1234.3,86.5 L1242.4,95.3 L1250.2,104.1 L1257.8,112.9 L1265.2,121.6 L1272.4,130.4 L1279.5,139.2 L1286.5,148 L1293.5,156.8 L1300.5,165.6 L1307.5,174.3 L1314.4,183.1 L1321.4,191.9 L1328.3,200.7 L1335.1,209.5 L1342,218.2 L1348.8,227 L1355.5,235.8 L1362.2,244.6 L1368.8,253.4 L1375.3,262.1 L1381.8,270.9 L1388.3,279.7 L1394.7,288.5 L1401.1,297.3 L1407.5,306 L1413.8,314.8 L1420.1,323.6 L1426.4,332.4 L1432.7,341.2 L1439,349.9 L1445.3,358.7 L1451.7,367.5 L1458.1,376.3 L1464.5,385.1 L1471,393.8 L1477.6,402.6 L1484.3,411.4 L1491,420.2 L1497.9,429 L1504.8,437.7 L1511.9,446.5 L1519.1,455.3 L1526.5,464.1 L1534,472.9 L1541.6,481.7 L1549.3,490.4 L1557.2,499.2 L1565.1,508 L1573.1,516.8 L1581.2,525.6 L1589.2,534.3 L1597.3,543.1 L1605.4,551.9 L1613.5,560.7 L1621.5,569.5 L1629.5,578.2 L1637.4,587 L1645.2,595.8 L1652.9,604.6 L1660.5,613.4 L1667.9,622.1 L1675.2,630.9 L1682.3,639.7 L1689.3,648.5 L1696.2,657.3 L1702.9,666 L1709.5,674.8 L1716,683.6 L1722.3,692.4 L1728.6,701.2 L1734.7,709.9 L1740.7,718.7 L1746.6,727.5 L1752.4,736.3 L1758.1,745.1 L1763.7,753.8 L1769.2,762.6 L1774.7,771.4 L1780,780.2 L1785.3,789 L1790.5,797.8 L1795.6,806.5 L1800.6,815.3 L1805.5,824.1 L1810.4,832.9 L1815.1,841.7 L1819.8,850.4 L1824.4,859.2 L1828.9,868 L1833.2,876.8 L1837.5,885.6 L1841.7,894.3 L1845.8,903.1 L1849.8,911.9 L1853.7,920.7 L1857.5,929.5 L1861.3,938.2 L1864.9,947 L1868.4,955.8 L1871.8,964.6 L1875.1,973.4 L1878.3,982.1 L1881.4,990.9 L1884.4,999.7 L1887.3,1008.5 L1890.1,1017.3 L1892.8,1026 L1895.4,1034.8 L1897.9,1043.6 L1900.4,1052.4 L1902.7,1061.2 L1904.9,1069.9 L1907,1078.7 L1909,1087.5 L1910.9,1096.3 L1912.7,1105.1 L1914.5,1113.9 L1916.2,1122.6 L1917.8,1131.4 L1919.3,1140.2 L1920.8,1149 L1922.2,1157.8 L1923.6,1166.5 L1925,1175.3 L1926.3,1184.1 L1927.5,1192.9 L1928.8,1201.7 L1930,1210.4 L1931.3,1219.2 L1932.5,1228"/>
<path d="M1151.7,7.5 L1161.7,16.3 L1171.7,25.1 L1181.6,33.8 L1191.4,42.6 L1201,51.4 L1210.5,60.2 L1219.7,69 L1228.7,77.7 L1237.4,86.5 L1245.8,95.3 L1253.9,104.1 L1261.8,112.9 L1269.5,121.6 L1277,130.4 L1284.4,139.2 L1291.8,148 L1299,156.8 L1306.3,165.6 L1313.6,174.3 L1320.8,183.1 L1328.1,191.9 L1335.3,200.7 L1342.4,209.5 L1349.6,218.2 L1356.6,227 L1363.6,235.8 L1370.6,244.6 L1377.5,253.4 L1384.3,262.1 L1391.1,270.9 L1397.9,279.7 L1404.6,288.5 L1411.3,297.3 L1418,306 L1424.7,314.8 L1431.3,323.6 L1438,332.4 L1444.7,341.2 L1451.5,349.9 L1458.2,358.7 L1465,367.5 L1471.8,376.3 L1478.7,385.1 L1485.6,393.8 L1492.6,402.6 L1499.6,411.4 L1506.7,420.2 L1513.9,429 L1521.2,437.7 L1528.6,446.5 L1536.1,455.3 L1543.6,464.1 L1551.3,472.9 L1559.1,481.7 L1567,490.4 L1575,499.2 L1583,508 L1591,516.8 L1599.1,525.6 L1607.2,534.3 L1615.3,543.1 L1623.4,551.9 L1631.5,560.7 L1639.5,569.5 L1647.4,578.2 L1655.3,587 L1663.1,595.8 L1670.9,604.6 L1678.4,613.4 L1685.9,622.1 L1693.2,630.9 L1700.4,639.7 L1707.5,648.5 L1714.5,657.3 L1721.3,666 L1727.9,674.8 L1734.5,683.6 L1740.9,692.4 L1747.2,701.2 L1753.4,709.9 L1759.4,718.7 L1765.3,727.5 L1771.1,736.3 L1776.8,745.1 L1782.3,753.8 L1787.7,762.6 L1793.1,771.4 L1798.2,780.2 L1803.3,789 L1808.3,797.8 L1813.1,806.5 L1817.9,815.3 L1822.5,824.1 L1827,832.9 L1831.4,841.7 L1835.7,850.4 L1839.9,859.2 L1844,868 L1848,876.8 L1851.9,885.6 L1855.6,894.3 L1859.3,903.1 L1862.9,911.9 L1866.4,920.7 L1869.8,929.5 L1873.2,938.2 L1876.4,947 L1879.5,955.8 L1882.6,964.6 L1885.5,973.4 L1888.4,982.1 L1891.1,990.9 L1893.8,999.7 L1896.4,1008.5 L1898.9,1017.3 L1901.3,1026 L1903.6,1034.8 L1905.8,1043.6 L1907.9,1052.4 L1910,1061.2 L1911.9,1069.9 L1913.8,1078.7 L1915.6,1087.5 L1917.2,1096.3 L1918.8,1105.1 L1920.4,1113.9 L1921.8,1122.6 L1923.2,1131.4 L1924.6,1140.2 L1925.9,1149 L1927.1,1157.8 L1928.3,1166.5 L1929.5,1175.3 L1930.6,1184.1 L1931.7,1192.9 L1932.8,1201.7 L1933.9,1210.4 L1934.9,1219.2 L1936,1228"/>
<path d="M1151.7,7.5 L1162,16.3 L1172.3,25.1 L1182.6,33.8 L1192.7,42.6 L1202.7,51.4 L1212.5,60.2 L1222,69 L1231.3,77.7 L1240.3,86.5 L1249,95.3 L1257.5,104.1 L1265.7,112.9 L1273.7,121.6 L1281.5,130.4 L1289.2,139.2 L1296.8,148 L1304.4,156.8 L1311.9,165.6 L1319.5,174.3 L1327,183.1 L1334.6,191.9 L1342,200.7 L1349.5,209.5 L1356.9,218.2 L1364.3,227 L1371.6,235.8 L1378.8,244.6 L1386,253.4 L1393.1,262.1 L1400.2,270.9 L1407.3,279.7 L1414.3,288.5 L1421.3,297.3 L1428.3,306 L1435.2,314.8 L1442.2,323.6 L1449.2,332.4 L1456.2,341.2 L1463.2,349.9 L1470.3,358.7 L1477.4,367.5 L1484.5,376.3 L1491.6,385.1 L1498.8,393.8 L1506.1,402.6 L1513.4,411.4 L1520.7,420.2 L1528.2,429 L1535.7,437.7 L1543.3,446.5 L1551,455.3 L1558.7,464.1 L1566.6,472.9 L1574.5,481.7 L1582.5,490.4 L1590.6,499.2 L1598.7,508 L1606.9,516.8 L1615,525.6 L1623.2,534.3 L1631.4,543.1 L1639.5,551.9 L1647.6,560.7 L1655.7,569.5 L1663.6,578.2 L1671.5,587 L1679.4,595.8 L1687.1,604.6 L1694.7,613.4 L1702.1,622.1 L1709.4,630.9 L1716.6,639.7 L1723.6,648.5 L1730.6,657.3 L1737.3,666 L1743.9,674.8 L1750.4,683.6 L1756.8,692.4 L1763,701.2 L1769.1,709.9 L1775,718.7 L1780.9,727.5 L1786.5,736.3 L1792.1,745.1 L1797.5,753.8 L1802.8,762.6 L1807.9,771.4 L1813,780.2 L1817.8,789 L1822.6,797.8 L1827.2,806.5 L1831.7,815.3 L1836.1,824.1 L1840.4,832.9 L1844.5,841.7 L1848.6,850.4 L1852.5,859.2 L1856.3,868 L1860,876.8 L1863.6,885.6 L1867,894.3 L1870.4,903.1 L1873.7,911.9 L1876.8,920.7 L1879.9,929.5 L1882.9,938.2 L1885.7,947 L1888.5,955.8 L1891.2,964.6 L1893.8,973.4 L1896.3,982.1 L1898.7,990.9 L1901,999.7 L1903.2,1008.5 L1905.4,1017.3 L1907.5,1026 L1909.5,1034.8 L1911.4,1043.6 L1913.2,1052.4 L1915,1061.2 L1916.7,1069.9 L1918.3,1078.7 L1919.8,1087.5 L1921.3,1096.3 L1922.8,1105.1 L1924.1,1113.9 L1925.4,1122.6 L1926.7,1131.4 L1927.9,1140.2 L1929.1,1149 L1930.2,1157.8 L1931.3,1166.5 L1932.4,1175.3 L1933.5,1184.1 L1934.5,1192.9 L1935.5,1201.7 L1936.5,1210.4 L1937.5,1219.2 L1938.5,1228"/>
<path d="M1151.7,7.5 L1162.4,16.3 L1173,25.1 L1183.5,33.8 L1194,42.6 L1204.3,51.4 L1214.4,60.2 L1224.2,69 L1233.8,77.7 L1243.2,86.5 L1252.2,95.3 L1260.9,104.1 L1269.4,112.9 L1277.6,121.6 L1285.8,130.4 L1293.8,139.2 L1301.7,148 L1309.5,156.8 L1317.3,165.6 L1325.1,174.3 L1333,183.1 L1340.7,191.9 L1348.5,200.7 L1356.2,209.5 L1363.9,218.2 L1371.5,227 L1379.1,235.8 L1386.6,244.6 L1394.1,253.4 L1401.5,262.1 L1408.9,270.9 L1416.2,279.7 L1423.5,288.5 L1430.8,297.3 L1438,306 L1445.3,314.8 L1452.6,323.6 L1459.9,332.4 L1467.2,341.2 L1474.5,349.9 L1481.8,358.7 L1489.2,367.5 L1496.6,376.3 L1504,385.1 L1511.5,393.8 L1519,402.6 L1526.5,411.4 L1534.1,420.2 L1541.8,429 L1549.5,437.7 L1557.2,446.5 L1565.1,455.3 L1573,464.1 L1581,472.9 L1589,481.7 L1597.2,490.4 L1605.3,499.2 L1613.5,508 L1621.7,516.8 L1629.9,525.6 L1638,534.3 L1646.2,543.1 L1654.3,551.9 L1662.4,560.7 L1670.4,569.5 L1678.4,578.2 L1686.2,587 L1694,595.8 L1701.7,604.6 L1709.2,613.4 L1716.6,622.1 L1723.8,630.9 L1730.9,639.7 L1737.9,648.5 L1744.7,657.3 L1751.4,666 L1758,674.8 L1764.4,683.6 L1770.6,692.4 L1776.7,701.2 L1782.7,709.9 L1788.5,718.7 L1794.2,727.5 L1799.8,736.3 L1805.2,745.1 L1810.4,753.8 L1815.5,762.6 L1820.5,771.4 L1825.3,780.2 L1830,789 L1834.6,797.8 L1839,806.5 L1843.3,815.3 L1847.4,824.1 L1851.4,832.9 L1855.3,841.7 L1859.1,850.4 L1862.7,859.2 L1866.2,868 L1869.6,876.8 L1872.9,885.6 L1876.1,894.3 L1879.2,903.1 L1882.1,911.9 L1885,920.7 L1887.8,929.5 L1890.4,938.2 L1893,947 L1895.4,955.8 L1897.8,964.6 L1900.1,973.4 L1902.3,982.1 L1904.4,990.9 L1906.4,999.7 L1908.4,1008.5 L1910.2,1017.3 L1912,1026 L1913.8,1034.8 L1915.5,1043.6 L1917.1,1052.4 L1918.6,1061.2 L1920.1,1069.9 L1921.5,1078.7 L1922.9,1087.5 L1924.3,1096.3 L1925.5,1105.1 L1926.8,1113.9 L1928,1122.6 L1929.2,1131.4 L1930.3,1140.2 L1931.4,1149 L1932.5,1157.8 L1933.5,1166.5 L1934.6,1175.3 L1935.6,1184.1 L1936.6,1192.9 L1937.6,1201.7 L1938.6,1210.4 L1939.5,1219.2 L1940.5,1228"/>
<path d="M1151.7,7.5 L1162.7,16.3 L1173.6,25.1 L1184.5,33.8 L1195.2,42.6 L1205.8,51.4 L1216.2,60.2 L1226.3,69 L1236.2,77.7 L1245.8,86.5 L1255.1,95.3 L1264.1,104.1 L1272.9,112.9 L1281.4,121.6 L1289.8,130.4 L1298.1,139.2 L1306.2,148 L1314.3,156.8 L1322.4,165.6 L1330.5,174.3 L1338.6,183.1 L1346.6,191.9 L1354.6,200.7 L1362.6,209.5 L1370.6,218.2 L1378.4,227 L1386.3,235.8 L1394.1,244.6 L1401.8,253.4 L1409.5,262.1 L1417.1,270.9 L1424.7,279.7 L1432.3,288.5 L1439.8,297.3 L1447.4,306 L1454.9,314.8 L1462.4,323.6 L1469.9,332.4 L1477.5,341.2 L1485,349.9 L1492.6,358.7 L1500.2,367.5 L1507.8,376.3 L1515.4,385.1 L1523.1,393.8 L1530.7,402.6 L1538.5,411.4 L1546.2,420.2 L1554,429 L1561.9,437.7 L1569.8,446.5 L1577.8,455.3 L1585.8,464.1 L1593.9,472.9 L1602,481.7 L1610.2,490.4 L1618.4,499.2 L1626.6,508 L1634.8,516.8 L1643,525.6 L1651.2,534.3 L1659.4,543.1 L1667.5,551.9 L1675.6,560.7 L1683.5,569.5 L1691.5,578.2 L1699.3,587 L1707,595.8 L1714.6,604.6 L1722,613.4 L1729.3,622.1 L1736.5,630.9 L1743.5,639.7 L1750.4,648.5 L1757.1,657.3 L1763.7,666 L1770.1,674.8 L1776.4,683.6 L1782.5,692.4 L1788.5,701.2 L1794.3,709.9 L1800,718.7 L1805.5,727.5 L1810.8,736.3 L1816.1,745.1 L1821.1,753.8 L1826,762.6 L1830.8,771.4 L1835.4,780.2 L1839.8,789 L1844.1,797.8 L1848.3,806.5 L1852.3,815.3 L1856.2,824.1 L1860,832.9 L1863.6,841.7 L1867.1,850.4 L1870.4,859.2 L1873.7,868 L1876.8,876.8 L1879.8,885.6 L1882.7,894.3 L1885.5,903.1 L1888.2,911.9 L1890.8,920.7 L1893.2,929.5 L1895.6,938.2 L1897.9,947 L1900.1,955.8 L1902.2,964.6 L1904.3,973.4 L1906.2,982.1 L1908.1,990.9 L1909.9,999.7 L1911.6,1008.5 L1913.3,1017.3 L1914.9,1026 L1916.5,1034.8 L1918,1043.6 L1919.4,1052.4 L1920.8,1061.2 L1922.2,1069.9 L1923.5,1078.7 L1924.8,1087.5 L1926,1096.3 L1927.2,1105.1 L1928.4,1113.9 L1929.6,1122.6 L1930.7,1131.4 L1931.8,1140.2 L1932.9,1149 L1933.9,1157.8 L1935,1166.5 L1936,1175.3 L1937,1184.1 L1938,1192.9 L1939,1201.7 L1940,1210.4 L1941,1219.2 L1942,1228"/>
<path d="M1151.7,7.5 L1162.9,16.3 L1174.1,25.1 L1185.3,33.8 L1196.3,42.6 L1207.1,51.4 L1217.8,60.2 L1228.2,69 L1238.4,77.7 L1248.2,86.5 L1257.8,95.3 L1267,104.1 L1276,112.9 L1284.8,121.6 L1293.5,130.4 L1301.9,139.2 L1310.3,148 L1318.7,156.8 L1327,165.6 L1335.3,174.3 L1343.6,183.1 L1351.9,191.9 L1360.1,200.7 L1368.3,209.5 L1376.5,218.2 L1384.6,227 L1392.7,235.8 L1400.7,244.6 L1408.7,253.4 L1416.6,262.1 L1424.5,270.9 L1432.3,279.7 L1440.1,288.5 L1447.9,297.3 L1455.7,306 L1463.4,314.8 L1471.2,323.6 L1479,332.4 L1486.7,341.2 L1494.5,349.9 L1502.3,358.7 L1510.1,367.5 L1517.9,376.3 L1525.7,385.1 L1533.6,393.8 L1541.4,402.6 L1549.3,411.4 L1557.3,420.2 L1565.2,429 L1573.2,437.7 L1581.3,446.5 L1589.4,455.3 L1597.5,464.1 L1605.7,472.9 L1613.9,481.7 L1622.1,490.4 L1630.3,499.2 L1638.6,508 L1646.8,516.8 L1655,525.6 L1663.2,534.3 L1671.4,543.1 L1679.4,551.9 L1687.4,560.7 L1695.3,569.5 L1703.2,578.2 L1710.9,587 L1718.4,595.8 L1725.9,604.6 L1733.2,613.4 L1740.4,622.1 L1747.3,630.9 L1754.2,639.7 L1760.8,648.5 L1767.3,657.3 L1773.7,666 L1779.8,674.8 L1785.9,683.6 L1791.7,692.4 L1797.4,701.2 L1803,709.9 L1808.4,718.7 L1813.7,727.5 L1818.8,736.3 L1823.7,745.1 L1828.5,753.8 L1833.2,762.6 L1837.7,771.4 L1842,780.2 L1846.2,789 L1850.3,797.8 L1854.2,806.5 L1858,815.3 L1861.7,824.1 L1865.2,832.9 L1868.6,841.7 L1871.9,850.4 L1875.1,859.2 L1878.2,868 L1881.1,876.8 L1883.9,885.6 L1886.7,894.3 L1889.3,903.1 L1891.8,911.9 L1894.2,920.7 L1896.5,929.5 L1898.8,938.2 L1900.9,947 L1903,955.8 L1904.9,964.6 L1906.8,973.4 L1908.7,982.1 L1910.4,990.9 L1912.1,999.7 L1913.7,1008.5 L1915.3,1017.3 L1916.8,1026 L1918.3,1034.8 L1919.7,1043.6 L1921.1,1052.4 L1922.4,1061.2 L1923.7,1069.9 L1925,1078.7 L1926.2,1087.5 L1927.4,1096.3 L1928.6,1105.1 L1929.8,1113.9 L1930.9,1122.6 L1932,1131.4 L1933.1,1140.2 L1934.2,1149 L1935.3,1157.8 L1936.3,1166.5 L1937.4,1175.3 L1938.4,1184.1 L1939.4,1192.9 L1940.5,1201.7 L1941.5,1210.4 L1942.5,1219.2 L1943.5,1228"/>
</g>
<path d="M1753.5,7.5 L1760.1,49.6 L1766.6,91.7 L1773.2,133.7 L1779.8,175.8 L1786.4,217.9 L1793,260 L1799.5,302 L1806.1,344.1 L1812.7,386.2 L1819.3,428.3 L1825.9,470.4 L1832.6,512.4 L1839.2,554.5 L1845.8,596.6 L1852.4,638.6 L1859,680.7 L1865.5,722.8 L1872.1,764.9 L1878.6,807 L1885.2,849.1 L1891.7,891.1 L1898.2,933.2 L1904.7,975.3 L1911.1,1017.4 L1917.5,1059.5 L1923.9,1101.6 L1930.2,1143.8 L1936.5,1185.9 L1942.8,1228" stroke="#0a0a0a" stroke-width="1.7" fill="none"/>
<g fill="#151515">
<circle cx="1226.1" cy="58.7" r="12"/>
<circle cx="1248.1" cy="74" r="12"/>
<circle cx="1264.4" cy="89.4" r="12"/>
<circle cx="1278.2" cy="104.4" r="12"/>
<circle cx="1297.3" cy="119.9" r="12"/>
<circle cx="1313.6" cy="134.9" r="12"/>
<circle cx="1327.8" cy="157.9" r="12"/>
<circle cx="1450.6" cy="234.2" r="12"/>
<circle cx="1635" cy="456.7" r="12"/>
<circle cx="1661.9" cy="473.8" r="12"/>
<circle cx="1627.3" cy="485.6" r="12"/>
<circle cx="1654.6" cy="524.8" r="12"/>
<circle cx="1658.9" cy="529" r="12"/>
<circle cx="1669.4" cy="556.5" r="12"/>
<circle cx="1669.4" cy="570.7" r="12"/>
<circle cx="1683.6" cy="588.6" r="12"/>
</g>
<g font-family="'Liberation Sans', Arial, Helvetica, sans-serif">
<text x="1128.7" y="21.4" font-size="29" text-anchor="end" fill="#404040">0</text>
<text x="1122.4" y="174" font-size="29" text-anchor="end" fill="#404040">10</text>
<text x="1122.4" y="326.5" font-size="29" text-anchor="end" fill="#404040">20</text>
<text x="1122.4" y="479.1" font-size="29" text-anchor="end" fill="#404040">30</text>
<text x="1122.4" y="631.6" font-size="29" text-anchor="end" fill="#404040">40</text>
<text x="1122.4" y="784.2" font-size="29" text-anchor="end" fill="#404040">50</text>
<text x="1122.4" y="936.8" font-size="29" text-anchor="end" fill="#404040">60</text>
<text x="1122.4" y="1089.3" font-size="29" text-anchor="end" fill="#404040">70</text>
<text x="1122.4" y="1241.9" font-size="29" text-anchor="end" fill="#404040">80</text>
<text x="1139.5" y="1282" font-size="29" text-anchor="start" fill="#404040">0</text>
<text x="1391.9" y="1282" font-size="29" text-anchor="start" fill="#404040">500</text>
<text x="1654" y="1282" font-size="29" text-anchor="start" fill="#404040">1000</text>
<text x="1927.7" y="1282" font-size="29" text-anchor="start" fill="#404040">1500</text>
<text x="1069" y="648" font-size="29" text-anchor="middle" fill="#404040" transform="rotate(-90 1069 648)">Depth (km)</text>
<text x="1415.7" y="1327.3" font-size="29"><tspan fill="#1a1a1a">Temperature </tspan><tspan fill="#404040">(°C)</tspan></text>
<text x="1439.7" y="697" font-size="29" text-anchor="start" fill="#0a0a0a" font-style="italic" transform="rotate(71 1439.7 697)">0 Myr</text>
<text x="1792.7" y="688" font-size="29" text-anchor="start" fill="#0a0a0a" font-style="italic" transform="rotate(58 1792.7 688)">35 Myr</text>
<rect x="1891.1" y="29.5" width="58.8" height="58.5" fill="#fff" stroke="#141414" stroke-width="2"/>
<text x="1919.7" y="66.8" font-size="29" text-anchor="middle" fill="#0a0a0a">b</text>
</g>
</g>
</svg>
</body>
</html>
